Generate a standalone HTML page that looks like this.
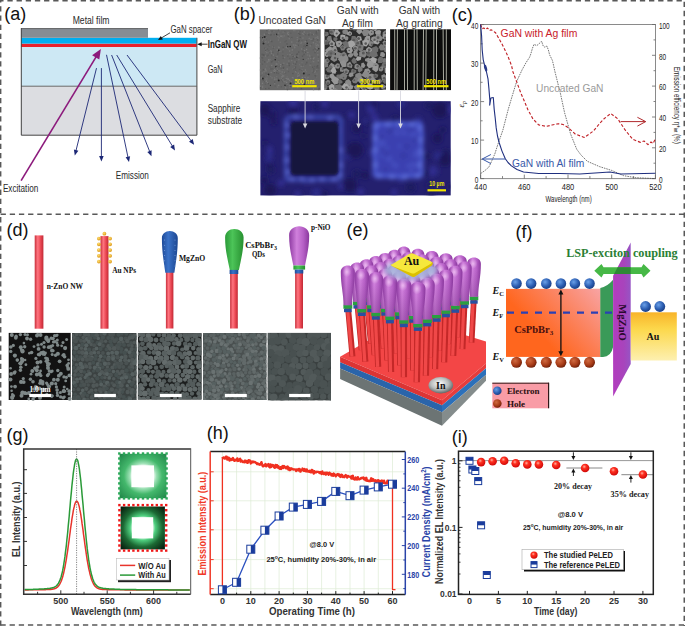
<!DOCTYPE html>
<html><head><meta charset="utf-8"><style>
html,body{margin:0;padding:0;background:#fff;}
svg{display:block;}
</style></head><body>
<svg width="685" height="626" viewBox="0 0 685 626">
<defs><linearGradient id="rodG" x1="0" x2="1" y1="0" y2="0"><stop offset="0" stop-color="#c8303c"/><stop offset="0.35" stop-color="#ff7580"/><stop offset="0.7" stop-color="#e84450"/><stop offset="1" stop-color="#c02a36"/></linearGradient>
<linearGradient id="blueH" x1="0" x2="1" y1="0" y2="0"><stop offset="0" stop-color="#1e4a98"/><stop offset="0.4" stop-color="#3a72c8"/><stop offset="1" stop-color="#1c4690"/></linearGradient>
<linearGradient id="greenH" x1="0" x2="1" y1="0" y2="0"><stop offset="0" stop-color="#2a9a38"/><stop offset="0.4" stop-color="#4cc458"/><stop offset="1" stop-color="#279030"/></linearGradient>
<linearGradient id="purpH" x1="0" x2="1" y1="0" y2="0"><stop offset="0" stop-color="#8e3aa2"/><stop offset="0.38" stop-color="#d080dc"/><stop offset="0.7" stop-color="#b660c6"/><stop offset="1" stop-color="#8a389e"/></linearGradient>
<radialGradient id="goldB" cx="0.4" cy="0.35" r="0.7"><stop offset="0" stop-color="#ffe070"/><stop offset="1" stop-color="#d89010"/></radialGradient>
<radialGradient id="eB" cx="0.38" cy="0.35" r="0.7"><stop offset="0" stop-color="#6aa0e8"/><stop offset="0.6" stop-color="#2a5cb0"/><stop offset="1" stop-color="#1a3c80"/></radialGradient>
<radialGradient id="hB" cx="0.38" cy="0.35" r="0.7"><stop offset="0" stop-color="#d06a40"/><stop offset="0.6" stop-color="#a83c18"/><stop offset="1" stop-color="#6a1e08"/></radialGradient>
<radialGradient id="rB" cx="0.4" cy="0.35" r="0.65"><stop offset="0" stop-color="#ffb0a0"/><stop offset="0.35" stop-color="#ff3020"/><stop offset="1" stop-color="#d00808"/></radialGradient>
<radialGradient id="inB" cx="0.45" cy="0.4" r="0.65"><stop offset="0" stop-color="#ffffff"/><stop offset="0.55" stop-color="#b8bcbc"/><stop offset="1" stop-color="#505858"/></radialGradient>
<linearGradient id="orgG" gradientUnits="userSpaceOnUse" x1="545" y1="340" x2="600" y2="289"><stop offset="0" stop-color="#f8a0a0" stop-opacity="0"/><stop offset="0.45" stop-color="#f8a0a0" stop-opacity="0.45"/><stop offset="1" stop-color="#f8a4a4" stop-opacity="1"/></linearGradient>
<linearGradient id="auG" x1="0" x2="0" y1="0" y2="1"><stop offset="0" stop-color="#f8b42a"/><stop offset="0.35" stop-color="#fcd84c"/><stop offset="1" stop-color="#fdf0b0"/></linearGradient>
<linearGradient id="mgG" x1="0" x2="1" y1="0" y2="0"><stop offset="0" stop-color="#b23cbe"/><stop offset="0.6" stop-color="#a844bc"/><stop offset="1" stop-color="#9654c4"/></linearGradient>
<radialGradient id="gin1" cx="0.5" cy="0.5" r="0.68"><stop offset="0.32" stop-color="#ffffff"/><stop offset="0.42" stop-color="#9ce0b4"/><stop offset="0.6" stop-color="#44b86c"/><stop offset="1" stop-color="#22884a"/></radialGradient>
<radialGradient id="gin2" cx="0.5" cy="0.5" r="0.68"><stop offset="0.3" stop-color="#ffffff"/><stop offset="0.42" stop-color="#50d080"/><stop offset="0.65" stop-color="#1c6a34"/><stop offset="1" stop-color="#061a0c"/></radialGradient>
<pattern id="dotG" width="3" height="3" patternUnits="userSpaceOnUse"><rect width="1.6" height="1.6" fill="#2ab04a"/></pattern>
<pattern id="dotR" width="3" height="3" patternUnits="userSpaceOnUse"><rect width="1.6" height="1.6" fill="#e82020"/></pattern>
<filter id="blur06" x="-20%" y="-20%" width="140%" height="140%"><feGaussianBlur stdDeviation="0.6"/></filter>
<linearGradient id="hdark" x1="0" x2="0" y1="0" y2="1"><stop offset="0.3" stop-color="#5a1a6a" stop-opacity="0"/><stop offset="1" stop-color="#5a1a6a" stop-opacity="0.3"/></linearGradient>
<radialGradient id="hlite" cx="0.5" cy="0.5" r="0.5"><stop offset="0" stop-color="#ffe0ff" stop-opacity="0.6"/><stop offset="1" stop-color="#ffe0ff" stop-opacity="0"/></radialGradient>
<clipPath id="clipMg"><polygon points="613.1,275.7 630.7,242.6 630.7,364 613.1,396.5"/></clipPath>
<clipPath id="clipE"><rect x="330" y="240" width="156" height="190"/></clipPath>
<filter id="blur2" x="-20%" y="-20%" width="140%" height="140%"><feGaussianBlur stdDeviation="2"/></filter>
<filter id="blur1" x="-20%" y="-20%" width="140%" height="140%"><feGaussianBlur stdDeviation="1.1"/></filter>
<clipPath id="clipB"><rect x="260.4" y="101.2" width="190.3" height="94.2"/></clipPath></defs>
<rect width="685" height="626" fill="#fff"/>
<line x1="0" y1="0.75" x2="685" y2="0.75" stroke="#585858" stroke-width="1.5" stroke-dasharray="5.3 3.866" stroke-dashoffset="1.77"/>
<line x1="0.65" y1="0" x2="0.65" y2="626" stroke="#585858" stroke-width="1.5" stroke-dasharray="5.3 3.866" stroke-dashoffset="2.87"/>
<line x1="684.25" y1="0" x2="684.25" y2="626" stroke="#585858" stroke-width="1.5" stroke-dasharray="5.3 3.866" stroke-dashoffset="7.47"/>
<line x1="0" y1="625" x2="685" y2="625" stroke="#585858" stroke-width="1.5" stroke-dasharray="5.3 3.866" stroke-dashoffset="8.74"/>
<line x1="0" y1="214.3" x2="685" y2="214.3" stroke="#585858" stroke-width="1.5" stroke-dasharray="5.3 3.866" stroke-dashoffset="8.57"/>
<text x="4.2" y="19.8" font-size="18" fill="#111" font-family='"Liberation Sans", sans-serif'>(a)</text>
<rect x="21.0" y="86.0" width="176.2" height="49.2" fill="#dcdde1" />
<rect x="21.0" y="46.8" width="175.7" height="39.2" fill="#cde8f4" />
<line x1="21.0" y1="86.2" x2="196.7" y2="86.2" stroke="#6a6a6a" stroke-width="1" />
<rect x="21.0" y="43.6" width="175.7" height="3.4" fill="#e8202a" />
<rect x="21.0" y="37.8" width="175.7" height="5.8" fill="#00aeef" />
<rect x="21.0" y="28.2" width="127.0" height="9.6" fill="#868d94" />
<line x1="21.0" y1="28.6" x2="148.0" y2="28.6" stroke="#555" stroke-width="0.8" />
<polyline points="21.3,28.2 21.3,135.2 196.9,135.2 196.9,37.8" fill="none" stroke="#444" stroke-width="1" stroke-linejoin="round" />
<line x1="96.5" y1="68.1" x2="75.7" y2="151.8" stroke="#1c2775" stroke-width="0.9" />
<polygon points="74.8,155.5 73.9,149.6 78.4,150.7" fill="#1c2775" />
<line x1="101.4" y1="68.1" x2="101.4" y2="157.6" stroke="#1c2775" stroke-width="0.9" />
<polygon points="101.4,161.4 99.1,155.9 103.7,155.9" fill="#1c2775" />
<line x1="106.5" y1="54.8" x2="128.2" y2="158.3" stroke="#1c2775" stroke-width="0.9" />
<polygon points="129.0,162.1 125.6,157.2 130.1,156.2" fill="#1c2775" />
<line x1="111.6" y1="55.0" x2="150.1" y2="152.6" stroke="#1c2775" stroke-width="0.9" />
<polygon points="151.5,156.2 147.3,151.9 151.6,150.2" fill="#1c2775" />
<line x1="116.7" y1="55.0" x2="173.0" y2="147.1" stroke="#1c2775" stroke-width="0.9" />
<polygon points="175.0,150.4 170.2,146.9 174.1,144.5" fill="#1c2775" />
<line x1="127.0" y1="55.0" x2="191.8" y2="141.7" stroke="#1c2775" stroke-width="0.9" />
<polygon points="194.1,144.8 189.0,141.8 192.7,139.0" fill="#1c2775" />
<line x1="21.1" y1="180.6" x2="97.3" y2="54.9" stroke="#8c1a7c" stroke-width="1.6" />
<polygon points="100.9,48.9 99.3,59.6 92.1,55.3" fill="#8c1a7c" />
<text x="72.7" y="24.4" font-size="11" fill="#2a2a2a" font-family='"Liberation Sans", sans-serif' textLength="36.8" lengthAdjust="spacingAndGlyphs">Metal film</text>
<text x="170.5" y="33.2" font-size="11" fill="#2a2a2a" font-family='"Liberation Sans", sans-serif' textLength="41.9" lengthAdjust="spacingAndGlyphs">GaN spacer</text>
<line x1="170.0" y1="32.8" x2="160.7" y2="38.4" stroke="#111" stroke-width="0.8" />
<polygon points="158.0,40.0 160.8,36.0 162.9,39.4" fill="#111" />
<text x="207.7" y="47.8" font-size="11" fill="#111" font-family='"Liberation Sans", sans-serif' font-weight="bold" textLength="39.3" lengthAdjust="spacingAndGlyphs">InGaN QW</text>
<line x1="207.5" y1="44.2" x2="200.3" y2="44.2" stroke="#111" stroke-width="0.8" />
<polygon points="197.2,44.2 201.7,42.2 201.7,46.2" fill="#111" />
<text x="207.7" y="73.0" font-size="11" fill="#2a2a2a" font-family='"Liberation Sans", sans-serif' textLength="14.9" lengthAdjust="spacingAndGlyphs">GaN</text>
<text x="207.7" y="111.8" font-size="11" fill="#2a2a2a" font-family='"Liberation Sans", sans-serif' textLength="32.6" lengthAdjust="spacingAndGlyphs">Sapphire</text>
<text x="207.7" y="123.8" font-size="11" fill="#2a2a2a" font-family='"Liberation Sans", sans-serif' textLength="34.5" lengthAdjust="spacingAndGlyphs">substrate</text>
<text x="115.7" y="179.2" font-size="11" fill="#2a2a2a" font-family='"Liberation Sans", sans-serif' textLength="33.2" lengthAdjust="spacingAndGlyphs">Emission</text>
<text x="2.9" y="192.2" font-size="11" fill="#2a2a2a" font-family='"Liberation Sans", sans-serif' textLength="35.4" lengthAdjust="spacingAndGlyphs">Excitation</text>
<text x="233.8" y="19.8" font-size="18" fill="#111" font-family='"Liberation Sans", sans-serif'>(b)</text>
<text x="258.4" y="24.4" font-size="10.5" fill="#333" font-family='"Liberation Sans", sans-serif' textLength="67.6" lengthAdjust="spacingAndGlyphs">Uncoated GaN</text>
<text x="336.8" y="13.9" font-size="10.5" fill="#333" font-family='"Liberation Sans", sans-serif' textLength="41.9" lengthAdjust="spacingAndGlyphs">GaN with</text>
<text x="342.0" y="26.6" font-size="10.5" fill="#333" font-family='"Liberation Sans", sans-serif' textLength="31.0" lengthAdjust="spacingAndGlyphs">Ag film</text>
<text x="398.7" y="13.9" font-size="10.5" fill="#333" font-family='"Liberation Sans", sans-serif' textLength="41.5" lengthAdjust="spacingAndGlyphs">GaN with</text>
<text x="396.0" y="26.6" font-size="10.5" fill="#333" font-family='"Liberation Sans", sans-serif' textLength="46.6" lengthAdjust="spacingAndGlyphs">Ag grating</text>
<rect x="259.8" y="29.4" width="60.9" height="60.8" fill="#676767" />
<rect x="296.9" y="73.5" width="1.3" height="1.3" fill="#707070"/>
<rect x="261.5" y="57.1" width="1.3" height="1.3" fill="#585858"/>
<rect x="298.5" y="83.0" width="1.3" height="1.3" fill="#767676"/>
<rect x="282.0" y="81.1" width="1.3" height="1.3" fill="#5e5e5e"/>
<rect x="292.2" y="63.5" width="1.3" height="1.3" fill="#767676"/>
<rect x="303.4" y="53.7" width="1.3" height="1.3" fill="#585858"/>
<rect x="314.4" y="75.0" width="1.3" height="1.3" fill="#585858"/>
<rect x="305.2" y="33.7" width="1.3" height="1.3" fill="#707070"/>
<rect x="296.6" y="36.9" width="1.3" height="1.3" fill="#767676"/>
<rect x="317.8" y="29.7" width="1.3" height="1.3" fill="#585858"/>
<rect x="317.0" y="39.3" width="1.3" height="1.3" fill="#585858"/>
<rect x="277.0" y="86.6" width="1.3" height="1.3" fill="#707070"/>
<rect x="312.0" y="66.6" width="1.3" height="1.3" fill="#585858"/>
<rect x="315.9" y="70.5" width="1.3" height="1.3" fill="#5e5e5e"/>
<rect x="277.6" y="50.9" width="1.3" height="1.3" fill="#585858"/>
<rect x="315.6" y="45.1" width="1.3" height="1.3" fill="#7a7a7a"/>
<rect x="277.8" y="65.3" width="1.3" height="1.3" fill="#767676"/>
<rect x="295.3" y="71.5" width="1.3" height="1.3" fill="#767676"/>
<rect x="278.3" y="78.1" width="1.3" height="1.3" fill="#5e5e5e"/>
<rect x="301.3" y="40.4" width="1.3" height="1.3" fill="#5e5e5e"/>
<rect x="301.8" y="32.8" width="1.3" height="1.3" fill="#767676"/>
<rect x="316.4" y="50.7" width="1.3" height="1.3" fill="#5e5e5e"/>
<rect x="260.9" y="76.3" width="1.3" height="1.3" fill="#7a7a7a"/>
<rect x="282.2" y="79.5" width="1.3" height="1.3" fill="#5e5e5e"/>
<rect x="262.6" y="40.2" width="1.3" height="1.3" fill="#585858"/>
<rect x="266.9" y="44.0" width="1.3" height="1.3" fill="#5e5e5e"/>
<rect x="280.3" y="50.5" width="1.3" height="1.3" fill="#707070"/>
<rect x="274.8" y="56.9" width="1.3" height="1.3" fill="#707070"/>
<rect x="304.4" y="76.8" width="1.3" height="1.3" fill="#7a7a7a"/>
<rect x="262.0" y="85.7" width="1.3" height="1.3" fill="#767676"/>
<rect x="272.2" y="59.9" width="1.3" height="1.3" fill="#7a7a7a"/>
<rect x="314.5" y="49.6" width="1.3" height="1.3" fill="#707070"/>
<rect x="265.3" y="70.2" width="1.3" height="1.3" fill="#7a7a7a"/>
<rect x="270.4" y="34.1" width="1.3" height="1.3" fill="#585858"/>
<rect x="302.8" y="47.8" width="1.3" height="1.3" fill="#5e5e5e"/>
<rect x="269.4" y="32.3" width="1.3" height="1.3" fill="#707070"/>
<rect x="291.6" y="53.6" width="1.3" height="1.3" fill="#585858"/>
<rect x="303.9" y="49.9" width="1.3" height="1.3" fill="#7a7a7a"/>
<rect x="287.0" y="54.5" width="1.3" height="1.3" fill="#767676"/>
<rect x="318.2" y="67.4" width="1.3" height="1.3" fill="#5e5e5e"/>
<rect x="279.7" y="41.7" width="1.3" height="1.3" fill="#707070"/>
<rect x="316.4" y="66.9" width="1.3" height="1.3" fill="#5e5e5e"/>
<rect x="266.2" y="55.3" width="1.3" height="1.3" fill="#585858"/>
<rect x="263.3" y="54.4" width="1.3" height="1.3" fill="#585858"/>
<rect x="286.8" y="88.9" width="1.3" height="1.3" fill="#585858"/>
<rect x="318.0" y="56.4" width="1.3" height="1.3" fill="#5e5e5e"/>
<rect x="300.9" y="48.3" width="1.3" height="1.3" fill="#7a7a7a"/>
<rect x="277.1" y="53.4" width="1.3" height="1.3" fill="#585858"/>
<rect x="266.5" y="78.3" width="1.3" height="1.3" fill="#707070"/>
<rect x="317.0" y="66.7" width="1.3" height="1.3" fill="#5e5e5e"/>
<rect x="311.5" y="40.1" width="1.3" height="1.3" fill="#5e5e5e"/>
<rect x="276.0" y="75.9" width="1.3" height="1.3" fill="#707070"/>
<rect x="281.3" y="76.2" width="1.3" height="1.3" fill="#7a7a7a"/>
<rect x="301.2" y="68.9" width="1.3" height="1.3" fill="#7a7a7a"/>
<rect x="281.5" y="71.3" width="1.3" height="1.3" fill="#7a7a7a"/>
<rect x="309.6" y="45.2" width="1.3" height="1.3" fill="#7a7a7a"/>
<rect x="316.8" y="49.6" width="1.3" height="1.3" fill="#585858"/>
<rect x="294.4" y="30.1" width="1.3" height="1.3" fill="#707070"/>
<rect x="305.9" y="48.8" width="1.3" height="1.3" fill="#7a7a7a"/>
<rect x="287.4" y="78.0" width="1.3" height="1.3" fill="#7a7a7a"/>
<rect x="280.5" y="67.7" width="1.3" height="1.3" fill="#5e5e5e"/>
<rect x="280.7" y="79.6" width="1.3" height="1.3" fill="#5e5e5e"/>
<rect x="318.0" y="86.3" width="1.3" height="1.3" fill="#707070"/>
<rect x="268.3" y="87.7" width="1.3" height="1.3" fill="#585858"/>
<rect x="309.7" y="85.2" width="1.3" height="1.3" fill="#5e5e5e"/>
<rect x="276.7" y="34.1" width="1.3" height="1.3" fill="#5e5e5e"/>
<rect x="270.0" y="75.8" width="1.3" height="1.3" fill="#707070"/>
<rect x="290.6" y="85.1" width="1.3" height="1.3" fill="#7a7a7a"/>
<rect x="297.0" y="75.5" width="1.3" height="1.3" fill="#7a7a7a"/>
<rect x="302.7" y="31.0" width="1.3" height="1.3" fill="#585858"/>
<rect x="294.8" y="66.5" width="1.3" height="1.3" fill="#585858"/>
<rect x="272.9" y="70.2" width="1.3" height="1.3" fill="#767676"/>
<rect x="318.6" y="87.7" width="1.3" height="1.3" fill="#585858"/>
<rect x="263.0" y="37.3" width="1.3" height="1.3" fill="#7a7a7a"/>
<rect x="317.5" y="58.1" width="1.3" height="1.3" fill="#707070"/>
<rect x="261.9" y="57.1" width="1.3" height="1.3" fill="#5e5e5e"/>
<rect x="299.3" y="33.7" width="1.3" height="1.3" fill="#585858"/>
<rect x="274.0" y="83.1" width="1.3" height="1.3" fill="#767676"/>
<rect x="280.7" y="86.1" width="1.3" height="1.3" fill="#5e5e5e"/>
<rect x="311.4" y="70.4" width="1.3" height="1.3" fill="#707070"/>
<rect x="282.1" y="31.5" width="1.3" height="1.3" fill="#707070"/>
<rect x="277.8" y="47.0" width="1.3" height="1.3" fill="#707070"/>
<rect x="280.0" y="64.0" width="1.3" height="1.3" fill="#7a7a7a"/>
<rect x="308.6" y="54.3" width="1.3" height="1.3" fill="#707070"/>
<rect x="298.1" y="51.4" width="1.3" height="1.3" fill="#585858"/>
<rect x="269.1" y="52.2" width="1.3" height="1.3" fill="#5e5e5e"/>
<rect x="316.8" y="87.0" width="1.3" height="1.3" fill="#707070"/>
<rect x="265.2" y="78.3" width="1.3" height="1.3" fill="#767676"/>
<rect x="282.6" y="48.8" width="1.3" height="1.3" fill="#707070"/>
<rect x="291.9" y="48.8" width="1.3" height="1.3" fill="#707070"/>
<rect x="282.2" y="55.1" width="1.3" height="1.3" fill="#585858"/>
<rect x="289.2" y="57.9" width="1.3" height="1.3" fill="#5e5e5e"/>
<rect x="282.7" y="80.3" width="1.3" height="1.3" fill="#585858"/>
<rect x="295.3" y="44.9" width="1.3" height="1.3" fill="#7a7a7a"/>
<rect x="289.4" y="54.1" width="1.3" height="1.3" fill="#7a7a7a"/>
<rect x="316.1" y="47.7" width="1.3" height="1.3" fill="#7a7a7a"/>
<rect x="268.3" y="30.8" width="1.3" height="1.3" fill="#707070"/>
<rect x="317.1" y="44.0" width="1.3" height="1.3" fill="#767676"/>
<rect x="306.4" y="78.6" width="1.3" height="1.3" fill="#767676"/>
<rect x="288.4" y="62.7" width="1.3" height="1.3" fill="#585858"/>
<rect x="315.5" y="75.9" width="1.3" height="1.3" fill="#585858"/>
<rect x="289.0" y="79.6" width="1.3" height="1.3" fill="#7a7a7a"/>
<rect x="277.3" y="65.6" width="1.3" height="1.3" fill="#5e5e5e"/>
<rect x="290.7" y="80.8" width="1.3" height="1.3" fill="#767676"/>
<rect x="260.8" y="36.9" width="1.3" height="1.3" fill="#7a7a7a"/>
<rect x="291.6" y="49.4" width="1.3" height="1.3" fill="#7a7a7a"/>
<rect x="303.4" y="31.0" width="1.3" height="1.3" fill="#7a7a7a"/>
<rect x="281.3" y="73.7" width="1.3" height="1.3" fill="#707070"/>
<rect x="267.7" y="29.6" width="1.3" height="1.3" fill="#707070"/>
<rect x="287.0" y="83.9" width="1.3" height="1.3" fill="#707070"/>
<rect x="271.2" y="55.0" width="1.3" height="1.3" fill="#5e5e5e"/>
<rect x="295.3" y="70.4" width="1.3" height="1.3" fill="#5e5e5e"/>
<rect x="311.0" y="79.5" width="1.3" height="1.3" fill="#5e5e5e"/>
<rect x="283.2" y="80.1" width="1.3" height="1.3" fill="#585858"/>
<rect x="313.4" y="57.1" width="1.3" height="1.3" fill="#767676"/>
<rect x="277.9" y="29.6" width="1.3" height="1.3" fill="#5e5e5e"/>
<rect x="294.5" y="68.0" width="1.3" height="1.3" fill="#5e5e5e"/>
<rect x="314.1" y="37.9" width="1.3" height="1.3" fill="#5e5e5e"/>
<rect x="301.2" y="82.3" width="1.3" height="1.3" fill="#7a7a7a"/>
<rect x="291.9" y="54.7" width="1.3" height="1.3" fill="#707070"/>
<rect x="308.2" y="33.5" width="1.3" height="1.3" fill="#585858"/>
<rect x="275.7" y="34.5" width="1.3" height="1.3" fill="#767676"/>
<rect x="299.4" y="30.9" width="1.3" height="1.3" fill="#5e5e5e"/>
<rect x="318.1" y="88.8" width="1.3" height="1.3" fill="#5e5e5e"/>
<rect x="262.7" y="79.5" width="1.3" height="1.3" fill="#585858"/>
<rect x="296.4" y="78.4" width="1.3" height="1.3" fill="#767676"/>
<rect x="302.3" y="37.4" width="1.3" height="1.3" fill="#7a7a7a"/>
<rect x="301.9" y="55.5" width="1.3" height="1.3" fill="#585858"/>
<rect x="296.2" y="54.0" width="1.3" height="1.3" fill="#585858"/>
<rect x="263.8" y="42.1" width="1.3" height="1.3" fill="#707070"/>
<rect x="266.2" y="52.0" width="1.3" height="1.3" fill="#767676"/>
<rect x="276.5" y="63.4" width="1.3" height="1.3" fill="#767676"/>
<rect x="304.0" y="81.7" width="1.3" height="1.3" fill="#585858"/>
<rect x="260.4" y="34.8" width="1.3" height="1.3" fill="#707070"/>
<rect x="289.0" y="50.4" width="1.3" height="1.3" fill="#7a7a7a"/>
<rect x="314.3" y="37.6" width="1.3" height="1.3" fill="#7a7a7a"/>
<rect x="268.8" y="67.0" width="1.3" height="1.3" fill="#707070"/>
<rect x="277.1" y="85.4" width="1.3" height="1.3" fill="#707070"/>
<rect x="296.8" y="45.1" width="1.3" height="1.3" fill="#707070"/>
<rect x="273.8" y="78.9" width="1.3" height="1.3" fill="#7a7a7a"/>
<rect x="290.6" y="37.4" width="1.3" height="1.3" fill="#585858"/>
<rect x="311.3" y="56.4" width="1.3" height="1.3" fill="#5e5e5e"/>
<rect x="270.5" y="71.8" width="1.3" height="1.3" fill="#7a7a7a"/>
<rect x="264.9" y="69.1" width="1.3" height="1.3" fill="#767676"/>
<rect x="311.3" y="59.5" width="1.3" height="1.3" fill="#5e5e5e"/>
<rect x="274.0" y="81.6" width="1.3" height="1.3" fill="#5e5e5e"/>
<rect x="317.2" y="35.8" width="1.3" height="1.3" fill="#707070"/>
<rect x="261.6" y="72.5" width="1.3" height="1.3" fill="#767676"/>
<rect x="310.4" y="85.6" width="1.3" height="1.3" fill="#5e5e5e"/>
<rect x="300.4" y="42.7" width="1.3" height="1.3" fill="#767676"/>
<rect x="264.8" y="83.6" width="1.3" height="1.3" fill="#5e5e5e"/>
<rect x="308.7" y="37.7" width="1.3" height="1.3" fill="#707070"/>
<rect x="282.2" y="79.1" width="1.3" height="1.3" fill="#7a7a7a"/>
<rect x="279.7" y="65.9" width="1.3" height="1.3" fill="#7a7a7a"/>
<rect x="307.2" y="51.9" width="1.3" height="1.3" fill="#7a7a7a"/>
<rect x="298.4" y="77.3" width="1.3" height="1.3" fill="#5e5e5e"/>
<rect x="317.1" y="51.0" width="1.3" height="1.3" fill="#767676"/>
<rect x="295.1" y="63.5" width="1.3" height="1.3" fill="#585858"/>
<rect x="283.4" y="35.2" width="1.3" height="1.3" fill="#767676"/>
<rect x="270.9" y="41.0" width="1.3" height="1.3" fill="#5e5e5e"/>
<rect x="312.8" y="58.0" width="1.3" height="1.3" fill="#7a7a7a"/>
<rect x="259.8" y="57.4" width="1.3" height="1.3" fill="#707070"/>
<rect x="314.7" y="48.6" width="1.3" height="1.3" fill="#5e5e5e"/>
<rect x="265.7" y="38.6" width="1.3" height="1.3" fill="#585858"/>
<rect x="264.0" y="81.1" width="1.3" height="1.3" fill="#5e5e5e"/>
<rect x="268.9" y="44.5" width="1.3" height="1.3" fill="#7a7a7a"/>
<rect x="308.6" y="74.0" width="1.3" height="1.3" fill="#585858"/>
<rect x="261.8" y="82.7" width="1.3" height="1.3" fill="#7a7a7a"/>
<rect x="314.9" y="51.4" width="1.3" height="1.3" fill="#767676"/>
<rect x="300.8" y="69.5" width="1.3" height="1.3" fill="#5e5e5e"/>
<rect x="310.4" y="38.7" width="1.3" height="1.3" fill="#7a7a7a"/>
<rect x="277.1" y="69.5" width="1.3" height="1.3" fill="#585858"/>
<rect x="261.8" y="71.9" width="1.3" height="1.3" fill="#707070"/>
<rect x="273.5" y="34.1" width="1.3" height="1.3" fill="#5e5e5e"/>
<rect x="314.1" y="71.4" width="1.3" height="1.3" fill="#7a7a7a"/>
<rect x="270.8" y="50.9" width="1.3" height="1.3" fill="#767676"/>
<rect x="303.4" y="72.1" width="1.3" height="1.3" fill="#585858"/>
<rect x="306.0" y="39.9" width="1.3" height="1.3" fill="#585858"/>
<rect x="315.9" y="67.8" width="1.3" height="1.3" fill="#5e5e5e"/>
<rect x="303.1" y="45.5" width="1.3" height="1.3" fill="#5e5e5e"/>
<rect x="263.4" y="75.8" width="1.3" height="1.3" fill="#5e5e5e"/>
<rect x="269.9" y="31.4" width="1.3" height="1.3" fill="#707070"/>
<rect x="293.5" y="85.3" width="1.3" height="1.3" fill="#767676"/>
<rect x="273.9" y="77.2" width="1.3" height="1.3" fill="#767676"/>
<rect x="315.6" y="32.6" width="1.3" height="1.3" fill="#585858"/>
<rect x="298.2" y="59.0" width="1.3" height="1.3" fill="#767676"/>
<rect x="262.7" y="79.0" width="1.3" height="1.3" fill="#5e5e5e"/>
<rect x="278.0" y="32.5" width="1.3" height="1.3" fill="#767676"/>
<rect x="316.4" y="41.0" width="1.3" height="1.3" fill="#707070"/>
<rect x="298.0" y="40.6" width="1.3" height="1.3" fill="#585858"/>
<rect x="264.8" y="48.1" width="1.3" height="1.3" fill="#767676"/>
<rect x="265.0" y="88.0" width="1.3" height="1.3" fill="#585858"/>
<rect x="295.5" y="80.4" width="1.3" height="1.3" fill="#585858"/>
<rect x="297.0" y="55.7" width="1.3" height="1.3" fill="#7a7a7a"/>
<rect x="288.8" y="63.4" width="1.3" height="1.3" fill="#5e5e5e"/>
<rect x="290.9" y="37.3" width="1.3" height="1.3" fill="#767676"/>
<rect x="314.2" y="47.7" width="1.3" height="1.3" fill="#5e5e5e"/>
<rect x="312.9" y="88.9" width="1.3" height="1.3" fill="#707070"/>
<rect x="266.7" y="47.9" width="1.3" height="1.3" fill="#767676"/>
<rect x="306.3" y="45.1" width="1.3" height="1.3" fill="#5e5e5e"/>
<rect x="278.4" y="37.1" width="1.3" height="1.3" fill="#767676"/>
<rect x="287.9" y="70.9" width="1.3" height="1.3" fill="#5e5e5e"/>
<rect x="317.5" y="69.0" width="1.3" height="1.3" fill="#7a7a7a"/>
<rect x="263.5" y="71.1" width="1.3" height="1.3" fill="#767676"/>
<rect x="301.7" y="76.8" width="1.3" height="1.3" fill="#7a7a7a"/>
<rect x="312.6" y="33.7" width="1.3" height="1.3" fill="#7a7a7a"/>
<rect x="282.4" y="75.2" width="1.3" height="1.3" fill="#767676"/>
<rect x="313.2" y="68.3" width="1.3" height="1.3" fill="#585858"/>
<rect x="294.1" y="55.7" width="1.3" height="1.3" fill="#767676"/>
<rect x="303.2" y="71.1" width="1.3" height="1.3" fill="#7a7a7a"/>
<rect x="266.1" y="77.3" width="1.3" height="1.3" fill="#707070"/>
<rect x="267.6" y="33.3" width="1.3" height="1.3" fill="#585858"/>
<rect x="268.0" y="59.0" width="1.3" height="1.3" fill="#7a7a7a"/>
<rect x="276.8" y="33.2" width="1.3" height="1.3" fill="#707070"/>
<rect x="261.5" y="36.6" width="1.3" height="1.3" fill="#585858"/>
<rect x="309.1" y="55.3" width="1.3" height="1.3" fill="#7a7a7a"/>
<rect x="316.4" y="65.8" width="1.3" height="1.3" fill="#585858"/>
<rect x="291.2" y="36.9" width="1.3" height="1.3" fill="#585858"/>
<rect x="279.5" y="30.1" width="1.3" height="1.3" fill="#707070"/>
<rect x="296.7" y="39.1" width="1.3" height="1.3" fill="#767676"/>
<rect x="275.8" y="65.5" width="1.3" height="1.3" fill="#585858"/>
<rect x="286.4" y="85.2" width="1.3" height="1.3" fill="#5e5e5e"/>
<rect x="266.8" y="48.3" width="1.3" height="1.3" fill="#585858"/>
<rect x="287.3" y="55.2" width="1.3" height="1.3" fill="#5e5e5e"/>
<rect x="262.7" y="69.1" width="1.3" height="1.3" fill="#585858"/>
<rect x="291.5" y="87.1" width="1.3" height="1.3" fill="#707070"/>
<rect x="259.9" y="36.9" width="1.3" height="1.3" fill="#5e5e5e"/>
<rect x="300.7" y="41.7" width="1.3" height="1.3" fill="#767676"/>
<rect x="261.8" y="63.7" width="1.3" height="1.3" fill="#5e5e5e"/>
<rect x="301.8" y="50.5" width="1.3" height="1.3" fill="#5e5e5e"/>
<rect x="272.7" y="45.9" width="1.3" height="1.3" fill="#585858"/>
<rect x="277.9" y="60.1" width="1.3" height="1.3" fill="#585858"/>
<rect x="281.7" y="77.5" width="1.3" height="1.3" fill="#767676"/>
<rect x="296.6" y="53.3" width="1.3" height="1.3" fill="#585858"/>
<rect x="268.3" y="43.6" width="1.3" height="1.3" fill="#5e5e5e"/>
<rect x="262.0" y="39.5" width="1.3" height="1.3" fill="#767676"/>
<rect x="304.7" y="46.1" width="1.3" height="1.3" fill="#585858"/>
<rect x="307.3" y="74.3" width="1.3" height="1.3" fill="#5e5e5e"/>
<rect x="300.5" y="80.8" width="1.3" height="1.3" fill="#707070"/>
<rect x="265.2" y="41.2" width="1.3" height="1.3" fill="#767676"/>
<rect x="266.0" y="65.4" width="1.3" height="1.3" fill="#707070"/>
<rect x="270.8" y="52.6" width="1.3" height="1.3" fill="#7a7a7a"/>
<rect x="300.2" y="65.7" width="1.3" height="1.3" fill="#707070"/>
<rect x="282.6" y="57.7" width="1.3" height="1.3" fill="#5e5e5e"/>
<rect x="286.6" y="76.3" width="1.3" height="1.3" fill="#707070"/>
<rect x="314.9" y="70.6" width="1.3" height="1.3" fill="#767676"/>
<rect x="291.8" y="76.9" width="1.3" height="1.3" fill="#7a7a7a"/>
<rect x="316.9" y="30.6" width="1.3" height="1.3" fill="#707070"/>
<rect x="272.1" y="46.4" width="1.3" height="1.3" fill="#767676"/>
<rect x="265.0" y="50.6" width="1.3" height="1.3" fill="#707070"/>
<rect x="311.2" y="85.4" width="1.3" height="1.3" fill="#5e5e5e"/>
<rect x="278.1" y="84.7" width="1.3" height="1.3" fill="#7a7a7a"/>
<rect x="315.2" y="43.3" width="1.3" height="1.3" fill="#767676"/>
<rect x="304.7" y="69.3" width="1.3" height="1.3" fill="#7a7a7a"/>
<rect x="313.3" y="70.3" width="1.3" height="1.3" fill="#707070"/>
<rect x="296.2" y="41.8" width="1.3" height="1.3" fill="#707070"/>
<rect x="265.3" y="36.6" width="1.3" height="1.3" fill="#7a7a7a"/>
<rect x="317.9" y="61.8" width="1.3" height="1.3" fill="#5e5e5e"/>
<rect x="317.6" y="69.3" width="1.3" height="1.3" fill="#5e5e5e"/>
<rect x="270.4" y="68.3" width="1.3" height="1.3" fill="#585858"/>
<rect x="314.0" y="65.9" width="1.3" height="1.3" fill="#5e5e5e"/>
<rect x="279.1" y="79.6" width="1.3" height="1.3" fill="#707070"/>
<rect x="300.8" y="87.9" width="1.3" height="1.3" fill="#585858"/>
<rect x="312.7" y="42.1" width="1.3" height="1.3" fill="#7a7a7a"/>
<rect x="307.3" y="76.8" width="1.3" height="1.3" fill="#767676"/>
<rect x="313.3" y="39.4" width="1.3" height="1.3" fill="#5e5e5e"/>
<rect x="305.5" y="42.8" width="1.3" height="1.3" fill="#767676"/>
<rect x="293.8" y="66.7" width="1.3" height="1.3" fill="#707070"/>
<rect x="303.2" y="54.2" width="1.3" height="1.3" fill="#5e5e5e"/>
<rect x="288.6" y="64.9" width="1.3" height="1.3" fill="#585858"/>
<rect x="277.8" y="46.1" width="1.3" height="1.3" fill="#707070"/>
<rect x="312.8" y="49.1" width="1.3" height="1.3" fill="#5e5e5e"/>
<rect x="261.6" y="36.3" width="1.3" height="1.3" fill="#707070"/>
<rect x="292.9" y="62.9" width="1.3" height="1.3" fill="#5e5e5e"/>
<rect x="271.1" y="64.8" width="1.3" height="1.3" fill="#7a7a7a"/>
<rect x="303.2" y="33.1" width="1.3" height="1.3" fill="#5e5e5e"/>
<rect x="268.0" y="60.3" width="1.3" height="1.3" fill="#767676"/>
<rect x="278.8" y="80.0" width="1.3" height="1.3" fill="#5e5e5e"/>
<rect x="315.0" y="43.0" width="1.3" height="1.3" fill="#707070"/>
<rect x="309.9" y="57.8" width="1.3" height="1.3" fill="#767676"/>
<rect x="259.9" y="69.4" width="1.3" height="1.3" fill="#767676"/>
<rect x="265.3" y="38.4" width="1.3" height="1.3" fill="#707070"/>
<rect x="305.1" y="63.6" width="1.3" height="1.3" fill="#5e5e5e"/>
<rect x="303.7" y="78.0" width="1.3" height="1.3" fill="#585858"/>
<rect x="302.3" y="84.4" width="1.3" height="1.3" fill="#707070"/>
<rect x="297.1" y="86.8" width="1.3" height="1.3" fill="#767676"/>
<rect x="281.6" y="77.8" width="1.3" height="1.3" fill="#585858"/>
<rect x="272.1" y="51.7" width="1.3" height="1.3" fill="#5e5e5e"/>
<rect x="312.9" y="88.2" width="1.3" height="1.3" fill="#767676"/>
<rect x="274.5" y="85.4" width="1.3" height="1.3" fill="#5e5e5e"/>
<rect x="282.2" y="36.4" width="1.3" height="1.3" fill="#707070"/>
<rect x="317.1" y="37.3" width="1.3" height="1.3" fill="#767676"/>
<rect x="289.3" y="86.7" width="1.3" height="1.3" fill="#767676"/>
<rect x="289.0" y="85.2" width="1.3" height="1.3" fill="#7a7a7a"/>
<rect x="260.7" y="77.6" width="1.3" height="1.3" fill="#7a7a7a"/>
<rect x="304.6" y="41.0" width="1.3" height="1.3" fill="#7a7a7a"/>
<rect x="282.6" y="46.7" width="1.3" height="1.3" fill="#5e5e5e"/>
<rect x="298.1" y="75.0" width="1.3" height="1.3" fill="#767676"/>
<rect x="294.1" y="47.0" width="1.3" height="1.3" fill="#7a7a7a"/>
<rect x="316.0" y="33.2" width="1.3" height="1.3" fill="#5e5e5e"/>
<rect x="262.8" y="54.4" width="1.3" height="1.3" fill="#585858"/>
<rect x="276.0" y="72.2" width="1.3" height="1.3" fill="#585858"/>
<rect x="276.0" y="35.1" width="1.3" height="1.3" fill="#5e5e5e"/>
<rect x="285.6" y="40.1" width="1.3" height="1.3" fill="#5e5e5e"/>
<rect x="310.8" y="44.0" width="1.3" height="1.3" fill="#5e5e5e"/>
<rect x="281.0" y="77.6" width="1.3" height="1.3" fill="#767676"/>
<rect x="308.6" y="37.8" width="1.3" height="1.3" fill="#767676"/>
<rect x="261.1" y="62.9" width="1.3" height="1.3" fill="#5e5e5e"/>
<rect x="311.5" y="34.1" width="1.3" height="1.3" fill="#585858"/>
<rect x="271.4" y="77.2" width="1.3" height="1.3" fill="#767676"/>
<rect x="287.9" y="34.5" width="1.3" height="1.3" fill="#7a7a7a"/>
<rect x="295.5" y="79.3" width="1.3" height="1.3" fill="#5e5e5e"/>
<rect x="290.1" y="32.6" width="1.3" height="1.3" fill="#5e5e5e"/>
<rect x="305.7" y="59.2" width="1.3" height="1.3" fill="#707070"/>
<rect x="315.8" y="68.7" width="1.3" height="1.3" fill="#707070"/>
<rect x="297.7" y="31.5" width="1.3" height="1.3" fill="#767676"/>
<rect x="284.9" y="72.4" width="1.3" height="1.3" fill="#5e5e5e"/>
<rect x="314.4" y="51.9" width="1.3" height="1.3" fill="#585858"/>
<rect x="313.0" y="38.2" width="1.3" height="1.3" fill="#585858"/>
<rect x="285.0" y="87.2" width="1.3" height="1.3" fill="#7a7a7a"/>
<rect x="272.7" y="54.5" width="1.3" height="1.3" fill="#7a7a7a"/>
<rect x="268.1" y="51.0" width="1.3" height="1.3" fill="#767676"/>
<rect x="299.5" y="36.7" width="1.3" height="1.3" fill="#585858"/>
<rect x="305.0" y="34.0" width="1.3" height="1.3" fill="#5e5e5e"/>
<rect x="261.9" y="53.8" width="1.3" height="1.3" fill="#585858"/>
<rect x="271.5" y="30.5" width="1.3" height="1.3" fill="#5e5e5e"/>
<rect x="317.1" y="65.0" width="1.3" height="1.3" fill="#585858"/>
<rect x="287.7" y="34.0" width="1.3" height="1.3" fill="#7a7a7a"/>
<rect x="315.7" y="31.3" width="1.3" height="1.3" fill="#585858"/>
<rect x="308.2" y="34.5" width="1.3" height="1.3" fill="#585858"/>
<rect x="304.7" y="51.6" width="1.3" height="1.3" fill="#585858"/>
<rect x="268.9" y="60.2" width="1.3" height="1.3" fill="#707070"/>
<rect x="265.2" y="36.0" width="1.3" height="1.3" fill="#5e5e5e"/>
<rect x="282.1" y="51.3" width="1.3" height="1.3" fill="#5e5e5e"/>
<rect x="292.4" y="55.8" width="1.3" height="1.3" fill="#585858"/>
<rect x="317.3" y="37.8" width="1.3" height="1.3" fill="#767676"/>
<rect x="292.3" y="72.9" width="1.3" height="1.3" fill="#585858"/>
<rect x="274.0" y="69.0" width="1.3" height="1.3" fill="#767676"/>
<rect x="260.3" y="75.3" width="1.3" height="1.3" fill="#5e5e5e"/>
<rect x="273.7" y="72.0" width="1.3" height="1.3" fill="#585858"/>
<rect x="307.1" y="32.7" width="1.3" height="1.3" fill="#707070"/>
<rect x="274.0" y="70.6" width="1.3" height="1.3" fill="#7a7a7a"/>
<rect x="306.1" y="62.6" width="1.3" height="1.3" fill="#5e5e5e"/>
<rect x="286.6" y="68.4" width="1.3" height="1.3" fill="#7a7a7a"/>
<rect x="293.7" y="45.8" width="1.3" height="1.3" fill="#707070"/>
<rect x="315.7" y="85.9" width="1.3" height="1.3" fill="#5e5e5e"/>
<rect x="277.8" y="39.3" width="1.3" height="1.3" fill="#767676"/>
<rect x="298.2" y="32.7" width="1.3" height="1.3" fill="#585858"/>
<rect x="291.3" y="52.5" width="1.3" height="1.3" fill="#707070"/>
<rect x="277.6" y="62.2" width="1.3" height="1.3" fill="#5e5e5e"/>
<rect x="268.0" y="50.3" width="1.3" height="1.3" fill="#5e5e5e"/>
<rect x="260.0" y="63.0" width="1.3" height="1.3" fill="#707070"/>
<rect x="286.9" y="33.0" width="1.3" height="1.3" fill="#767676"/>
<rect x="266.8" y="82.1" width="1.3" height="1.3" fill="#7a7a7a"/>
<rect x="317.5" y="45.1" width="1.3" height="1.3" fill="#7a7a7a"/>
<rect x="288.6" y="38.0" width="1.3" height="1.3" fill="#767676"/>
<rect x="275.4" y="78.7" width="1.3" height="1.3" fill="#7a7a7a"/>
<rect x="283.0" y="66.8" width="1.3" height="1.3" fill="#585858"/>
<rect x="301.6" y="64.6" width="1.3" height="1.3" fill="#5e5e5e"/>
<rect x="314.3" y="79.2" width="1.3" height="1.3" fill="#707070"/>
<rect x="268.0" y="32.5" width="1.3" height="1.3" fill="#7a7a7a"/>
<rect x="293.2" y="30.0" width="1.3" height="1.3" fill="#767676"/>
<rect x="301.1" y="65.8" width="1.3" height="1.3" fill="#767676"/>
<rect x="261.3" y="53.9" width="1.3" height="1.3" fill="#5e5e5e"/>
<rect x="302.8" y="65.8" width="1.3" height="1.3" fill="#707070"/>
<rect x="294.2" y="61.3" width="1.3" height="1.3" fill="#767676"/>
<rect x="301.9" y="72.2" width="1.3" height="1.3" fill="#707070"/>
<rect x="265.3" y="33.4" width="1.3" height="1.3" fill="#5e5e5e"/>
<rect x="277.9" y="60.6" width="1.3" height="1.3" fill="#707070"/>
<rect x="302.8" y="33.5" width="1.3" height="1.3" fill="#7a7a7a"/>
<rect x="267.0" y="74.3" width="1.3" height="1.3" fill="#7a7a7a"/>
<rect x="286.8" y="47.2" width="1.3" height="1.3" fill="#7a7a7a"/>
<rect x="290.5" y="83.1" width="1.3" height="1.3" fill="#5e5e5e"/>
<rect x="282.5" y="68.4" width="1.3" height="1.3" fill="#7a7a7a"/>
<rect x="278.6" y="65.8" width="1.3" height="1.3" fill="#5e5e5e"/>
<rect x="265.1" y="50.4" width="1.3" height="1.3" fill="#767676"/>
<rect x="297.9" y="55.4" width="1.3" height="1.3" fill="#707070"/>
<rect x="298.6" y="39.8" width="1.3" height="1.3" fill="#585858"/>
<rect x="314.3" y="39.5" width="1.3" height="1.3" fill="#707070"/>
<rect x="286.5" y="63.5" width="1.3" height="1.3" fill="#767676"/>
<rect x="268.4" y="45.3" width="1.3" height="1.3" fill="#5e5e5e"/>
<rect x="289.8" y="86.0" width="1.3" height="1.3" fill="#585858"/>
<rect x="292.9" y="68.8" width="1.3" height="1.3" fill="#5e5e5e"/>
<rect x="292.7" y="44.4" width="1.3" height="1.3" fill="#7a7a7a"/>
<rect x="277.3" y="35.8" width="1.3" height="1.3" fill="#7a7a7a"/>
<rect x="285.2" y="79.7" width="1.3" height="1.3" fill="#707070"/>
<rect x="275.6" y="66.8" width="1.3" height="1.3" fill="#767676"/>
<rect x="316.8" y="36.3" width="1.3" height="1.3" fill="#767676"/>
<rect x="279.9" y="35.5" width="1.3" height="1.3" fill="#7a7a7a"/>
<rect x="310.1" y="64.1" width="1.3" height="1.3" fill="#767676"/>
<rect x="306.1" y="61.7" width="1.3" height="1.3" fill="#585858"/>
<rect x="297.7" y="72.5" width="1.3" height="1.3" fill="#7a7a7a"/>
<rect x="265.8" y="80.4" width="1.3" height="1.3" fill="#767676"/>
<rect x="278.4" y="46.8" width="1.3" height="1.3" fill="#7a7a7a"/>
<rect x="284.3" y="81.1" width="1.3" height="1.3" fill="#767676"/>
<rect x="263.7" y="33.5" width="1.3" height="1.3" fill="#767676"/>
<rect x="316.0" y="76.4" width="1.3" height="1.3" fill="#707070"/>
<rect x="284.0" y="56.9" width="1.3" height="1.3" fill="#767676"/>
<rect x="273.3" y="31.0" width="1.3" height="1.3" fill="#707070"/>
<rect x="292.1" y="68.2" width="1.3" height="1.3" fill="#707070"/>
<rect x="279.1" y="50.9" width="1.3" height="1.3" fill="#767676"/>
<rect x="287.6" y="35.5" width="1.3" height="1.3" fill="#585858"/>
<rect x="266.6" y="61.4" width="1.3" height="1.3" fill="#767676"/>
<rect x="298.8" y="68.9" width="1.3" height="1.3" fill="#5e5e5e"/>
<rect x="285.9" y="45.6" width="1.3" height="1.3" fill="#707070"/>
<rect x="286.9" y="78.2" width="1.3" height="1.3" fill="#767676"/>
<rect x="272.3" y="60.0" width="1.3" height="1.3" fill="#585858"/>
<rect x="282.6" y="67.1" width="1.3" height="1.3" fill="#585858"/>
<rect x="279.2" y="77.6" width="1.3" height="1.3" fill="#707070"/>
<rect x="264.0" y="47.6" width="1.3" height="1.3" fill="#5e5e5e"/>
<rect x="278.1" y="62.3" width="1.3" height="1.3" fill="#707070"/>
<rect x="297.7" y="44.6" width="1.3" height="1.3" fill="#585858"/>
<rect x="304.2" y="44.6" width="1.3" height="1.3" fill="#5e5e5e"/>
<rect x="283.9" y="71.6" width="1.3" height="1.3" fill="#767676"/>
<rect x="267.8" y="41.5" width="1.3" height="1.3" fill="#767676"/>
<rect x="286.3" y="43.3" width="1.3" height="1.3" fill="#585858"/>
<rect x="269.8" y="34.7" width="1.3" height="1.3" fill="#5e5e5e"/>
<rect x="275.1" y="57.0" width="1.3" height="1.3" fill="#585858"/>
<rect x="307.6" y="58.1" width="1.3" height="1.3" fill="#7a7a7a"/>
<rect x="294.4" y="44.4" width="1.3" height="1.3" fill="#7a7a7a"/>
<rect x="301.4" y="61.7" width="1.3" height="1.3" fill="#707070"/>
<rect x="267.1" y="74.9" width="1.3" height="1.3" fill="#7a7a7a"/>
<rect x="294.2" y="58.0" width="1.3" height="1.3" fill="#5e5e5e"/>
<rect x="311.9" y="60.4" width="1.3" height="1.3" fill="#707070"/>
<rect x="276.6" y="49.3" width="1.3" height="1.3" fill="#7a7a7a"/>
<rect x="267.7" y="54.4" width="1.3" height="1.3" fill="#5e5e5e"/>
<rect x="281.9" y="75.4" width="1.3" height="1.3" fill="#7a7a7a"/>
<rect x="298.8" y="74.4" width="1.3" height="1.3" fill="#767676"/>
<rect x="259.9" y="85.5" width="1.3" height="1.3" fill="#7a7a7a"/>
<rect x="317.2" y="54.2" width="1.3" height="1.3" fill="#7a7a7a"/>
<rect x="284.9" y="79.2" width="1.3" height="1.3" fill="#5e5e5e"/>
<rect x="280.1" y="72.9" width="1.3" height="1.3" fill="#707070"/>
<rect x="279.3" y="70.4" width="1.3" height="1.3" fill="#767676"/>
<rect x="269.3" y="58.8" width="1.3" height="1.3" fill="#767676"/>
<rect x="291.9" y="58.1" width="1.3" height="1.3" fill="#5e5e5e"/>
<rect x="309.7" y="32.0" width="1.3" height="1.3" fill="#707070"/>
<rect x="259.9" y="87.2" width="1.3" height="1.3" fill="#585858"/>
<rect x="269.9" y="39.6" width="1.3" height="1.3" fill="#707070"/>
<rect x="274.0" y="78.7" width="1.3" height="1.3" fill="#767676"/>
<rect x="282.7" y="67.8" width="1.3" height="1.3" fill="#585858"/>
<rect x="298.3" y="84.1" width="1.3" height="1.3" fill="#585858"/>
<rect x="298.9" y="64.0" width="1.3" height="1.3" fill="#707070"/>
<rect x="282.0" y="64.0" width="1.3" height="1.3" fill="#585858"/>
<rect x="303.6" y="51.6" width="1.3" height="1.3" fill="#707070"/>
<rect x="292.6" y="77.3" width="1.3" height="1.3" fill="#767676"/>
<rect x="313.0" y="61.0" width="1.3" height="1.3" fill="#767676"/>
<rect x="268.6" y="32.8" width="1.3" height="1.3" fill="#767676"/>
<rect x="271.1" y="40.7" width="1.3" height="1.3" fill="#585858"/>
<rect x="287.1" y="55.5" width="1.3" height="1.3" fill="#5e5e5e"/>
<rect x="288.2" y="60.4" width="1.3" height="1.3" fill="#767676"/>
<rect x="305.6" y="71.0" width="1.3" height="1.3" fill="#707070"/>
<rect x="297.0" y="79.1" width="1.3" height="1.3" fill="#707070"/>
<rect x="295.8" y="83.4" width="1.3" height="1.3" fill="#707070"/>
<rect x="272.0" y="68.2" width="1.3" height="1.3" fill="#5e5e5e"/>
<rect x="318.8" y="41.4" width="1.3" height="1.3" fill="#767676"/>
<rect x="301.3" y="41.4" width="1.3" height="1.3" fill="#707070"/>
<rect x="281.8" y="34.7" width="1.3" height="1.3" fill="#585858"/>
<rect x="283.4" y="31.4" width="1.3" height="1.3" fill="#767676"/>
<rect x="277.7" y="72.8" width="1.3" height="1.3" fill="#5e5e5e"/>
<rect x="283.1" y="75.3" width="1.3" height="1.3" fill="#767676"/>
<rect x="313.1" y="70.4" width="1.3" height="1.3" fill="#585858"/>
<rect x="267.7" y="83.0" width="1.3" height="1.3" fill="#585858"/>
<rect x="284.2" y="31.0" width="1.3" height="1.3" fill="#5e5e5e"/>
<rect x="291.1" y="41.4" width="1.3" height="1.3" fill="#7a7a7a"/>
<rect x="305.3" y="81.2" width="1.3" height="1.3" fill="#5e5e5e"/>
<rect x="307.1" y="54.2" width="1.3" height="1.3" fill="#707070"/>
<rect x="312.4" y="71.9" width="1.3" height="1.3" fill="#5e5e5e"/>
<rect x="303.5" y="41.5" width="1.3" height="1.3" fill="#707070"/>
<rect x="274.7" y="70.0" width="1.3" height="1.3" fill="#767676"/>
<rect x="271.2" y="61.1" width="1.3" height="1.3" fill="#585858"/>
<rect x="281.6" y="35.0" width="1.3" height="1.3" fill="#707070"/>
<rect x="285.6" y="77.9" width="1.3" height="1.3" fill="#7a7a7a"/>
<rect x="270.7" y="61.8" width="1.3" height="1.3" fill="#5e5e5e"/>
<rect x="316.3" y="73.6" width="1.3" height="1.3" fill="#707070"/>
<rect x="287.6" y="78.7" width="1.3" height="1.3" fill="#7a7a7a"/>
<rect x="303.1" y="82.1" width="1.3" height="1.3" fill="#5e5e5e"/>
<rect x="268.8" y="29.8" width="1.3" height="1.3" fill="#767676"/>
<rect x="302.9" y="51.4" width="1.3" height="1.3" fill="#5e5e5e"/>
<rect x="275.6" y="63.4" width="1.3" height="1.3" fill="#7a7a7a"/>
<rect x="296.0" y="61.3" width="1.3" height="1.3" fill="#585858"/>
<rect x="283.2" y="62.6" width="1.3" height="1.3" fill="#767676"/>
<rect x="273.5" y="46.9" width="1.3" height="1.3" fill="#707070"/>
<rect x="264.0" y="61.3" width="1.3" height="1.3" fill="#585858"/>
<rect x="264.8" y="68.4" width="1.3" height="1.3" fill="#7a7a7a"/>
<rect x="265.4" y="72.8" width="1.3" height="1.3" fill="#5e5e5e"/>
<rect x="270.2" y="50.2" width="1.3" height="1.3" fill="#767676"/>
<rect x="278.2" y="69.7" width="1.3" height="1.3" fill="#767676"/>
<rect x="315.0" y="82.4" width="1.3" height="1.3" fill="#767676"/>
<rect x="262.2" y="59.9" width="1.3" height="1.3" fill="#5e5e5e"/>
<rect x="272.7" y="47.5" width="1.3" height="1.3" fill="#5e5e5e"/>
<rect x="276.4" y="56.1" width="1.3" height="1.3" fill="#767676"/>
<rect x="317.6" y="60.1" width="1.3" height="1.3" fill="#7a7a7a"/>
<rect x="309.4" y="64.5" width="1.3" height="1.3" fill="#767676"/>
<rect x="315.3" y="46.8" width="1.3" height="1.3" fill="#767676"/>
<rect x="269.3" y="66.6" width="1.3" height="1.3" fill="#5e5e5e"/>
<rect x="265.0" y="49.8" width="1.3" height="1.3" fill="#585858"/>
<rect x="281.0" y="35.6" width="1.3" height="1.3" fill="#7a7a7a"/>
<rect x="265.7" y="80.7" width="1.3" height="1.3" fill="#7a7a7a"/>
<rect x="261.9" y="86.9" width="1.3" height="1.3" fill="#767676"/>
<rect x="295.3" y="82.3" width="1.3" height="1.3" fill="#7a7a7a"/>
<rect x="275.6" y="78.3" width="1.3" height="1.3" fill="#707070"/>
<rect x="291.1" y="59.9" width="1.3" height="1.3" fill="#767676"/>
<rect x="310.2" y="63.3" width="1.3" height="1.3" fill="#5e5e5e"/>
<rect x="284.4" y="41.1" width="1.3" height="1.3" fill="#5e5e5e"/>
<rect x="315.5" y="36.8" width="1.3" height="1.3" fill="#767676"/>
<rect x="286.0" y="81.7" width="1.3" height="1.3" fill="#7a7a7a"/>
<rect x="306.7" y="54.5" width="1.3" height="1.3" fill="#707070"/>
<rect x="266.2" y="30.0" width="1.3" height="1.3" fill="#585858"/>
<rect x="303.5" y="31.9" width="1.3" height="1.3" fill="#767676"/>
<rect x="294.9" y="71.0" width="1.3" height="1.3" fill="#767676"/>
<rect x="263.8" y="34.2" width="1.3" height="1.3" fill="#7a7a7a"/>
<rect x="276.8" y="68.5" width="1.3" height="1.3" fill="#767676"/>
<rect x="285.6" y="47.0" width="1.3" height="1.3" fill="#7a7a7a"/>
<rect x="291.3" y="88.7" width="1.3" height="1.3" fill="#707070"/>
<rect x="310.7" y="79.5" width="1.3" height="1.3" fill="#707070"/>
<rect x="287.4" y="31.7" width="1.3" height="1.3" fill="#7a7a7a"/>
<rect x="288.1" y="48.4" width="1.3" height="1.3" fill="#707070"/>
<rect x="265.1" y="55.4" width="1.3" height="1.3" fill="#7a7a7a"/>
<rect x="281.9" y="76.0" width="1.3" height="1.3" fill="#767676"/>
<rect x="283.1" y="80.4" width="1.3" height="1.3" fill="#7a7a7a"/>
<circle cx="268.5" cy="74.4" r="0.9" fill="#262626"/>
<circle cx="287.8" cy="46.7" r="0.7" fill="#262626"/>
<circle cx="285.0" cy="85.2" r="0.8" fill="#262626"/>
<circle cx="275.8" cy="66.8" r="0.8" fill="#262626"/>
<circle cx="296.9" cy="57.1" r="0.7" fill="#262626"/>
<circle cx="262.9" cy="78.5" r="0.9" fill="#262626"/>
<circle cx="275.2" cy="59.8" r="0.8" fill="#262626"/>
<circle cx="290.5" cy="83.4" r="0.9" fill="#262626"/>
<circle cx="278.8" cy="50.3" r="0.8" fill="#262626"/>
<circle cx="270.4" cy="85.3" r="0.6" fill="#262626"/>
<circle cx="290.2" cy="46.5" r="0.8" fill="#262626"/>
<circle cx="263.5" cy="43.6" r="1.0" fill="#262626"/>
<circle cx="307.2" cy="43.4" r="0.8" fill="#262626"/>
<circle cx="262.7" cy="37.6" r="0.7" fill="#262626"/>
<circle cx="318.8" cy="48.7" r="0.7" fill="#262626"/>
<circle cx="264.6" cy="36.9" r="1.0" fill="#262626"/>
<circle cx="304.4" cy="84.5" r="0.9" fill="#262626"/>
<circle cx="306.9" cy="45.4" r="0.7" fill="#262626"/>
<circle cx="276.7" cy="34.2" r="0.7" fill="#262626"/>
<circle cx="303.2" cy="59.3" r="0.6" fill="#262626"/>
<circle cx="278.7" cy="80.4" r="0.9" fill="#262626"/>
<circle cx="303.8" cy="73.4" r="1.0" fill="#262626"/>
<rect x="324.5" y="29.2" width="61.5" height="60.8" fill="#2c2c2c" />
<svg x="324.5" y="29.2" width="61.5" height="60.8" overflow="hidden">
<polygon points="1.5,-2.1 -0.4,0.2 -3.7,0.3 -4.8,-4.0 -2.2,-6.1 0.5,-4.6" fill="#7a7a7a" />
<circle cx="-2.2" cy="-2.1" r="1.4" fill="#5a5a5a"/>
<polygon points="5.3,-0.9 2.4,-1.7 2.7,-5.1 5.3,-5.6 7.2,-3.1" fill="#6e6e6e" />
<circle cx="4.5" cy="-2.6" r="1.3" fill="#5a5a5a"/>
<polygon points="9.7,-4.2 13.8,-5.2 16.7,-1.7 12.7,1.4 10.7,1.0" fill="#8a8a8a" />
<circle cx="13.0" cy="-1.9" r="1.4" fill="#5a5a5a"/>
<polygon points="18.7,-5.7 21.2,-2.8 20.2,-0.5 17.0,-0.5 16.3,-3.6" fill="#6e6e6e" />
<polygon points="20.4,-1.1 21.0,-4.7 24.3,-6.4 26.6,-4.1 26.1,0.3 22.7,0.1" fill="#7a7a7a" />
<polygon points="33.9,-2.6 32.5,0.8 29.1,1.3 27.4,-1.1 29.8,-4.4" fill="#6e6e6e" />
<polygon points="43.1,-2.8 39.2,1.3 35.2,-0.0 35.2,-4.6 40.4,-5.2" fill="#a4a4a4" />
<circle cx="39.1" cy="-1.7" r="1.5" fill="#5a5a5a"/>
<polygon points="45.7,-6.8 49.2,-4.2 47.7,-0.1 43.3,-0.7 43.0,-4.4" fill="#989898" />
<polygon points="50.9,2.0 47.6,0.2 48.0,-2.6 50.4,-3.6 52.8,0.1" fill="#a4a4a4" />
<circle cx="49.6" cy="-0.7" r="1.0" fill="#5a5a5a"/>
<polygon points="60.5,-3.5 59.1,-0.1 55.7,-1.3 55.1,-4.7 57.7,-5.3" fill="#7a7a7a" />
<circle cx="58.5" cy="-3.2" r="1.0" fill="#5a5a5a"/>
<polygon points="65.8,-4.1 66.8,-2.2 66.1,1.0 63.2,1.7 61.2,-1.8 63.4,-5.0" fill="#8a8a8a" />
<circle cx="64.1" cy="-0.6" r="0.8" fill="#5a5a5a"/>
<polygon points="2.1,7.2 -0.9,6.4 0.4,2.6 3.7,2.7 4.3,5.6" fill="#6e6e6e" />
<circle cx="0.9" cy="4.1" r="1.1" fill="#5a5a5a"/>
<polygon points="7.7,5.8 5.2,4.5 4.7,0.9 7.6,-0.5 10.0,1.4 9.4,4.2" fill="#7a7a7a" />
<circle cx="6.8" cy="3.0" r="1.4" fill="#5a5a5a"/>
<polygon points="11.9,8.3 8.8,5.5 10.3,0.9 13.2,0.5 16.0,3.7" fill="#a4a4a4" />
<circle cx="12.2" cy="4.3" r="1.1" fill="#5a5a5a"/>
<polygon points="23.3,1.4 23.7,3.8 21.6,5.6 18.1,4.4 17.8,1.6 21.5,-0.7" fill="#848484" />
<polygon points="25.3,1.9 27.5,3.6 27.4,5.4 25.6,6.7 22.1,5.3 22.8,3.4" fill="#989898" />
<circle cx="25.7" cy="4.5" r="0.9" fill="#5a5a5a"/>
<polygon points="32.7,-0.1 36.3,-1.0 38.0,2.8 34.7,5.3 31.7,2.4" fill="#989898" />
<polygon points="43.7,6.4 39.3,7.1 37.0,3.0 40.8,-0.6 44.8,1.4" fill="#848484" />
<polygon points="46.3,0.2 49.3,1.8 49.4,5.0 45.5,6.9 43.3,2.7" fill="#909090" />
<circle cx="47.1" cy="3.1" r="0.8" fill="#5a5a5a"/>
<polygon points="54.8,0.8 56.7,1.9 55.8,6.1 53.2,7.0 50.5,4.0 51.1,1.2" fill="#989898" />
<polygon points="58.3,3.1 61.1,0.8 64.2,4.4 61.8,8.9 57.9,6.8" fill="#848484" />
<circle cx="61.5" cy="4.3" r="1.3" fill="#5a5a5a"/>
<polygon points="-4.8,5.0 -1.4,4.2 0.5,7.3 -0.8,10.3 -5.9,9.7" fill="#909090" />
<polygon points="3.7,6.9 6.7,6.8 7.6,11.2 4.2,12.7 2.0,9.9" fill="#7a7a7a" />
<polygon points="11.4,12.6 8.8,11.0 8.9,8.3 12.3,8.0 13.2,9.8" fill="#6e6e6e" />
<polygon points="17.9,5.2 20.8,6.0 21.1,8.9 17.3,10.7 15.6,9.6 16.0,5.7" fill="#a4a4a4" />
<circle cx="18.2" cy="8.7" r="1.2" fill="#5a5a5a"/>
<polygon points="22.5,6.7 24.1,8.5 23.3,11.1 21.1,11.2 19.8,9.4 19.8,8.2" fill="#8a8a8a" />
<polygon points="27.2,6.8 30.7,6.8 33.8,10.9 30.7,13.4 26.2,12.7" fill="#6e6e6e" />
<circle cx="29.2" cy="11.0" r="1.5" fill="#5a5a5a"/>
<polygon points="33.2,6.8 36.6,7.3 37.5,11.1 33.7,12.0 32.0,9.1" fill="#a4a4a4" />
<circle cx="34.1" cy="9.2" r="1.5" fill="#5a5a5a"/>
<polygon points="42.4,6.3 45.5,6.8 46.0,12.4 42.5,14.2 39.2,11.9 40.5,8.4" fill="#989898" />
<circle cx="43.5" cy="10.0" r="0.8" fill="#5a5a5a"/>
<polygon points="49.5,7.1 52.9,8.2 52.0,13.0 49.4,14.0 46.5,10.5 46.8,8.4" fill="#909090" />
<circle cx="50.2" cy="10.7" r="1.3" fill="#5a5a5a"/>
<polygon points="55.3,5.1 58.4,8.8 56.9,11.5 53.1,12.5 49.9,8.9 52.3,4.9" fill="#8a8a8a" />
<circle cx="53.6" cy="8.5" r="1.4" fill="#5a5a5a"/>
<polygon points="62.1,9.9 60.3,10.6 57.7,8.8 59.0,4.9 62.4,4.9 63.5,6.8" fill="#989898" />
<circle cx="60.6" cy="8.5" r="1.1" fill="#5a5a5a"/>
<polygon points="1.8,10.4 4.2,12.0 4.0,15.2 0.7,15.5 -1.1,14.0 -0.8,11.5" fill="#6e6e6e" />
<circle cx="1.9" cy="13.7" r="1.4" fill="#5a5a5a"/>
<polygon points="4.5,13.7 7.0,10.6 10.5,13.5 10.1,16.8 5.6,17.0" fill="#989898" />
<circle cx="7.2" cy="14.7" r="1.4" fill="#5a5a5a"/>
<polygon points="14.8,18.2 12.1,17.2 10.9,12.3 15.8,11.4 18.2,14.0" fill="#989898" />
<circle cx="14.7" cy="14.6" r="0.8" fill="#5a5a5a"/>
<polygon points="24.5,18.4 20.4,18.6 17.4,13.1 21.4,11.9 26.0,13.9" fill="#6e6e6e" />
<polygon points="31.2,15.8 26.4,19.2 24.4,17.1 23.5,12.5 26.5,11.1 30.8,12.9" fill="#a4a4a4" />
<polygon points="29.7,13.6 31.0,11.4 35.8,12.1 36.2,16.3 33.7,17.3" fill="#7a7a7a" />
<circle cx="33.2" cy="14.0" r="1.4" fill="#5a5a5a"/>
<polygon points="42.1,17.3 38.5,16.9 37.6,11.5 42.8,10.4 45.0,13.2" fill="#a4a4a4" />
<circle cx="41.2" cy="14.4" r="1.3" fill="#5a5a5a"/>
<polygon points="44.2,16.3 44.3,12.8 46.5,11.7 49.9,13.3 47.1,17.6" fill="#848484" />
<circle cx="47.4" cy="15.3" r="1.0" fill="#5a5a5a"/>
<polygon points="53.6,10.6 55.2,13.2 53.4,15.3 49.4,14.2 49.4,11.7" fill="#a4a4a4" />
<circle cx="52.9" cy="12.2" r="1.1" fill="#5a5a5a"/>
<polygon points="61.2,17.8 59.1,16.6 58.0,13.1 59.9,11.1 63.5,13.6" fill="#909090" />
<circle cx="60.6" cy="14.1" r="1.4" fill="#5a5a5a"/>
<polygon points="-2.3,18.4 -0.3,20.0 0.2,21.7 -3.1,23.4 -5.2,22.5 -5.2,19.8" fill="#a4a4a4" />
<polygon points="5.2,17.1 9.2,19.3 8.2,24.2 3.1,24.7 0.5,20.8" fill="#989898" />
<polygon points="6.1,20.2 9.5,16.5 11.5,16.7 13.3,22.3 11.0,23.9 6.9,23.1" fill="#909090" />
<circle cx="10.6" cy="21.1" r="1.3" fill="#5a5a5a"/>
<polygon points="19.5,21.4 16.7,21.2 15.3,17.7 17.8,15.9 21.8,18.1" fill="#7a7a7a" />
<circle cx="18.1" cy="18.3" r="1.2" fill="#5a5a5a"/>
<polygon points="24.6,18.2 27.5,18.8 28.5,21.5 26.5,24.5 23.0,23.6 21.9,19.7" fill="#989898" />
<circle cx="24.7" cy="21.3" r="0.8" fill="#5a5a5a"/>
<polygon points="28.4,17.9 30.8,16.1 33.6,17.3 33.2,22.5 29.5,21.2" fill="#8a8a8a" />
<circle cx="30.8" cy="19.1" r="1.4" fill="#5a5a5a"/>
<polygon points="33.7,20.8 33.7,16.8 36.4,15.4 39.4,16.1 38.6,20.6 36.4,22.6" fill="#7a7a7a" />
<circle cx="35.5" cy="17.9" r="1.4" fill="#5a5a5a"/>
<polygon points="44.4,24.6 41.7,22.6 41.5,19.7 44.1,17.4 48.1,19.7 47.1,23.9" fill="#989898" />
<circle cx="44.7" cy="20.6" r="1.4" fill="#5a5a5a"/>
<polygon points="51.7,16.8 53.8,19.1 53.6,22.5 48.8,23.4 47.2,20.7 47.6,18.6" fill="#6e6e6e" />
<polygon points="59.6,21.0 56.0,21.4 54.1,17.8 56.4,14.9 60.4,16.3" fill="#7a7a7a" />
<polygon points="64.4,17.9 65.6,20.6 63.8,23.4 60.0,22.7 59.4,19.1 61.3,16.9" fill="#848484" />
<polygon points="-1.0,22.8 4.1,21.9 5.4,24.5 3.7,27.5 1.8,27.9 -1.0,25.0" fill="#989898" />
<circle cx="2.4" cy="25.4" r="0.9" fill="#5a5a5a"/>
<polygon points="10.6,23.3 10.0,27.3 4.8,27.4 1.9,24.8 4.1,21.6 7.1,20.9" fill="#6e6e6e" />
<circle cx="6.5" cy="24.2" r="1.2" fill="#5a5a5a"/>
<polygon points="13.8,22.7 17.4,24.4 17.3,27.1 13.4,29.1 11.1,27.9 11.6,22.5" fill="#848484" />
<polygon points="18.7,30.4 15.5,27.3 15.6,24.7 19.6,22.4 21.9,24.3 23.2,29.0" fill="#7a7a7a" />
<circle cx="19.0" cy="26.1" r="1.3" fill="#5a5a5a"/>
<polygon points="26.1,23.9 28.8,24.4 28.9,26.2 26.5,28.6 24.0,27.8 23.1,25.9" fill="#8a8a8a" />
<polygon points="32.0,27.9 30.2,27.3 28.6,25.1 29.2,21.8 32.1,21.7 33.8,25.2" fill="#8a8a8a" />
<polygon points="34.7,22.8 38.7,21.1 41.3,20.8 41.9,26.5 40.1,28.5 34.7,26.7" fill="#848484" />
<circle cx="38.8" cy="23.7" r="1.5" fill="#5a5a5a"/>
<polygon points="46.8,22.8 48.3,24.4 45.3,28.0 42.8,26.8 41.2,24.8 43.7,21.8" fill="#6e6e6e" />
<circle cx="43.8" cy="23.8" r="1.5" fill="#5a5a5a"/>
<polygon points="53.5,26.9 48.1,29.1 45.1,25.6 46.8,21.7 51.6,20.7" fill="#6e6e6e" />
<polygon points="56.1,23.0 58.6,22.8 60.7,24.9 59.9,27.7 58.0,27.9 55.5,26.8" fill="#909090" />
<polygon points="61.8,27.2 61.3,23.4 64.1,21.5 69.0,25.2 67.0,28.9" fill="#7a7a7a" />
<circle cx="65.5" cy="25.7" r="1.4" fill="#5a5a5a"/>
<polygon points="-0.0,29.1 0.6,32.7 -2.7,34.0 -4.5,31.4 -3.9,28.9" fill="#989898" />
<circle cx="-2.5" cy="30.5" r="1.0" fill="#5a5a5a"/>
<polygon points="3.9,33.9 0.2,34.2 0.6,30.1 3.1,28.8 5.3,31.8" fill="#848484" />
<circle cx="3.1" cy="31.5" r="1.2" fill="#5a5a5a"/>
<polygon points="5.6,30.1 8.1,25.3 12.4,26.3 12.8,31.1 9.7,32.7" fill="#848484" />
<circle cx="10.6" cy="28.8" r="1.3" fill="#5a5a5a"/>
<polygon points="20.5,29.8 18.1,33.2 16.3,33.8 13.6,30.4 14.2,27.5 17.3,26.3" fill="#8a8a8a" />
<polygon points="17.1,31.3 18.0,27.7 21.5,25.5 23.7,27.7 24.1,31.0 22.1,33.3" fill="#8a8a8a" />
<polygon points="26.9,31.0 29.2,28.4 31.6,29.7 32.3,33.4 29.6,34.8 27.4,33.1" fill="#6e6e6e" />
<polygon points="31.2,30.1 32.8,27.0 37.0,27.6 36.2,30.8 33.0,31.7" fill="#a4a4a4" />
<polygon points="44.6,28.4 45.9,30.9 43.9,33.0 40.5,31.7 40.6,29.5" fill="#909090" />
<polygon points="47.6,33.9 44.8,29.7 48.3,27.8 52.5,29.6 51.4,33.9" fill="#a4a4a4" />
<polygon points="60.0,31.9 57.4,33.9 53.7,33.8 53.0,30.4 55.0,27.2 58.3,28.2" fill="#6e6e6e" />
<polygon points="63.4,32.0 60.8,33.8 58.2,32.5 58.9,29.1 60.8,28.9 62.9,30.8" fill="#7a7a7a" />
<polygon points="1.1,33.0 3.8,34.4 3.5,37.9 0.4,38.4 -1.4,38.2 -1.5,34.5" fill="#7a7a7a" />
<polygon points="10.0,35.5 9.8,38.7 5.5,39.3 4.1,37.2 6.7,33.6" fill="#909090" />
<polygon points="12.5,34.1 15.1,34.6 15.4,38.1 13.8,39.6 11.2,39.1 9.5,36.9" fill="#8a8a8a" />
<circle cx="13.3" cy="36.5" r="1.0" fill="#5a5a5a"/>
<polygon points="21.9,33.2 22.0,37.6 17.6,38.0 15.3,33.1 19.4,30.5" fill="#909090" />
<polygon points="22.7,37.8 22.6,34.4 25.6,32.2 27.9,36.2 27.3,38.8" fill="#8a8a8a" />
<circle cx="25.4" cy="36.1" r="1.2" fill="#5a5a5a"/>
<polygon points="35.0,39.1 32.0,40.1 29.8,38.7 30.2,35.5 32.4,34.2 35.7,36.6" fill="#8a8a8a" />
<circle cx="33.2" cy="37.2" r="1.3" fill="#5a5a5a"/>
<polygon points="39.0,33.3 41.0,36.4 39.5,38.9 36.5,38.3 36.8,34.0" fill="#909090" />
<polygon points="50.4,34.8 49.9,37.6 44.4,39.0 42.1,36.0 43.6,31.1 47.7,32.2" fill="#989898" />
<polygon points="50.0,41.0 48.3,36.9 49.7,33.8 52.4,33.8 54.4,35.7 54.0,39.3" fill="#8a8a8a" />
<circle cx="51.3" cy="36.4" r="0.9" fill="#5a5a5a"/>
<polygon points="64.2,35.5 62.1,38.9 58.6,38.6 56.9,36.3 58.5,32.9 61.8,33.0" fill="#6e6e6e" />
<circle cx="60.6" cy="35.8" r="1.0" fill="#5a5a5a"/>
<polygon points="68.8,37.1 64.2,38.7 62.4,35.9 63.1,33.0 66.2,31.7 68.6,33.1" fill="#909090" />
<polygon points="-5.8,40.0 -3.1,37.0 0.8,40.7 -1.4,45.0 -6.0,42.9" fill="#8a8a8a" />
<polygon points="6.6,43.6 3.0,43.0 1.0,40.0 6.3,35.9 9.4,39.4" fill="#6e6e6e" />
<circle cx="6.3" cy="40.0" r="1.2" fill="#5a5a5a"/>
<polygon points="11.9,42.1 11.0,44.5 8.1,44.3 6.0,41.5 8.4,38.0 10.5,37.9" fill="#a4a4a4" />
<polygon points="17.9,37.9 19.5,41.5 18.3,42.8 15.5,42.2 15.4,38.4" fill="#848484" />
<circle cx="18.1" cy="39.8" r="1.0" fill="#5a5a5a"/>
<polygon points="24.9,41.4 23.4,44.8 21.4,44.7 19.2,43.2 19.1,39.7 21.8,39.1" fill="#848484" />
<circle cx="21.6" cy="42.6" r="1.4" fill="#5a5a5a"/>
<polygon points="29.1,45.0 26.5,43.5 26.7,40.9 27.8,39.6 31.8,41.1 31.8,43.1" fill="#6e6e6e" />
<circle cx="29.2" cy="41.9" r="0.9" fill="#5a5a5a"/>
<polygon points="33.2,38.2 36.1,37.0 38.2,39.4 37.8,41.6 34.7,43.3 33.3,41.8" fill="#7a7a7a" />
<polygon points="43.4,46.0 39.0,43.8 40.4,39.9 43.9,39.0 46.4,42.2" fill="#909090" />
<circle cx="43.7" cy="42.6" r="0.8" fill="#5a5a5a"/>
<polygon points="48.2,36.8 53.3,36.6 53.9,40.7 51.5,43.0 47.7,40.2" fill="#989898" />
<polygon points="56.4,37.0 58.7,37.4 58.9,40.8 57.0,42.3 54.6,41.7 54.4,39.2" fill="#8a8a8a" />
<circle cx="56.2" cy="39.2" r="0.9" fill="#5a5a5a"/>
<polygon points="60.1,38.9 63.2,37.9 67.3,41.1 65.9,44.7 63.0,44.9 60.3,43.5" fill="#a4a4a4" />
<circle cx="64.0" cy="42.2" r="1.0" fill="#5a5a5a"/>
<polygon points="-0.8,48.1 0.8,45.0 4.4,46.4 5.1,48.8 1.5,50.3" fill="#8a8a8a" />
<circle cx="2.7" cy="47.1" r="1.3" fill="#5a5a5a"/>
<polygon points="4.8,47.7 5.0,45.5 8.3,43.9 10.5,47.6 7.9,50.3" fill="#989898" />
<polygon points="13.0,45.4 16.0,45.2 17.1,46.7 16.3,49.8 12.5,49.4 11.6,46.6" fill="#6e6e6e" />
<polygon points="21.5,50.3 18.8,50.9 14.7,48.4 15.7,45.4 18.8,43.3 23.1,45.9" fill="#7a7a7a" />
<circle cx="19.0" cy="48.4" r="0.8" fill="#5a5a5a"/>
<polygon points="29.0,46.8 25.9,48.1 23.9,46.7 25.2,43.4 28.5,43.6" fill="#909090" />
<polygon points="37.4,45.1 36.6,50.4 34.3,51.0 30.5,47.3 31.0,44.9 35.1,43.4" fill="#848484" />
<polygon points="38.8,43.0 43.0,42.2 44.7,46.8 41.1,48.7 36.9,46.4" fill="#8a8a8a" />
<polygon points="42.8,45.4 47.3,44.3 49.8,45.2 50.2,49.9 46.6,51.4 42.2,49.7" fill="#8a8a8a" />
<circle cx="45.5" cy="48.1" r="1.4" fill="#5a5a5a"/>
<polygon points="53.2,48.0 49.6,49.5 48.6,46.4 51.0,44.3 53.8,45.6" fill="#6e6e6e" />
<circle cx="50.6" cy="47.0" r="1.2" fill="#5a5a5a"/>
<polygon points="59.6,44.8 62.6,47.2 61.4,50.3 57.6,51.5 56.7,46.3" fill="#8a8a8a" />
<circle cx="59.6" cy="49.0" r="1.3" fill="#5a5a5a"/>
<polygon points="-4.9,53.0 -2.1,50.5 1.0,52.3 0.9,55.4 -3.2,56.2" fill="#6e6e6e" />
<polygon points="1.4,52.1 3.2,50.3 5.6,51.6 5.7,54.2 2.5,56.1 1.3,54.6" fill="#7a7a7a" />
<circle cx="3.5" cy="54.3" r="1.5" fill="#5a5a5a"/>
<polygon points="9.9,55.5 6.8,51.2 7.4,48.3 11.0,47.2 14.8,50.1 13.8,54.2" fill="#989898" />
<polygon points="13.2,53.0 14.2,50.2 16.4,50.4 18.3,52.8 17.5,54.0 14.9,54.7" fill="#6e6e6e" />
<polygon points="24.1,49.8 26.3,52.1 27.1,55.6 23.4,57.1 20.4,53.4 21.2,51.2" fill="#8a8a8a" />
<polygon points="32.9,48.6 34.3,51.4 31.7,54.2 28.6,53.9 27.4,51.6 30.2,47.9" fill="#7a7a7a" />
<circle cx="29.8" cy="51.0" r="0.9" fill="#5a5a5a"/>
<polygon points="32.7,51.0 36.7,47.6 39.4,49.9 38.7,53.4 35.2,53.9" fill="#909090" />
<polygon points="45.2,49.2 46.0,52.4 43.6,54.2 41.8,53.9 40.2,51.3 42.2,48.6" fill="#6e6e6e" />
<polygon points="51.1,49.8 51.8,53.2 49.9,53.9 47.8,53.5 46.9,50.1 49.0,49.1" fill="#909090" />
<polygon points="55.5,54.8 53.4,54.2 52.8,50.7 55.5,49.4 57.9,51.9" fill="#6e6e6e" />
<polygon points="63.3,53.7 60.2,54.8 57.8,52.0 61.1,49.2 64.0,50.8" fill="#6e6e6e" />
<polygon points="-3.1,59.2 -2.7,56.4 0.7,54.4 3.3,57.1 2.5,60.1 0.3,61.2" fill="#6e6e6e" />
<polygon points="7.2,54.6 10.0,55.7 10.3,59.7 8.4,61.6 4.9,60.6 3.9,56.8" fill="#a4a4a4" />
<circle cx="7.7" cy="59.1" r="0.8" fill="#5a5a5a"/>
<polygon points="16.2,62.0 10.7,60.7 10.5,56.0 15.4,54.9 18.6,57.6" fill="#6e6e6e" />
<polygon points="24.8,57.4 23.4,60.6 19.6,60.4 16.9,57.6 19.9,53.8 22.4,54.6" fill="#a4a4a4" />
<circle cx="22.0" cy="58.3" r="1.3" fill="#5a5a5a"/>
<polygon points="25.6,55.6 29.0,56.6 28.0,59.7 25.1,60.8 23.2,58.3" fill="#989898" />
<polygon points="34.8,56.7 35.5,60.1 33.1,61.8 30.3,59.9 29.1,57.4 33.2,54.8" fill="#848484" />
<polygon points="38.2,61.2 35.4,58.2 36.2,54.9 39.9,55.3 41.8,56.9 40.5,60.0" fill="#909090" />
<circle cx="39.2" cy="59.2" r="1.2" fill="#5a5a5a"/>
<polygon points="41.7,58.9 42.0,56.3 44.2,54.1 47.8,54.5 49.2,59.0 45.6,60.5" fill="#a4a4a4" />
<polygon points="50.7,55.9 54.8,57.4 55.0,60.1 51.5,61.9 48.6,58.1" fill="#6e6e6e" />
<polygon points="56.3,57.6 56.8,54.9 58.6,55.0 61.7,56.8 60.8,58.5 57.3,60.3" fill="#8a8a8a" />
<polygon points="63.0,59.4 61.8,56.4 66.0,54.5 68.1,58.4 65.0,60.6" fill="#7a7a7a" />
<polygon points="-5.0,62.2 -2.5,59.0 1.0,59.0 0.7,64.2 -3.3,65.4" fill="#a4a4a4" />
<circle cx="-2.0" cy="61.4" r="0.8" fill="#5a5a5a"/>
<polygon points="9.1,64.4 6.0,68.4 2.0,66.4 2.3,61.9 7.8,62.0" fill="#a4a4a4" />
<circle cx="4.7" cy="63.5" r="0.9" fill="#5a5a5a"/>
<polygon points="14.7,64.3 11.0,66.6 7.1,65.3 7.9,60.6 10.4,58.4 13.4,60.6" fill="#848484" />
<circle cx="9.6" cy="61.7" r="0.9" fill="#5a5a5a"/>
<polygon points="19.9,62.1 21.4,65.2 18.0,66.8 14.6,65.1 16.2,62.2" fill="#848484" />
<circle cx="16.9" cy="64.3" r="1.2" fill="#5a5a5a"/>
<polygon points="24.0,65.2 21.5,63.4 21.7,61.7 24.4,59.9 25.9,61.6 26.8,63.8" fill="#6e6e6e" />
<polygon points="26.5,63.7 28.7,61.5 31.9,63.4 31.7,65.5 27.0,66.7" fill="#8a8a8a" />
<polygon points="34.3,66.9 33.3,65.5 34.3,61.6 37.4,61.7 39.4,64.3 38.2,66.6" fill="#7a7a7a" />
<polygon points="41.0,59.3 45.4,62.2 44.0,65.2 39.0,65.7 39.2,62.0" fill="#8a8a8a" />
<circle cx="41.9" cy="62.1" r="1.0" fill="#5a5a5a"/>
<polygon points="46.5,65.6 46.1,61.8 51.4,60.2 53.6,63.5 51.1,67.3" fill="#989898" />
<circle cx="49.2" cy="63.2" r="1.3" fill="#5a5a5a"/>
<polygon points="56.1,65.3 53.0,66.4 50.6,63.3 52.0,60.3 55.8,60.6 56.9,63.8" fill="#909090" />
<polygon points="55.7,63.5 55.9,61.2 60.5,59.4 63.1,60.9 63.1,64.6 58.5,66.7" fill="#7a7a7a" />
<circle cx="58.6" cy="63.5" r="1.1" fill="#5a5a5a"/>
</svg>
<rect x="390.1" y="29.3" width="60.9" height="60.8" fill="#0c0c0c" />
<line x1="394.7" y1="29.3" x2="394.8" y2="90.1" stroke="#d0d2c4" stroke-width="0.8" />
<line x1="397.4" y1="29.3" x2="397.0" y2="90.1" stroke="#d0d2c4" stroke-width="0.8" />
<line x1="404.5" y1="29.3" x2="404.5" y2="90.1" stroke="#d0d2c4" stroke-width="0.8" />
<line x1="407.2" y1="29.3" x2="407.5" y2="90.1" stroke="#d0d2c4" stroke-width="0.8" />
<line x1="414.3" y1="29.3" x2="414.2" y2="90.1" stroke="#d0d2c4" stroke-width="0.8" />
<line x1="417.0" y1="29.3" x2="417.3" y2="90.1" stroke="#d0d2c4" stroke-width="0.8" />
<line x1="423.5" y1="29.3" x2="423.1" y2="90.1" stroke="#d0d2c4" stroke-width="0.8" />
<line x1="426.2" y1="29.3" x2="425.8" y2="90.1" stroke="#d0d2c4" stroke-width="0.8" />
<line x1="433.8" y1="29.3" x2="433.7" y2="90.1" stroke="#d0d2c4" stroke-width="0.8" />
<line x1="436.5" y1="29.3" x2="436.5" y2="90.1" stroke="#d0d2c4" stroke-width="0.8" />
<line x1="443.1" y1="29.3" x2="443.6" y2="90.1" stroke="#d0d2c4" stroke-width="0.8" />
<line x1="446.3" y1="29.3" x2="446.3" y2="90.1" stroke="#d0d2c4" stroke-width="0.8" />
<line x1="292.2" y1="86.2" x2="316.7" y2="86.2" stroke="#f2e600" stroke-width="2.2" />
<text x="304.4" y="83.5" font-size="6.5" fill="#f2e600" font-family='"Liberation Sans", sans-serif' font-weight="bold" text-anchor="middle" textLength="20.0" lengthAdjust="spacingAndGlyphs">500 nm</text>
<line x1="357.0" y1="86.2" x2="383.0" y2="86.2" stroke="#f2e600" stroke-width="2.2" />
<text x="370.0" y="83.5" font-size="6.5" fill="#f2e600" font-family='"Liberation Sans", sans-serif' font-weight="bold" text-anchor="middle" textLength="20.0" lengthAdjust="spacingAndGlyphs">500 nm</text>
<line x1="424.0" y1="86.2" x2="448.5" y2="86.2" stroke="#f2e600" stroke-width="2.2" />
<text x="436.2" y="83.5" font-size="6.5" fill="#f2e600" font-family='"Liberation Sans", sans-serif' font-weight="bold" text-anchor="middle" textLength="20.0" lengthAdjust="spacingAndGlyphs">500 nm</text>
<rect x="260.4" y="101.2" width="190.3" height="94.2" fill="#24206e" />
<g clip-path="url(#clipB)">
<g filter="url(#blur2)">
<circle cx="381.4" cy="126.4" r="3.2" fill="#1a1858"/>
<circle cx="443.7" cy="157.2" r="2.1" fill="#1a1858"/>
<circle cx="264.6" cy="180.2" r="3.2" fill="#1a1858"/>
<circle cx="319.7" cy="132.0" r="2.4" fill="#1e1b60"/>
<circle cx="298.9" cy="171.1" r="3.8" fill="#1e1b60"/>
<circle cx="309.8" cy="134.3" r="2.7" fill="#302e90"/>
<circle cx="410.7" cy="187.6" r="4.8" fill="#1e1b60"/>
<circle cx="369.3" cy="124.3" r="2.2" fill="#1a1858"/>
<circle cx="329.6" cy="139.1" r="4.9" fill="#2c2a86"/>
<circle cx="431.2" cy="194.6" r="4.3" fill="#1e1b60"/>
<circle cx="329.2" cy="160.6" r="4.2" fill="#2c2a86"/>
<circle cx="373.2" cy="152.6" r="4.0" fill="#302e90"/>
<circle cx="273.7" cy="122.0" r="2.8" fill="#1a1858"/>
<circle cx="411.6" cy="159.1" r="3.1" fill="#1a1858"/>
<circle cx="429.0" cy="185.5" r="2.5" fill="#1e1b60"/>
<circle cx="395.3" cy="119.7" r="4.1" fill="#1e1b60"/>
<circle cx="425.1" cy="156.2" r="3.6" fill="#1a1858"/>
<circle cx="382.8" cy="169.3" r="2.3" fill="#2c2a86"/>
<circle cx="285.1" cy="169.5" r="2.1" fill="#1a1858"/>
<circle cx="272.0" cy="114.4" r="4.1" fill="#1a1858"/>
<circle cx="341.3" cy="186.1" r="3.4" fill="#302e90"/>
<circle cx="417.3" cy="133.5" r="3.8" fill="#302e90"/>
<circle cx="432.4" cy="172.2" r="4.1" fill="#302e90"/>
<circle cx="316.6" cy="106.9" r="3.4" fill="#1e1b60"/>
<circle cx="328.4" cy="135.7" r="2.5" fill="#1a1858"/>
<circle cx="351.6" cy="115.0" r="3.5" fill="#302e90"/>
<circle cx="338.6" cy="130.9" r="2.7" fill="#1a1858"/>
<circle cx="360.7" cy="192.1" r="3.5" fill="#302e90"/>
<circle cx="420.4" cy="134.8" r="4.7" fill="#2c2a86"/>
<circle cx="305.1" cy="148.5" r="2.7" fill="#1a1858"/>
<circle cx="347.4" cy="156.9" r="2.8" fill="#2c2a86"/>
<circle cx="307.1" cy="142.2" r="3.2" fill="#302e90"/>
<circle cx="269.8" cy="148.2" r="2.5" fill="#302e90"/>
<circle cx="370.1" cy="107.7" r="3.7" fill="#2c2a86"/>
<circle cx="269.0" cy="158.2" r="3.7" fill="#2c2a86"/>
<circle cx="387.7" cy="134.5" r="2.8" fill="#1a1858"/>
<circle cx="270.0" cy="167.3" r="3.5" fill="#1a1858"/>
<circle cx="316.3" cy="192.9" r="4.9" fill="#2c2a86"/>
<circle cx="401.0" cy="103.6" r="4.2" fill="#2c2a86"/>
<circle cx="299.5" cy="194.4" r="3.5" fill="#1a1858"/>
<circle cx="356.6" cy="173.9" r="4.1" fill="#1e1b60"/>
<circle cx="293.1" cy="102.1" r="5.0" fill="#302e90"/>
<circle cx="371.3" cy="110.1" r="3.8" fill="#302e90"/>
<circle cx="425.8" cy="173.1" r="3.3" fill="#1a1858"/>
<circle cx="442.8" cy="129.8" r="2.9" fill="#1a1858"/>
<circle cx="394.0" cy="124.6" r="4.6" fill="#1e1b60"/>
<circle cx="433.5" cy="168.8" r="3.3" fill="#302e90"/>
<circle cx="436.8" cy="114.4" r="2.5" fill="#1a1858"/>
<circle cx="450.1" cy="109.4" r="3.9" fill="#302e90"/>
<circle cx="400.6" cy="179.3" r="3.3" fill="#302e90"/>
<circle cx="365.8" cy="121.1" r="2.5" fill="#2c2a86"/>
<circle cx="297.9" cy="194.3" r="3.3" fill="#302e90"/>
<circle cx="437.5" cy="138.2" r="4.8" fill="#1a1858"/>
<circle cx="428.8" cy="105.3" r="4.0" fill="#1e1b60"/>
<circle cx="324.8" cy="103.6" r="3.6" fill="#302e90"/>
<circle cx="318.2" cy="128.2" r="3.5" fill="#1e1b60"/>
<circle cx="374.6" cy="117.6" r="4.0" fill="#302e90"/>
<circle cx="410.3" cy="139.3" r="3.4" fill="#1e1b60"/>
<circle cx="304.5" cy="138.2" r="2.5" fill="#1e1b60"/>
<circle cx="450.3" cy="186.5" r="2.6" fill="#1e1b60"/>
<circle cx="293.2" cy="112.2" r="5.0" fill="#1a1858"/>
<circle cx="293.5" cy="135.2" r="4.0" fill="#302e90"/>
<circle cx="365.1" cy="175.3" r="3.5" fill="#1a1858"/>
<circle cx="311.6" cy="138.7" r="4.9" fill="#2c2a86"/>
<circle cx="356.8" cy="128.5" r="4.6" fill="#1a1858"/>
<circle cx="285.5" cy="160.4" r="2.8" fill="#2c2a86"/>
<circle cx="445.8" cy="153.7" r="4.6" fill="#1e1b60"/>
<circle cx="303.2" cy="135.0" r="2.4" fill="#1a1858"/>
<circle cx="374.1" cy="104.4" r="2.7" fill="#1a1858"/>
<circle cx="343.9" cy="117.2" r="2.4" fill="#1a1858"/>
<circle cx="335.5" cy="129.6" r="2.4" fill="#2c2a86"/>
<circle cx="397.1" cy="131.7" r="3.4" fill="#1e1b60"/>
<circle cx="334.3" cy="116.7" r="3.8" fill="#1a1858"/>
<circle cx="265.1" cy="142.8" r="2.3" fill="#1a1858"/>
<circle cx="281.1" cy="182.9" r="3.5" fill="#302e90"/>
<circle cx="306.3" cy="182.9" r="2.1" fill="#2c2a86"/>
<circle cx="270.8" cy="170.0" r="3.9" fill="#1e1b60"/>
<circle cx="317.7" cy="190.0" r="2.1" fill="#2c2a86"/>
<circle cx="297.7" cy="164.0" r="2.7" fill="#1e1b60"/>
<circle cx="324.5" cy="194.1" r="3.1" fill="#1a1858"/>
<circle cx="394.1" cy="192.6" r="3.3" fill="#302e90"/>
<circle cx="438.2" cy="156.1" r="4.7" fill="#2c2a86"/>
<circle cx="270.7" cy="111.4" r="2.1" fill="#2c2a86"/>
<circle cx="408.1" cy="153.9" r="3.2" fill="#302e90"/>
<circle cx="287.2" cy="179.0" r="3.0" fill="#302e90"/>
<circle cx="436.5" cy="171.6" r="2.7" fill="#2c2a86"/>
<circle cx="363.7" cy="136.1" r="2.4" fill="#1e1b60"/>
<circle cx="270.0" cy="151.9" r="2.9" fill="#302e90"/>
<circle cx="418.3" cy="120.2" r="3.8" fill="#2c2a86"/>
<circle cx="373.9" cy="155.0" r="2.6" fill="#302e90"/>
<rect x="286" y="117" width="55" height="62.5" rx="4" fill="none" stroke="#3e4ab0" stroke-width="4"/>
<circle cx="287" cy="125" r="2.6" fill="#5664cc"/>
<circle cx="287" cy="135" r="2.6" fill="#5664cc"/>
<circle cx="287" cy="147" r="2.6" fill="#5664cc"/>
<circle cx="287" cy="160" r="2.6" fill="#5664cc"/>
<circle cx="288" cy="172" r="2.6" fill="#5664cc"/>
<circle cx="292" cy="179" r="2.6" fill="#5664cc"/>
<circle cx="302" cy="179" r="2.6" fill="#5664cc"/>
<circle cx="312" cy="180" r="2.6" fill="#5664cc"/>
<circle cx="322" cy="179" r="2.6" fill="#5664cc"/>
<circle cx="334" cy="179" r="2.6" fill="#5664cc"/>
<circle cx="340" cy="175" r="2.6" fill="#5664cc"/>
<circle cx="341" cy="165" r="2.6" fill="#5664cc"/>
<circle cx="341" cy="150" r="2.6" fill="#5664cc"/>
<circle cx="296" cy="117" r="2.6" fill="#5664cc"/>
<circle cx="310" cy="117" r="2.6" fill="#5664cc"/>
<circle cx="330" cy="118" r="2.6" fill="#5664cc"/>
<circle cx="355" cy="150" r="8" fill="#1a1656"/>
<circle cx="350" cy="185" r="7" fill="#1a1656"/>
<circle cx="440" cy="110" r="8" fill="#1a1656"/>
<circle cx="270" cy="190" r="6" fill="#1a1656"/>
<circle cx="445" cy="160" r="6" fill="#1a1656"/>
<circle cx="265" cy="110" r="6" fill="#1a1656"/>
<rect x="373" y="122" width="50" height="56" rx="3" fill="#3a40b0"/>
<rect x="374.5" y="123.5" width="47" height="53" rx="3" fill="none" stroke="#4a58cc" stroke-width="4"/>
<circle cx="376" cy="126" r="2.8" fill="#5a6ad8"/>
<circle cx="388" cy="124" r="2.8" fill="#5a6ad8"/>
<circle cx="400" cy="124" r="2.8" fill="#5a6ad8"/>
<circle cx="412" cy="124" r="2.8" fill="#5a6ad8"/>
<circle cx="420" cy="128" r="2.8" fill="#5a6ad8"/>
<circle cx="421" cy="140" r="2.8" fill="#5a6ad8"/>
<circle cx="421" cy="152" r="2.8" fill="#5a6ad8"/>
<circle cx="420" cy="165" r="2.8" fill="#5a6ad8"/>
<circle cx="418" cy="176" r="2.8" fill="#5a6ad8"/>
<circle cx="405" cy="177" r="2.8" fill="#5a6ad8"/>
<circle cx="392" cy="177" r="2.8" fill="#5a6ad8"/>
<circle cx="379" cy="176" r="2.8" fill="#5a6ad8"/>
<circle cx="375" cy="165" r="2.8" fill="#5a6ad8"/>
<circle cx="375" cy="150" r="2.8" fill="#5a6ad8"/>
<circle cx="375" cy="138" r="2.8" fill="#5a6ad8"/>
<circle cx="388.9" cy="158.4" r="2.9" fill="#4650c0"/>
<circle cx="381.1" cy="147.1" r="2.1" fill="#4650c0"/>
<circle cx="393.9" cy="131.3" r="2.0" fill="#4650c0"/>
<circle cx="411.0" cy="129.2" r="1.8" fill="#3438a0"/>
<circle cx="414.9" cy="134.0" r="2.2" fill="#4650c0"/>
<circle cx="379.9" cy="142.1" r="2.6" fill="#4650c0"/>
<circle cx="382.9" cy="148.6" r="1.9" fill="#3438a0"/>
<circle cx="385.4" cy="169.7" r="2.0" fill="#3438a0"/>
<circle cx="399.5" cy="146.3" r="2.0" fill="#4650c0"/>
<circle cx="411.9" cy="134.8" r="2.3" fill="#4650c0"/>
<circle cx="390.4" cy="130.5" r="3.0" fill="#3438a0"/>
<circle cx="416.0" cy="154.8" r="2.9" fill="#4650c0"/>
<circle cx="411.3" cy="171.5" r="1.9" fill="#4650c0"/>
<circle cx="381.1" cy="137.7" r="2.5" fill="#3438a0"/>
<circle cx="383.2" cy="141.9" r="2.3" fill="#4650c0"/>
<circle cx="395.9" cy="165.8" r="2.5" fill="#4650c0"/>
<circle cx="403.5" cy="132.3" r="2.3" fill="#4650c0"/>
<circle cx="405.2" cy="134.2" r="1.5" fill="#4650c0"/>
<circle cx="393.0" cy="163.4" r="1.9" fill="#4650c0"/>
<circle cx="381.9" cy="156.0" r="2.0" fill="#4650c0"/>
<circle cx="408.4" cy="165.9" r="2.2" fill="#4650c0"/>
<circle cx="397.3" cy="133.2" r="2.4" fill="#4650c0"/>
<circle cx="413.5" cy="164.9" r="2.7" fill="#4650c0"/>
<circle cx="383.3" cy="144.6" r="1.7" fill="#4650c0"/>
<circle cx="403.6" cy="155.7" r="2.6" fill="#3438a0"/>
<circle cx="386.4" cy="154.1" r="2.4" fill="#3438a0"/>
<circle cx="406.7" cy="146.2" r="2.3" fill="#3438a0"/>
<circle cx="415.0" cy="140.4" r="2.1" fill="#3438a0"/>
<circle cx="417.0" cy="150.9" r="2.2" fill="#4650c0"/>
<circle cx="387.1" cy="148.0" r="1.9" fill="#4650c0"/>
</g>
<g filter="url(#blur1)">
<rect x="291" y="122" width="47" height="52.7" rx="4" fill="#13123e"/>
</g>
</g>
<line x1="305.1" y1="90.5" x2="305.1" y2="124.9" stroke="#d8d8e0" stroke-width="0.9" />
<polygon points="305.1,128.4 302.8,123.4 307.4,123.4" fill="#d8d8e0" />
<line x1="358.6" y1="90.5" x2="358.6" y2="124.9" stroke="#d8d8e0" stroke-width="0.9" />
<polygon points="358.6,128.4 356.3,123.4 360.9,123.4" fill="#d8d8e0" />
<line x1="400.5" y1="90.5" x2="400.5" y2="124.9" stroke="#d8d8e0" stroke-width="0.9" />
<polygon points="400.5,128.4 398.2,123.4 402.8,123.4" fill="#d8d8e0" />
<line x1="427.5" y1="190.3" x2="446.0" y2="190.3" stroke="#f2e600" stroke-width="2.2" />
<text x="436.8" y="186.4" font-size="6.5" fill="#f2e600" font-family='"Liberation Sans", sans-serif' font-weight="bold" text-anchor="middle" textLength="15.0" lengthAdjust="spacingAndGlyphs">10 µm</text>
<text x="451.8" y="21.3" font-size="18" fill="#111" font-family='"Liberation Sans", sans-serif'>(c)</text>
<rect x="480.6" y="24.5" width="174.9" height="154.1" fill="none" stroke="#8a8a8a" stroke-width="1"/>
<line x1="480.6" y1="178.6" x2="480.6" y2="174.6" stroke="#666" stroke-width="0.8" />
<line x1="502.5" y1="178.6" x2="502.5" y2="176.1" stroke="#666" stroke-width="0.8" />
<line x1="524.3" y1="178.6" x2="524.3" y2="174.6" stroke="#666" stroke-width="0.8" />
<line x1="546.1" y1="178.6" x2="546.1" y2="176.1" stroke="#666" stroke-width="0.8" />
<line x1="568.0" y1="178.6" x2="568.0" y2="174.6" stroke="#666" stroke-width="0.8" />
<line x1="589.9" y1="178.6" x2="589.9" y2="176.1" stroke="#666" stroke-width="0.8" />
<line x1="611.7" y1="178.6" x2="611.7" y2="174.6" stroke="#666" stroke-width="0.8" />
<line x1="633.6" y1="178.6" x2="633.6" y2="176.1" stroke="#666" stroke-width="0.8" />
<line x1="655.4" y1="178.6" x2="655.4" y2="174.6" stroke="#666" stroke-width="0.8" />
<line x1="480.6" y1="178.6" x2="484.1" y2="178.6" stroke="#666" stroke-width="0.8" />
<line x1="480.6" y1="159.3" x2="482.6" y2="159.3" stroke="#666" stroke-width="0.8" />
<line x1="480.6" y1="140.1" x2="484.1" y2="140.1" stroke="#666" stroke-width="0.8" />
<line x1="480.6" y1="120.8" x2="482.6" y2="120.8" stroke="#666" stroke-width="0.8" />
<line x1="480.6" y1="101.6" x2="484.1" y2="101.6" stroke="#666" stroke-width="0.8" />
<line x1="480.6" y1="82.3" x2="482.6" y2="82.3" stroke="#666" stroke-width="0.8" />
<line x1="480.6" y1="63.1" x2="484.1" y2="63.1" stroke="#666" stroke-width="0.8" />
<line x1="480.6" y1="43.8" x2="482.6" y2="43.8" stroke="#666" stroke-width="0.8" />
<line x1="480.6" y1="24.6" x2="484.1" y2="24.6" stroke="#666" stroke-width="0.8" />
<line x1="655.5" y1="178.6" x2="652.0" y2="178.6" stroke="#666" stroke-width="0.8" />
<line x1="655.5" y1="163.2" x2="653.5" y2="163.2" stroke="#666" stroke-width="0.8" />
<line x1="655.5" y1="147.8" x2="652.0" y2="147.8" stroke="#666" stroke-width="0.8" />
<line x1="655.5" y1="132.4" x2="653.5" y2="132.4" stroke="#666" stroke-width="0.8" />
<line x1="655.5" y1="117.0" x2="652.0" y2="117.0" stroke="#666" stroke-width="0.8" />
<line x1="655.5" y1="101.5" x2="653.5" y2="101.5" stroke="#666" stroke-width="0.8" />
<line x1="655.5" y1="86.1" x2="652.0" y2="86.1" stroke="#666" stroke-width="0.8" />
<line x1="655.5" y1="70.7" x2="653.5" y2="70.7" stroke="#666" stroke-width="0.8" />
<line x1="655.5" y1="55.3" x2="652.0" y2="55.3" stroke="#666" stroke-width="0.8" />
<line x1="655.5" y1="39.9" x2="653.5" y2="39.9" stroke="#666" stroke-width="0.8" />
<line x1="655.5" y1="24.5" x2="652.0" y2="24.5" stroke="#666" stroke-width="0.8" />
<text x="480.6" y="189.6" font-size="9" fill="#222" font-family='"Liberation Sans", sans-serif' text-anchor="middle" textLength="12.5" lengthAdjust="spacingAndGlyphs">440</text>
<text x="524.3" y="189.6" font-size="9" fill="#222" font-family='"Liberation Sans", sans-serif' text-anchor="middle" textLength="12.5" lengthAdjust="spacingAndGlyphs">460</text>
<text x="568.0" y="189.6" font-size="9" fill="#222" font-family='"Liberation Sans", sans-serif' text-anchor="middle" textLength="12.5" lengthAdjust="spacingAndGlyphs">480</text>
<text x="611.7" y="189.6" font-size="9" fill="#222" font-family='"Liberation Sans", sans-serif' text-anchor="middle" textLength="12.5" lengthAdjust="spacingAndGlyphs">500</text>
<text x="655.4" y="189.6" font-size="9" fill="#222" font-family='"Liberation Sans", sans-serif' text-anchor="middle" textLength="12.5" lengthAdjust="spacingAndGlyphs">520</text>
<text x="478.3" y="182.9" font-size="9" fill="#222" font-family='"Liberation Sans", sans-serif' text-anchor="end" textLength="3.6" lengthAdjust="spacingAndGlyphs">0</text>
<text x="478.3" y="144.4" font-size="9" fill="#222" font-family='"Liberation Sans", sans-serif' text-anchor="end" textLength="7.2" lengthAdjust="spacingAndGlyphs">10</text>
<text x="478.3" y="105.9" font-size="9" fill="#222" font-family='"Liberation Sans", sans-serif' text-anchor="end" textLength="7.2" lengthAdjust="spacingAndGlyphs">20</text>
<text x="478.3" y="67.4" font-size="9" fill="#222" font-family='"Liberation Sans", sans-serif' text-anchor="end" textLength="7.2" lengthAdjust="spacingAndGlyphs">30</text>
<text x="478.3" y="28.9" font-size="9" fill="#222" font-family='"Liberation Sans", sans-serif' text-anchor="end" textLength="7.2" lengthAdjust="spacingAndGlyphs">40</text>
<text x="658.9" y="182.8" font-size="9" fill="#222" font-family='"Liberation Sans", sans-serif' textLength="3.6" lengthAdjust="spacingAndGlyphs">0</text>
<text x="658.9" y="152.0" font-size="9" fill="#222" font-family='"Liberation Sans", sans-serif' textLength="7.2" lengthAdjust="spacingAndGlyphs">20</text>
<text x="658.9" y="121.2" font-size="9" fill="#222" font-family='"Liberation Sans", sans-serif' textLength="7.2" lengthAdjust="spacingAndGlyphs">40</text>
<text x="658.9" y="90.3" font-size="9" fill="#222" font-family='"Liberation Sans", sans-serif' textLength="7.2" lengthAdjust="spacingAndGlyphs">60</text>
<text x="658.9" y="59.5" font-size="9" fill="#222" font-family='"Liberation Sans", sans-serif' textLength="7.2" lengthAdjust="spacingAndGlyphs">80</text>
<text x="658.9" y="28.7" font-size="9" fill="#222" font-family='"Liberation Sans", sans-serif' textLength="10.8" lengthAdjust="spacingAndGlyphs">100</text>
<text x="545.5" y="202.2" font-size="8.5" fill="#222" font-family='"Liberation Sans", sans-serif' textLength="46.2" lengthAdjust="spacingAndGlyphs">Wavelength (nm)</text>
<text x="0" y="0" font-size="9" font-family='"Liberation Serif", serif' font-style="italic" fill="#111" transform="translate(463.6,107.5) rotate(-90)">ε<tspan font-size="6" dy="2">p</tspan></text>
<text x="0" y="0" font-size="8.6" font-family='"Liberation Sans", sans-serif' fill="#222" transform="translate(673.6,66.8) rotate(90)" textLength="77" lengthAdjust="spacingAndGlyphs">Emission efficiency η*<tspan font-size="6">int</tspan> (%)</text>
<polyline points="480.6,173.6 485.0,170.5 489.0,166.9 491.4,161.7 494.8,154.0 497.7,144.9 502.9,130.0 506.0,118.0 508.2,109.5 512.2,96.0 516.6,81.6 522.2,69.6 526.0,62.7 529.6,57.2 530.8,54.0 532.4,48.4 534.0,44.4 536.8,45.6 539.2,43.6 541.6,41.2 543.2,46.0 544.8,47.2 546.8,46.0 548.4,50.0 549.6,54.8 552.4,60.4 553.5,65.1 554.7,70.7 556.7,78.7 558.5,86.0 560.0,91.5 564.6,112.8 570.6,134.0 576.7,149.2 581.0,155.0 587.3,161.3 599.5,166.6 611.6,170.4 623.7,175.7 635.9,177.7 655.5,178.6" fill="none" stroke="#4a4a4a" stroke-width="0.75" stroke-linejoin="round" stroke-dasharray="1.6 0.9"/>
<polyline points="480.6,24.5 482.0,28.8 483.8,28.0 485.5,29.5 487.5,28.0 489.5,30.5 491.0,29.8 493.0,31.0 494.5,32.0 495.6,32.8 498.8,38.4 502.0,44.0 505.2,50.4 508.4,57.5 511.5,65.5 513.0,72.0 516.6,81.6 521.0,93.5 524.5,101.5 527.8,109.5 533.0,119.0 538.7,124.9 546.3,126.4 552.0,125.0 558.4,123.7 563.0,124.5 567.6,127.2 575.2,134.0 584.3,137.5 593.4,131.0 600.0,123.0 604.0,118.8 610.8,113.5 617.7,118.8 625.3,130.2 632.8,139.3 640.4,142.4 644.0,141.0 648.0,144.6 651.0,142.0 653.0,143.5 655.5,138.6" fill="none" stroke="#c02228" stroke-width="1.15" stroke-linejoin="round" stroke-dasharray="3 1.9"/>
<polyline points="480.6,24.5 481.6,36.0 482.2,50.0 483.2,59.6 484.6,65.3 486.5,72.0 488.0,78.8 488.9,88.4 489.9,100.8 489.7,105.1 490.9,98.0 493.3,97.5 494.2,109.4 495.2,118.0 496.2,127.9 497.5,136.0 499.1,142.5 502.0,151.1 505.3,158.8 508.0,162.5 511.4,165.9 517.0,169.5 523.5,172.0 538.7,173.5 560.0,173.5 579.7,174.0 595.0,173.0 610.0,172.0 620.7,174.0 655.5,173.2" fill="none" stroke="#1f2f7f" stroke-width="1.1" stroke-linejoin="round" />
<ellipse cx="485.6" cy="68" rx="1.4" ry="3.5" fill="#2a3a88" transform="rotate(-15 485.6 68)"/>
<text x="500.6" y="36.6" font-size="11" fill="#c8202a" font-family='"Liberation Sans", sans-serif' textLength="76.7" lengthAdjust="spacingAndGlyphs">GaN with Ag film</text>
<text x="536.1" y="91.8" font-size="11" fill="#9a9a9a" font-family='"Liberation Sans", sans-serif' textLength="67.3" lengthAdjust="spacingAndGlyphs">Uncoated GaN</text>
<text x="512.1" y="167.0" font-size="11" fill="#3858a8" font-family='"Liberation Sans", sans-serif' textLength="72.3" lengthAdjust="spacingAndGlyphs">GaN with Al film</text>
<line x1="505.3" y1="159.0" x2="482.5" y2="159.0" stroke="#3858a8" stroke-width="1" />
<polyline points="490.9,154.5 482.2,159.0 490.9,163.6" fill="none" stroke="#3858a8" stroke-width="1" stroke-linejoin="round" />
<line x1="620.7" y1="121.6" x2="645.5" y2="121.6" stroke="#b02a2e" stroke-width="1" />
<polyline points="637.4,117.3 645.7,121.6 637.4,126.1" fill="none" stroke="#b02a2e" stroke-width="1" stroke-linejoin="round" />
<text x="6.5" y="236.0" font-size="18" fill="#111" font-family='"Liberation Sans", sans-serif'>(d)</text>
<rect x="34.7" y="235.4" width="8.7" height="93.3" fill="url(#rodG)" />
<rect x="100.5" y="236.1" width="8.0" height="92.6" fill="url(#rodG)" />
<circle cx="98.9" cy="238.6" r="1.9" fill="url(#goldB)"/>
<circle cx="110.1" cy="238.6" r="1.9" fill="url(#goldB)"/>
<circle cx="98.9" cy="244.3" r="1.9" fill="url(#goldB)"/>
<circle cx="110.1" cy="244.3" r="1.9" fill="url(#goldB)"/>
<circle cx="98.9" cy="250.1" r="1.9" fill="url(#goldB)"/>
<circle cx="110.1" cy="250.1" r="1.9" fill="url(#goldB)"/>
<circle cx="98.9" cy="255.8" r="1.9" fill="url(#goldB)"/>
<circle cx="110.1" cy="255.8" r="1.9" fill="url(#goldB)"/>
<circle cx="98.9" cy="261.6" r="1.9" fill="url(#goldB)"/>
<circle cx="110.1" cy="261.6" r="1.9" fill="url(#goldB)"/>
<circle cx="104.4" cy="233.7" r="1.9" fill="url(#goldB)"/>
<rect x="165.9" y="272.0" width="7.5" height="56.5" fill="url(#rodG)" />
<path d="M165.30,272.80 C163.77,261.40 161.90,252.07 161.90,238.25 C161.90,233.96 165.48,231.10 169.85,231.10 C174.22,231.10 177.80,233.96 177.80,238.25 C177.80,252.07 175.93,261.40 174.40,272.80 Z" fill="url(#blueH)"/>
<circle cx="164.6" cy="240.0" r="0.5" fill="#7aa0e0"/>
<circle cx="175.0" cy="240.0" r="0.5" fill="#7aa0e0"/>
<circle cx="164.6" cy="245.2" r="0.5" fill="#7aa0e0"/>
<circle cx="175.0" cy="245.2" r="0.5" fill="#7aa0e0"/>
<circle cx="164.6" cy="250.4" r="0.5" fill="#7aa0e0"/>
<circle cx="175.0" cy="250.4" r="0.5" fill="#7aa0e0"/>
<circle cx="164.6" cy="255.6" r="0.5" fill="#7aa0e0"/>
<circle cx="175.0" cy="255.6" r="0.5" fill="#7aa0e0"/>
<circle cx="164.6" cy="260.8" r="0.5" fill="#7aa0e0"/>
<circle cx="175.0" cy="260.8" r="0.5" fill="#7aa0e0"/>
<circle cx="164.6" cy="266.0" r="0.5" fill="#7aa0e0"/>
<circle cx="175.0" cy="266.0" r="0.5" fill="#7aa0e0"/>
<rect x="230.1" y="273.0" width="7.7" height="55.5" fill="url(#rodG)" />
<path d="M229.80,269.90 C227.68,259.18 225.10,250.41 225.10,237.42 C225.10,232.43 229.26,229.10 234.35,229.10 C239.44,229.10 243.60,232.43 243.60,237.42 C243.60,250.41 241.02,259.18 238.90,269.90 Z" fill="url(#greenH)"/>
<rect x="229.6" y="269.9" width="8.7" height="4.1" fill="url(#blueH)" />
<rect x="295.1" y="273.0" width="7.9" height="55.5" fill="url(#rodG)" />
<path d="M293.30,265.50 C291.41,255.52 289.10,247.35 289.10,235.25 C289.10,229.82 293.62,226.20 299.15,226.20 C304.68,226.20 309.20,229.82 309.20,235.25 C309.20,247.35 306.89,255.52 305.00,265.50 Z" fill="url(#purpH)"/>
<rect x="293.4" y="265.5" width="11.7" height="4.1" fill="url(#greenH)" />
<rect x="294.8" y="269.6" width="8.5" height="3.9" fill="url(#blueH)" />
<text x="46.7" y="288.7" font-size="8.5" fill="#111" font-family='"Liberation Serif", serif' font-weight="bold" textLength="36.4" lengthAdjust="spacingAndGlyphs">n-ZnO NW</text>
<text x="112.2" y="273.1" font-size="8.5" fill="#111" font-family='"Liberation Serif", serif' font-weight="bold" textLength="23.8" lengthAdjust="spacingAndGlyphs">Au NPs</text>
<text x="178.9" y="261.4" font-size="8.5" fill="#111" font-family='"Liberation Serif", serif' font-weight="bold" textLength="26.3" lengthAdjust="spacingAndGlyphs">MgZnO</text>
<text x="245.2" y="247.8" font-size="8.5" font-weight="bold" font-family='"Liberation Serif", serif' fill="#111">CsPbBr<tspan font-size="6" dy="2">3</tspan></text>
<text x="251.9" y="256.9" font-size="8.5" fill="#111" font-family='"Liberation Serif", serif' font-weight="bold" textLength="13.1" lengthAdjust="spacingAndGlyphs">QDs</text>
<text x="310.9" y="229.6" font-size="8.5" fill="#111" font-family='"Liberation Serif", serif' font-weight="bold" textLength="19.5" lengthAdjust="spacingAndGlyphs">p-NiO</text>
<rect x="8.7" y="332.9" width="62.0" height="67.1" fill="#121212" />
<circle cx="36.8" cy="370.3" r="2.0" fill="#7e8888"/>
<circle cx="37.6" cy="367.0" r="1.8" fill="#7e8888"/>
<circle cx="20.8" cy="367.2" r="1.8" fill="#7e8888"/>
<circle cx="57.3" cy="340.0" r="1.5" fill="#7e8888"/>
<circle cx="15.1" cy="386.6" r="1.9" fill="#7e8888"/>
<circle cx="12.2" cy="397.8" r="2.1" fill="#7e8888"/>
<circle cx="48.9" cy="374.0" r="1.4" fill="#7e8888"/>
<circle cx="10.6" cy="368.3" r="1.3" fill="#7e8888"/>
<circle cx="21.1" cy="349.7" r="1.3" fill="#7e8888"/>
<circle cx="37.5" cy="362.6" r="2.0" fill="#7e8888"/>
<circle cx="40.8" cy="375.6" r="1.7" fill="#7e8888"/>
<circle cx="49.4" cy="363.7" r="1.5" fill="#7e8888"/>
<circle cx="69.6" cy="398.7" r="2.0" fill="#7e8888"/>
<circle cx="52.2" cy="354.4" r="1.5" fill="#7e8888"/>
<circle cx="27.0" cy="338.5" r="1.9" fill="#7e8888"/>
<circle cx="33.7" cy="389.0" r="1.6" fill="#7e8888"/>
<circle cx="67.2" cy="389.1" r="1.3" fill="#7e8888"/>
<circle cx="22.3" cy="393.2" r="1.7" fill="#7e8888"/>
<circle cx="68.5" cy="359.8" r="1.4" fill="#7e8888"/>
<circle cx="47.5" cy="384.6" r="1.5" fill="#7e8888"/>
<circle cx="14.9" cy="355.6" r="2.1" fill="#7e8888"/>
<circle cx="55.2" cy="341.6" r="1.5" fill="#7e8888"/>
<circle cx="15.8" cy="337.8" r="1.9" fill="#7e8888"/>
<circle cx="20.4" cy="370.3" r="1.7" fill="#7e8888"/>
<circle cx="21.1" cy="381.5" r="1.4" fill="#7e8888"/>
<circle cx="48.3" cy="341.5" r="1.6" fill="#7e8888"/>
<circle cx="22.5" cy="351.5" r="2.1" fill="#7e8888"/>
<circle cx="57.9" cy="353.7" r="2.0" fill="#7e8888"/>
<circle cx="22.3" cy="359.6" r="2.0" fill="#7e8888"/>
<circle cx="48.2" cy="340.4" r="2.1" fill="#7e8888"/>
<circle cx="22.5" cy="350.7" r="1.9" fill="#7e8888"/>
<circle cx="29.4" cy="353.2" r="1.4" fill="#7e8888"/>
<circle cx="15.1" cy="371.8" r="1.5" fill="#7e8888"/>
<circle cx="45.8" cy="358.1" r="1.7" fill="#7e8888"/>
<circle cx="67.2" cy="365.4" r="1.8" fill="#7e8888"/>
<circle cx="61.7" cy="345.8" r="1.4" fill="#7e8888"/>
<circle cx="64.2" cy="387.1" r="1.5" fill="#7e8888"/>
<circle cx="21.1" cy="382.0" r="2.1" fill="#7e8888"/>
<circle cx="21.5" cy="395.8" r="2.0" fill="#7e8888"/>
<circle cx="45.9" cy="361.3" r="1.4" fill="#7e8888"/>
<circle cx="12.0" cy="396.6" r="1.5" fill="#7e8888"/>
<circle cx="52.0" cy="350.6" r="2.0" fill="#7e8888"/>
<circle cx="45.5" cy="353.0" r="1.4" fill="#7e8888"/>
<circle cx="52.9" cy="338.4" r="1.5" fill="#7e8888"/>
<circle cx="43.3" cy="389.4" r="1.8" fill="#7e8888"/>
<circle cx="26.5" cy="393.6" r="1.5" fill="#7e8888"/>
<circle cx="10.7" cy="351.4" r="1.7" fill="#7e8888"/>
<circle cx="13.3" cy="345.4" r="1.6" fill="#7e8888"/>
<circle cx="44.0" cy="342.5" r="1.6" fill="#7e8888"/>
<circle cx="63.2" cy="397.7" r="1.8" fill="#7e8888"/>
<circle cx="51.2" cy="371.9" r="1.4" fill="#7e8888"/>
<circle cx="11.8" cy="335.1" r="2.0" fill="#7e8888"/>
<circle cx="51.8" cy="396.6" r="1.3" fill="#7e8888"/>
<circle cx="47.9" cy="365.3" r="1.9" fill="#7e8888"/>
<circle cx="28.8" cy="399.0" r="1.4" fill="#7e8888"/>
<circle cx="42.5" cy="381.9" r="2.0" fill="#7e8888"/>
<circle cx="53.9" cy="379.7" r="1.9" fill="#7e8888"/>
<circle cx="64.6" cy="356.8" r="1.8" fill="#7e8888"/>
<circle cx="63.8" cy="390.6" r="1.6" fill="#7e8888"/>
<circle cx="57.1" cy="390.1" r="1.8" fill="#7e8888"/>
<circle cx="47.2" cy="358.8" r="1.8" fill="#7e8888"/>
<circle cx="46.2" cy="339.1" r="1.8" fill="#7e8888"/>
<circle cx="69.3" cy="391.2" r="1.9" fill="#7e8888"/>
<circle cx="33.0" cy="381.8" r="1.8" fill="#7e8888"/>
<circle cx="36.1" cy="388.5" r="1.4" fill="#7e8888"/>
<circle cx="54.7" cy="335.8" r="1.8" fill="#7e8888"/>
<circle cx="38.6" cy="348.9" r="1.9" fill="#7e8888"/>
<circle cx="39.5" cy="373.9" r="2.0" fill="#7e8888"/>
<circle cx="25.0" cy="334.6" r="1.5" fill="#7e8888"/>
<circle cx="50.4" cy="347.1" r="1.4" fill="#7e8888"/>
<circle cx="64.0" cy="376.9" r="1.7" fill="#7e8888"/>
<circle cx="63.2" cy="355.2" r="1.8" fill="#7e8888"/>
<circle cx="21.6" cy="362.0" r="1.9" fill="#7e8888"/>
<circle cx="64.6" cy="391.2" r="1.6" fill="#7e8888"/>
<circle cx="44.7" cy="354.5" r="1.4" fill="#7e8888"/>
<circle cx="39.5" cy="388.4" r="2.0" fill="#7e8888"/>
<circle cx="52.4" cy="395.7" r="1.5" fill="#7e8888"/>
<circle cx="19.8" cy="363.2" r="1.5" fill="#7e8888"/>
<circle cx="22.5" cy="360.9" r="1.8" fill="#7e8888"/>
<circle cx="39.3" cy="354.4" r="2.0" fill="#7e8888"/>
<circle cx="68.6" cy="363.4" r="1.4" fill="#7e8888"/>
<circle cx="11.6" cy="390.7" r="1.3" fill="#7e8888"/>
<circle cx="52.2" cy="371.0" r="1.5" fill="#7e8888"/>
<circle cx="57.2" cy="335.1" r="1.4" fill="#7e8888"/>
<circle cx="37.0" cy="335.5" r="2.0" fill="#7e8888"/>
<circle cx="23.9" cy="343.1" r="1.3" fill="#7e8888"/>
<circle cx="47.5" cy="363.0" r="1.8" fill="#7e8888"/>
<circle cx="49.0" cy="386.5" r="2.1" fill="#7e8888"/>
<circle cx="50.8" cy="346.9" r="1.7" fill="#7e8888"/>
<circle cx="20.4" cy="334.6" r="1.7" fill="#7e8888"/>
<circle cx="52.6" cy="345.6" r="1.5" fill="#7e8888"/>
<circle cx="30.4" cy="379.3" r="1.7" fill="#7e8888"/>
<circle cx="46.6" cy="383.1" r="1.6" fill="#7e8888"/>
<circle cx="57.2" cy="392.9" r="1.4" fill="#7e8888"/>
<circle cx="65.7" cy="380.9" r="1.4" fill="#7e8888"/>
<circle cx="36.9" cy="374.6" r="2.0" fill="#7e8888"/>
<circle cx="32.3" cy="370.9" r="2.0" fill="#7e8888"/>
<circle cx="57.5" cy="395.4" r="1.7" fill="#7e8888"/>
<circle cx="48.8" cy="347.2" r="1.9" fill="#7e8888"/>
<circle cx="58.8" cy="375.7" r="1.9" fill="#7e8888"/>
<circle cx="22.5" cy="392.5" r="2.1" fill="#7e8888"/>
<circle cx="68.3" cy="368.9" r="1.9" fill="#7e8888"/>
<circle cx="28.9" cy="393.1" r="2.0" fill="#7e8888"/>
<circle cx="30.6" cy="339.3" r="1.7" fill="#7e8888"/>
<circle cx="42.7" cy="383.9" r="1.7" fill="#7e8888"/>
<circle cx="11.4" cy="386.6" r="1.4" fill="#7e8888"/>
<circle cx="57.7" cy="345.2" r="1.6" fill="#7e8888"/>
<circle cx="57.0" cy="343.0" r="1.4" fill="#7e8888"/>
<circle cx="40.7" cy="381.0" r="2.0" fill="#7e8888"/>
<circle cx="51.1" cy="395.5" r="1.7" fill="#7e8888"/>
<circle cx="66.6" cy="339.5" r="1.5" fill="#7e8888"/>
<circle cx="41.3" cy="352.8" r="1.9" fill="#7e8888"/>
<circle cx="48.0" cy="367.9" r="2.0" fill="#7e8888"/>
<circle cx="43.3" cy="354.2" r="1.6" fill="#7e8888"/>
<circle cx="60.4" cy="392.5" r="1.5" fill="#7e8888"/>
<circle cx="60.7" cy="396.9" r="1.7" fill="#7e8888"/>
<circle cx="44.1" cy="347.0" r="1.7" fill="#7e8888"/>
<circle cx="39.9" cy="373.3" r="1.3" fill="#7e8888"/>
<circle cx="67.9" cy="367.5" r="1.6" fill="#7e8888"/>
<circle cx="57.8" cy="370.5" r="1.7" fill="#7e8888"/>
<circle cx="51.2" cy="338.2" r="1.7" fill="#7e8888"/>
<circle cx="34.5" cy="396.2" r="2.0" fill="#7e8888"/>
<circle cx="25.9" cy="364.7" r="1.4" fill="#7e8888"/>
<circle cx="35.7" cy="387.0" r="2.0" fill="#7e8888"/>
<circle cx="38.3" cy="354.6" r="1.5" fill="#7e8888"/>
<circle cx="46.8" cy="394.1" r="1.4" fill="#7e8888"/>
<circle cx="56.5" cy="335.4" r="1.5" fill="#7e8888"/>
<circle cx="23.3" cy="378.6" r="1.6" fill="#7e8888"/>
<circle cx="31.0" cy="374.2" r="1.4" fill="#7e8888"/>
<circle cx="53.6" cy="341.9" r="1.7" fill="#7e8888"/>
<circle cx="24.7" cy="346.8" r="1.7" fill="#7e8888"/>
<circle cx="35.9" cy="358.4" r="1.6" fill="#7e8888"/>
<circle cx="41.5" cy="344.3" r="1.5" fill="#7e8888"/>
<circle cx="47.6" cy="375.5" r="1.7" fill="#7e8888"/>
<circle cx="60.8" cy="373.7" r="2.0" fill="#7e8888"/>
<circle cx="23.7" cy="382.1" r="1.9" fill="#7e8888"/>
<circle cx="63.9" cy="354.5" r="1.6" fill="#7e8888"/>
<circle cx="65.1" cy="348.1" r="2.1" fill="#7e8888"/>
<circle cx="63.0" cy="342.6" r="1.5" fill="#7e8888"/>
<circle cx="53.3" cy="350.8" r="1.4" fill="#7e8888"/>
<circle cx="59.6" cy="361.3" r="1.9" fill="#7e8888"/>
<circle cx="17.3" cy="360.1" r="1.8" fill="#7e8888"/>
<circle cx="10.8" cy="347.0" r="1.8" fill="#7e8888"/>
<circle cx="64.4" cy="396.9" r="1.4" fill="#7e8888"/>
<circle cx="40.0" cy="383.3" r="1.7" fill="#7e8888"/>
<circle cx="50.8" cy="346.2" r="1.4" fill="#7e8888"/>
<circle cx="16.1" cy="336.3" r="1.7" fill="#7e8888"/>
<circle cx="40.6" cy="370.9" r="1.4" fill="#7e8888"/>
<circle cx="20.8" cy="347.2" r="2.0" fill="#7e8888"/>
<circle cx="69.1" cy="394.2" r="1.4" fill="#7e8888"/>
<circle cx="13.4" cy="395.8" r="1.7" fill="#7e8888"/>
<circle cx="55.6" cy="355.2" r="1.7" fill="#7e8888"/>
<circle cx="40.6" cy="361.9" r="1.8" fill="#7e8888"/>
<circle cx="10.5" cy="379.5" r="2.0" fill="#7e8888"/>
<circle cx="20.6" cy="363.5" r="1.9" fill="#7e8888"/>
<circle cx="34.0" cy="346.6" r="1.4" fill="#7e8888"/>
<circle cx="40.5" cy="334.9" r="2.0" fill="#7e8888"/>
<circle cx="57.8" cy="379.8" r="2.0" fill="#7e8888"/>
<circle cx="47.5" cy="360.2" r="1.8" fill="#7e8888"/>
<circle cx="40.0" cy="397.9" r="1.9" fill="#7e8888"/>
<circle cx="25.2" cy="393.2" r="1.9" fill="#7e8888"/>
<circle cx="56.4" cy="386.9" r="1.6" fill="#7e8888"/>
<circle cx="63.5" cy="391.2" r="1.9" fill="#7e8888"/>
<circle cx="55.7" cy="383.7" r="1.6" fill="#7e8888"/>
<circle cx="53.1" cy="338.5" r="1.6" fill="#7e8888"/>
<circle cx="37.8" cy="334.6" r="1.6" fill="#7e8888"/>
<circle cx="48.0" cy="374.5" r="1.5" fill="#7e8888"/>
<circle cx="66.4" cy="377.3" r="1.6" fill="#7e8888"/>
<circle cx="49.3" cy="371.0" r="1.7" fill="#7e8888"/>
<circle cx="33.1" cy="399.0" r="1.8" fill="#7e8888"/>
<circle cx="51.8" cy="383.5" r="2.1" fill="#7e8888"/>
<circle cx="11.1" cy="374.0" r="1.9" fill="#7e8888"/>
<circle cx="25.1" cy="360.0" r="1.3" fill="#7e8888"/>
<circle cx="21.4" cy="358.4" r="1.4" fill="#7e8888"/>
<circle cx="24.8" cy="392.9" r="1.7" fill="#7e8888"/>
<circle cx="40.2" cy="396.9" r="1.8" fill="#7e8888"/>
<circle cx="69.4" cy="375.4" r="1.9" fill="#7e8888"/>
<circle cx="14.3" cy="372.8" r="1.9" fill="#7e8888"/>
<circle cx="12.4" cy="394.5" r="1.4" fill="#7e8888"/>
<circle cx="38.0" cy="344.9" r="1.7" fill="#7e8888"/>
<circle cx="46.4" cy="337.7" r="2.1" fill="#7e8888"/>
<circle cx="34.9" cy="368.2" r="1.8" fill="#7e8888"/>
<circle cx="31.6" cy="352.5" r="1.8" fill="#7e8888"/>
<circle cx="43.3" cy="352.4" r="1.9" fill="#7e8888"/>
<circle cx="27.5" cy="334.8" r="1.5" fill="#7e8888"/>
<rect x="72.0" y="333.0" width="64.5" height="67.0" fill="#3c4242" />
<svg x="72.0" y="333.0" width="64.5" height="67.0" overflow="hidden">
<circle cx="-3.2" cy="-2.9" r="2.2" fill="#566060"/>
<circle cx="1.0" cy="-2.5" r="2.0" fill="#465050"/>
<circle cx="5.3" cy="-1.1" r="2.0" fill="#566060"/>
<circle cx="9.9" cy="-1.5" r="1.7" fill="#4a5252"/>
<circle cx="15.7" cy="-1.6" r="2.0" fill="#505858"/>
<circle cx="19.1" cy="-3.0" r="2.1" fill="#566060"/>
<circle cx="22.2" cy="-1.2" r="1.9" fill="#505858"/>
<circle cx="26.4" cy="-2.2" r="2.2" fill="#566060"/>
<circle cx="31.7" cy="-1.8" r="2.2" fill="#465050"/>
<circle cx="36.4" cy="-2.0" r="2.4" fill="#465050"/>
<circle cx="40.5" cy="-2.7" r="1.8" fill="#465050"/>
<circle cx="44.8" cy="-1.8" r="1.9" fill="#465050"/>
<circle cx="48.6" cy="-1.6" r="2.2" fill="#505858"/>
<circle cx="52.8" cy="-1.5" r="1.8" fill="#505858"/>
<circle cx="56.7" cy="-1.7" r="1.8" fill="#4a5252"/>
<circle cx="61.2" cy="-3.3" r="1.9" fill="#4a5252"/>
<circle cx="65.4" cy="-3.1" r="2.1" fill="#4a5252"/>
<circle cx="0.6" cy="2.5" r="1.8" fill="#505858"/>
<circle cx="4.5" cy="1.2" r="2.0" fill="#505858"/>
<circle cx="8.0" cy="1.5" r="1.8" fill="#4a5252"/>
<circle cx="13.3" cy="1.4" r="2.3" fill="#505858"/>
<circle cx="16.7" cy="2.1" r="2.0" fill="#505858"/>
<circle cx="20.7" cy="1.9" r="2.4" fill="#465050"/>
<circle cx="24.7" cy="2.2" r="2.3" fill="#505858"/>
<circle cx="29.2" cy="1.2" r="1.8" fill="#465050"/>
<circle cx="32.6" cy="0.6" r="2.1" fill="#566060"/>
<circle cx="38.6" cy="1.5" r="2.3" fill="#4a5252"/>
<circle cx="41.0" cy="0.9" r="2.2" fill="#4a5252"/>
<circle cx="46.7" cy="1.5" r="2.2" fill="#465050"/>
<circle cx="49.9" cy="0.7" r="1.9" fill="#465050"/>
<circle cx="54.3" cy="0.6" r="2.2" fill="#465050"/>
<circle cx="58.7" cy="2.3" r="1.9" fill="#465050"/>
<circle cx="62.3" cy="2.7" r="2.2" fill="#505858"/>
<circle cx="66.2" cy="2.3" r="1.7" fill="#566060"/>
<circle cx="-1.9" cy="5.9" r="2.2" fill="#465050"/>
<circle cx="2.8" cy="5.3" r="2.3" fill="#505858"/>
<circle cx="5.5" cy="5.8" r="2.3" fill="#465050"/>
<circle cx="11.2" cy="4.5" r="1.7" fill="#505858"/>
<circle cx="14.9" cy="6.3" r="2.2" fill="#566060"/>
<circle cx="17.9" cy="5.3" r="2.3" fill="#4a5252"/>
<circle cx="22.7" cy="4.7" r="1.8" fill="#465050"/>
<circle cx="26.3" cy="5.5" r="1.8" fill="#566060"/>
<circle cx="30.9" cy="4.5" r="2.2" fill="#465050"/>
<circle cx="36.3" cy="5.0" r="1.9" fill="#465050"/>
<circle cx="40.3" cy="5.2" r="2.1" fill="#4a5252"/>
<circle cx="44.6" cy="6.2" r="2.0" fill="#465050"/>
<circle cx="49.1" cy="5.9" r="2.3" fill="#566060"/>
<circle cx="53.6" cy="5.5" r="2.1" fill="#4a5252"/>
<circle cx="57.4" cy="5.0" r="2.0" fill="#505858"/>
<circle cx="60.3" cy="4.4" r="2.1" fill="#505858"/>
<circle cx="64.7" cy="4.9" r="2.1" fill="#465050"/>
<circle cx="1.1" cy="7.8" r="1.9" fill="#4a5252"/>
<circle cx="3.7" cy="8.0" r="2.4" fill="#4a5252"/>
<circle cx="9.0" cy="7.7" r="2.0" fill="#4a5252"/>
<circle cx="12.2" cy="8.1" r="1.9" fill="#505858"/>
<circle cx="17.0" cy="8.8" r="2.1" fill="#566060"/>
<circle cx="20.2" cy="8.3" r="1.8" fill="#465050"/>
<circle cx="25.5" cy="9.9" r="2.1" fill="#465050"/>
<circle cx="29.4" cy="8.6" r="2.4" fill="#4a5252"/>
<circle cx="33.6" cy="8.2" r="1.7" fill="#505858"/>
<circle cx="38.5" cy="8.6" r="2.1" fill="#465050"/>
<circle cx="42.7" cy="7.8" r="2.4" fill="#4a5252"/>
<circle cx="47.1" cy="9.8" r="2.0" fill="#505858"/>
<circle cx="50.9" cy="9.1" r="1.8" fill="#505858"/>
<circle cx="55.3" cy="8.0" r="2.3" fill="#505858"/>
<circle cx="59.1" cy="10.0" r="1.9" fill="#4a5252"/>
<circle cx="62.2" cy="9.5" r="1.7" fill="#505858"/>
<circle cx="68.0" cy="7.9" r="1.9" fill="#4a5252"/>
<circle cx="-1.2" cy="13.0" r="1.7" fill="#465050"/>
<circle cx="0.9" cy="11.8" r="1.8" fill="#4a5252"/>
<circle cx="7.0" cy="12.4" r="1.7" fill="#566060"/>
<circle cx="10.6" cy="11.7" r="2.3" fill="#465050"/>
<circle cx="14.3" cy="12.3" r="2.1" fill="#566060"/>
<circle cx="19.3" cy="11.5" r="1.7" fill="#505858"/>
<circle cx="22.2" cy="12.3" r="2.0" fill="#4a5252"/>
<circle cx="27.7" cy="11.3" r="2.0" fill="#566060"/>
<circle cx="30.9" cy="12.7" r="2.0" fill="#4a5252"/>
<circle cx="36.6" cy="13.3" r="2.2" fill="#505858"/>
<circle cx="39.4" cy="12.2" r="2.1" fill="#465050"/>
<circle cx="45.2" cy="13.1" r="2.1" fill="#4a5252"/>
<circle cx="47.7" cy="11.8" r="2.2" fill="#465050"/>
<circle cx="52.0" cy="12.0" r="2.0" fill="#465050"/>
<circle cx="56.6" cy="12.2" r="1.8" fill="#4a5252"/>
<circle cx="60.0" cy="12.8" r="1.8" fill="#505858"/>
<circle cx="64.9" cy="13.3" r="2.1" fill="#4a5252"/>
<circle cx="-1.0" cy="15.0" r="2.4" fill="#566060"/>
<circle cx="4.0" cy="15.1" r="2.4" fill="#566060"/>
<circle cx="9.4" cy="15.3" r="1.8" fill="#505858"/>
<circle cx="13.4" cy="15.9" r="1.9" fill="#566060"/>
<circle cx="17.1" cy="16.7" r="2.1" fill="#465050"/>
<circle cx="22.2" cy="16.9" r="2.2" fill="#4a5252"/>
<circle cx="24.6" cy="15.4" r="1.9" fill="#566060"/>
<circle cx="28.5" cy="15.9" r="2.1" fill="#465050"/>
<circle cx="34.4" cy="16.4" r="1.8" fill="#465050"/>
<circle cx="37.9" cy="15.8" r="2.0" fill="#505858"/>
<circle cx="42.2" cy="15.4" r="2.4" fill="#505858"/>
<circle cx="46.4" cy="15.0" r="2.2" fill="#4a5252"/>
<circle cx="49.5" cy="16.1" r="2.0" fill="#465050"/>
<circle cx="54.2" cy="17.2" r="1.9" fill="#566060"/>
<circle cx="59.7" cy="16.1" r="2.2" fill="#505858"/>
<circle cx="64.0" cy="16.3" r="2.1" fill="#465050"/>
<circle cx="66.4" cy="16.8" r="2.3" fill="#465050"/>
<circle cx="-1.9" cy="18.9" r="2.3" fill="#465050"/>
<circle cx="2.5" cy="19.5" r="2.2" fill="#465050"/>
<circle cx="7.1" cy="19.1" r="2.1" fill="#4a5252"/>
<circle cx="10.4" cy="19.6" r="2.3" fill="#505858"/>
<circle cx="14.2" cy="20.2" r="2.2" fill="#566060"/>
<circle cx="19.2" cy="20.2" r="2.2" fill="#505858"/>
<circle cx="22.4" cy="19.7" r="1.8" fill="#566060"/>
<circle cx="26.4" cy="19.6" r="1.9" fill="#505858"/>
<circle cx="30.9" cy="20.0" r="1.9" fill="#4a5252"/>
<circle cx="36.2" cy="20.5" r="2.0" fill="#566060"/>
<circle cx="40.1" cy="19.8" r="2.0" fill="#566060"/>
<circle cx="44.7" cy="19.8" r="2.4" fill="#566060"/>
<circle cx="49.1" cy="18.9" r="1.8" fill="#465050"/>
<circle cx="52.6" cy="19.7" r="2.3" fill="#465050"/>
<circle cx="57.7" cy="19.3" r="2.1" fill="#566060"/>
<circle cx="61.5" cy="20.1" r="2.2" fill="#465050"/>
<circle cx="66.0" cy="20.7" r="1.9" fill="#566060"/>
<circle cx="-0.6" cy="24.4" r="2.4" fill="#566060"/>
<circle cx="4.7" cy="23.5" r="1.9" fill="#465050"/>
<circle cx="8.8" cy="24.5" r="2.3" fill="#465050"/>
<circle cx="13.5" cy="23.3" r="2.3" fill="#505858"/>
<circle cx="17.2" cy="23.3" r="1.8" fill="#4a5252"/>
<circle cx="20.0" cy="24.2" r="1.8" fill="#566060"/>
<circle cx="24.0" cy="22.9" r="1.9" fill="#465050"/>
<circle cx="28.6" cy="23.3" r="2.0" fill="#566060"/>
<circle cx="32.7" cy="23.9" r="1.8" fill="#465050"/>
<circle cx="36.7" cy="24.4" r="1.9" fill="#566060"/>
<circle cx="41.1" cy="24.1" r="2.3" fill="#505858"/>
<circle cx="45.5" cy="24.3" r="2.2" fill="#4a5252"/>
<circle cx="49.7" cy="24.3" r="1.9" fill="#566060"/>
<circle cx="53.4" cy="23.8" r="2.2" fill="#505858"/>
<circle cx="58.9" cy="22.8" r="2.4" fill="#4a5252"/>
<circle cx="63.4" cy="23.0" r="2.3" fill="#465050"/>
<circle cx="68.1" cy="24.0" r="1.8" fill="#566060"/>
<circle cx="-2.3" cy="26.3" r="2.3" fill="#4a5252"/>
<circle cx="2.6" cy="26.4" r="1.8" fill="#505858"/>
<circle cx="6.3" cy="26.6" r="1.9" fill="#4a5252"/>
<circle cx="10.7" cy="26.5" r="1.9" fill="#505858"/>
<circle cx="15.1" cy="26.6" r="2.2" fill="#4a5252"/>
<circle cx="18.8" cy="26.1" r="2.4" fill="#4a5252"/>
<circle cx="23.2" cy="26.0" r="2.1" fill="#465050"/>
<circle cx="27.4" cy="26.9" r="2.1" fill="#505858"/>
<circle cx="31.0" cy="27.7" r="1.9" fill="#465050"/>
<circle cx="36.3" cy="26.0" r="2.3" fill="#505858"/>
<circle cx="41.1" cy="26.0" r="2.0" fill="#566060"/>
<circle cx="42.9" cy="28.1" r="1.7" fill="#4a5252"/>
<circle cx="48.4" cy="27.5" r="1.9" fill="#566060"/>
<circle cx="53.2" cy="27.2" r="2.1" fill="#505858"/>
<circle cx="56.9" cy="27.8" r="1.8" fill="#566060"/>
<circle cx="60.3" cy="27.0" r="2.2" fill="#505858"/>
<circle cx="64.5" cy="27.2" r="2.3" fill="#566060"/>
<circle cx="-0.6" cy="30.1" r="2.4" fill="#4a5252"/>
<circle cx="4.4" cy="31.7" r="1.8" fill="#505858"/>
<circle cx="8.7" cy="31.0" r="2.3" fill="#566060"/>
<circle cx="13.1" cy="31.6" r="1.7" fill="#4a5252"/>
<circle cx="17.8" cy="31.0" r="2.1" fill="#505858"/>
<circle cx="21.3" cy="29.7" r="2.0" fill="#465050"/>
<circle cx="26.0" cy="31.4" r="2.3" fill="#566060"/>
<circle cx="28.4" cy="31.6" r="1.8" fill="#465050"/>
<circle cx="33.0" cy="30.8" r="2.2" fill="#566060"/>
<circle cx="36.7" cy="30.6" r="1.9" fill="#505858"/>
<circle cx="42.5" cy="31.9" r="1.8" fill="#505858"/>
<circle cx="45.3" cy="30.7" r="2.2" fill="#4a5252"/>
<circle cx="49.2" cy="30.6" r="2.1" fill="#4a5252"/>
<circle cx="54.3" cy="30.3" r="2.0" fill="#4a5252"/>
<circle cx="59.9" cy="31.2" r="2.2" fill="#505858"/>
<circle cx="62.5" cy="29.9" r="2.3" fill="#566060"/>
<circle cx="67.1" cy="31.8" r="1.9" fill="#465050"/>
<circle cx="-1.0" cy="35.5" r="1.8" fill="#505858"/>
<circle cx="1.9" cy="34.8" r="1.7" fill="#465050"/>
<circle cx="6.5" cy="35.4" r="2.3" fill="#505858"/>
<circle cx="10.4" cy="34.2" r="2.3" fill="#566060"/>
<circle cx="14.4" cy="33.4" r="2.0" fill="#505858"/>
<circle cx="18.1" cy="34.6" r="1.8" fill="#505858"/>
<circle cx="22.9" cy="34.7" r="2.2" fill="#566060"/>
<circle cx="27.2" cy="35.6" r="2.2" fill="#566060"/>
<circle cx="30.8" cy="34.2" r="1.7" fill="#465050"/>
<circle cx="35.4" cy="33.9" r="1.7" fill="#505858"/>
<circle cx="40.5" cy="34.5" r="2.1" fill="#505858"/>
<circle cx="43.5" cy="34.1" r="1.8" fill="#465050"/>
<circle cx="47.4" cy="33.8" r="2.3" fill="#4a5252"/>
<circle cx="51.3" cy="34.0" r="2.0" fill="#4a5252"/>
<circle cx="57.6" cy="34.2" r="1.9" fill="#4a5252"/>
<circle cx="60.4" cy="34.7" r="2.0" fill="#505858"/>
<circle cx="64.3" cy="34.7" r="1.7" fill="#465050"/>
<circle cx="-0.2" cy="38.0" r="2.2" fill="#465050"/>
<circle cx="3.8" cy="38.0" r="2.0" fill="#505858"/>
<circle cx="9.2" cy="38.2" r="2.0" fill="#505858"/>
<circle cx="12.3" cy="39.0" r="1.8" fill="#465050"/>
<circle cx="16.5" cy="38.4" r="1.8" fill="#4a5252"/>
<circle cx="21.6" cy="38.1" r="1.7" fill="#465050"/>
<circle cx="25.6" cy="37.1" r="2.3" fill="#465050"/>
<circle cx="29.8" cy="39.2" r="2.3" fill="#505858"/>
<circle cx="34.3" cy="37.5" r="2.3" fill="#4a5252"/>
<circle cx="37.5" cy="37.0" r="2.0" fill="#465050"/>
<circle cx="41.5" cy="38.6" r="1.8" fill="#566060"/>
<circle cx="45.5" cy="38.7" r="1.9" fill="#505858"/>
<circle cx="50.4" cy="38.7" r="2.3" fill="#505858"/>
<circle cx="54.5" cy="37.5" r="2.3" fill="#465050"/>
<circle cx="59.3" cy="36.9" r="2.0" fill="#465050"/>
<circle cx="64.0" cy="39.1" r="1.9" fill="#566060"/>
<circle cx="67.2" cy="38.3" r="2.0" fill="#465050"/>
<circle cx="-1.2" cy="40.7" r="1.7" fill="#465050"/>
<circle cx="3.0" cy="41.9" r="1.9" fill="#505858"/>
<circle cx="6.6" cy="41.5" r="1.9" fill="#465050"/>
<circle cx="9.4" cy="42.2" r="1.8" fill="#4a5252"/>
<circle cx="15.0" cy="42.0" r="2.0" fill="#566060"/>
<circle cx="17.9" cy="40.7" r="2.0" fill="#566060"/>
<circle cx="22.8" cy="42.7" r="1.7" fill="#505858"/>
<circle cx="27.7" cy="41.2" r="2.0" fill="#566060"/>
<circle cx="32.6" cy="40.9" r="1.8" fill="#505858"/>
<circle cx="35.1" cy="41.1" r="2.1" fill="#566060"/>
<circle cx="38.7" cy="41.9" r="2.3" fill="#4a5252"/>
<circle cx="44.4" cy="41.9" r="2.3" fill="#465050"/>
<circle cx="47.7" cy="40.8" r="1.7" fill="#505858"/>
<circle cx="53.0" cy="42.2" r="2.4" fill="#505858"/>
<circle cx="55.9" cy="42.0" r="2.0" fill="#465050"/>
<circle cx="60.6" cy="41.2" r="2.2" fill="#566060"/>
<circle cx="64.5" cy="41.1" r="1.9" fill="#505858"/>
<circle cx="1.0" cy="46.0" r="2.3" fill="#4a5252"/>
<circle cx="5.0" cy="46.3" r="1.9" fill="#566060"/>
<circle cx="8.4" cy="45.8" r="1.7" fill="#566060"/>
<circle cx="13.5" cy="44.3" r="1.9" fill="#566060"/>
<circle cx="16.2" cy="45.7" r="2.0" fill="#465050"/>
<circle cx="20.2" cy="46.3" r="1.8" fill="#505858"/>
<circle cx="25.4" cy="45.2" r="2.2" fill="#465050"/>
<circle cx="30.1" cy="44.5" r="2.0" fill="#465050"/>
<circle cx="33.0" cy="44.6" r="1.7" fill="#505858"/>
<circle cx="37.2" cy="44.9" r="1.9" fill="#566060"/>
<circle cx="41.7" cy="45.8" r="1.8" fill="#505858"/>
<circle cx="46.7" cy="44.5" r="1.7" fill="#465050"/>
<circle cx="50.1" cy="45.5" r="2.3" fill="#566060"/>
<circle cx="54.2" cy="44.3" r="2.1" fill="#566060"/>
<circle cx="58.0" cy="44.4" r="2.0" fill="#465050"/>
<circle cx="62.3" cy="45.9" r="2.0" fill="#505858"/>
<circle cx="68.4" cy="45.1" r="2.2" fill="#465050"/>
<circle cx="-1.4" cy="48.2" r="1.8" fill="#4a5252"/>
<circle cx="2.2" cy="50.0" r="2.3" fill="#566060"/>
<circle cx="5.4" cy="48.6" r="1.7" fill="#505858"/>
<circle cx="10.0" cy="48.8" r="1.9" fill="#4a5252"/>
<circle cx="14.7" cy="48.7" r="1.9" fill="#4a5252"/>
<circle cx="18.1" cy="47.9" r="2.2" fill="#4a5252"/>
<circle cx="21.9" cy="48.7" r="1.8" fill="#505858"/>
<circle cx="28.5" cy="48.8" r="1.7" fill="#465050"/>
<circle cx="32.2" cy="48.8" r="1.7" fill="#465050"/>
<circle cx="35.2" cy="50.1" r="2.3" fill="#566060"/>
<circle cx="40.1" cy="50.1" r="1.7" fill="#4a5252"/>
<circle cx="45.2" cy="49.1" r="2.2" fill="#465050"/>
<circle cx="48.0" cy="49.7" r="1.9" fill="#566060"/>
<circle cx="51.3" cy="48.4" r="2.4" fill="#4a5252"/>
<circle cx="57.3" cy="48.5" r="1.9" fill="#566060"/>
<circle cx="60.7" cy="49.8" r="2.3" fill="#4a5252"/>
<circle cx="66.1" cy="49.0" r="2.3" fill="#566060"/>
<circle cx="-0.6" cy="53.7" r="1.7" fill="#505858"/>
<circle cx="3.5" cy="52.4" r="2.0" fill="#465050"/>
<circle cx="9.1" cy="52.4" r="2.1" fill="#465050"/>
<circle cx="12.1" cy="51.7" r="2.2" fill="#4a5252"/>
<circle cx="16.2" cy="52.0" r="1.8" fill="#4a5252"/>
<circle cx="21.6" cy="52.8" r="2.2" fill="#505858"/>
<circle cx="24.8" cy="51.9" r="2.0" fill="#505858"/>
<circle cx="29.2" cy="51.5" r="2.0" fill="#566060"/>
<circle cx="32.6" cy="53.8" r="2.3" fill="#505858"/>
<circle cx="36.6" cy="51.9" r="1.7" fill="#4a5252"/>
<circle cx="42.2" cy="52.3" r="2.0" fill="#505858"/>
<circle cx="46.2" cy="53.4" r="2.3" fill="#465050"/>
<circle cx="49.4" cy="52.4" r="2.4" fill="#505858"/>
<circle cx="55.3" cy="52.8" r="1.7" fill="#566060"/>
<circle cx="59.8" cy="51.6" r="2.1" fill="#465050"/>
<circle cx="63.9" cy="53.6" r="2.1" fill="#4a5252"/>
<circle cx="66.3" cy="53.3" r="2.2" fill="#566060"/>
<circle cx="-1.7" cy="56.2" r="2.0" fill="#505858"/>
<circle cx="1.8" cy="56.5" r="1.7" fill="#4a5252"/>
<circle cx="6.4" cy="56.2" r="1.9" fill="#4a5252"/>
<circle cx="10.7" cy="57.4" r="1.8" fill="#566060"/>
<circle cx="14.3" cy="55.8" r="2.1" fill="#505858"/>
<circle cx="19.5" cy="57.5" r="2.0" fill="#505858"/>
<circle cx="23.7" cy="57.3" r="1.8" fill="#505858"/>
<circle cx="28.1" cy="56.7" r="2.4" fill="#4a5252"/>
<circle cx="32.2" cy="56.4" r="2.4" fill="#4a5252"/>
<circle cx="34.9" cy="55.3" r="1.9" fill="#465050"/>
<circle cx="39.8" cy="56.5" r="2.3" fill="#505858"/>
<circle cx="44.1" cy="57.5" r="1.9" fill="#4a5252"/>
<circle cx="48.4" cy="57.1" r="2.0" fill="#505858"/>
<circle cx="51.5" cy="56.4" r="1.7" fill="#4a5252"/>
<circle cx="57.4" cy="55.5" r="1.9" fill="#4a5252"/>
<circle cx="60.5" cy="57.4" r="2.4" fill="#505858"/>
<circle cx="65.9" cy="55.4" r="1.8" fill="#566060"/>
<circle cx="-1.1" cy="60.5" r="2.0" fill="#566060"/>
<circle cx="3.2" cy="61.2" r="1.8" fill="#465050"/>
<circle cx="9.3" cy="60.6" r="1.8" fill="#566060"/>
<circle cx="12.3" cy="60.8" r="2.2" fill="#465050"/>
<circle cx="17.2" cy="59.3" r="1.8" fill="#505858"/>
<circle cx="20.2" cy="60.2" r="1.7" fill="#465050"/>
<circle cx="24.3" cy="61.1" r="2.1" fill="#465050"/>
<circle cx="28.9" cy="58.8" r="1.7" fill="#505858"/>
<circle cx="34.2" cy="59.7" r="1.9" fill="#566060"/>
<circle cx="37.1" cy="59.0" r="1.9" fill="#465050"/>
<circle cx="42.8" cy="59.8" r="2.0" fill="#4a5252"/>
<circle cx="47.3" cy="59.6" r="2.2" fill="#505858"/>
<circle cx="50.4" cy="59.1" r="1.8" fill="#465050"/>
<circle cx="55.7" cy="59.0" r="2.2" fill="#505858"/>
<circle cx="59.8" cy="59.7" r="2.2" fill="#505858"/>
<circle cx="62.9" cy="59.0" r="2.0" fill="#465050"/>
<circle cx="67.4" cy="60.4" r="1.9" fill="#4a5252"/>
<circle cx="-1.7" cy="63.1" r="2.0" fill="#505858"/>
<circle cx="2.3" cy="64.6" r="2.0" fill="#465050"/>
<circle cx="5.9" cy="64.4" r="2.3" fill="#4a5252"/>
<circle cx="10.6" cy="62.7" r="2.3" fill="#4a5252"/>
<circle cx="15.4" cy="62.5" r="1.7" fill="#465050"/>
<circle cx="20.1" cy="64.4" r="2.3" fill="#505858"/>
<circle cx="23.0" cy="63.3" r="2.0" fill="#465050"/>
<circle cx="27.3" cy="64.0" r="1.7" fill="#505858"/>
<circle cx="32.6" cy="64.9" r="2.0" fill="#505858"/>
<circle cx="36.1" cy="64.2" r="2.4" fill="#4a5252"/>
<circle cx="41.1" cy="64.0" r="2.3" fill="#505858"/>
<circle cx="44.1" cy="63.9" r="2.0" fill="#505858"/>
<circle cx="48.3" cy="62.7" r="2.3" fill="#4a5252"/>
<circle cx="51.7" cy="64.0" r="2.1" fill="#465050"/>
<circle cx="57.1" cy="64.8" r="2.0" fill="#4a5252"/>
<circle cx="60.7" cy="62.8" r="2.0" fill="#465050"/>
<circle cx="66.2" cy="64.6" r="1.7" fill="#465050"/>
<circle cx="-0.2" cy="67.5" r="2.4" fill="#4a5252"/>
<circle cx="3.7" cy="67.3" r="1.8" fill="#505858"/>
<circle cx="7.5" cy="66.3" r="2.1" fill="#465050"/>
<circle cx="12.2" cy="66.7" r="2.1" fill="#566060"/>
<circle cx="15.7" cy="66.6" r="2.0" fill="#4a5252"/>
<circle cx="20.9" cy="68.2" r="1.8" fill="#505858"/>
<circle cx="24.3" cy="67.5" r="1.8" fill="#4a5252"/>
<circle cx="29.2" cy="66.2" r="1.8" fill="#4a5252"/>
<circle cx="34.2" cy="67.8" r="1.8" fill="#4a5252"/>
<circle cx="37.6" cy="67.3" r="2.4" fill="#4a5252"/>
<circle cx="41.7" cy="66.8" r="1.8" fill="#4a5252"/>
<circle cx="46.6" cy="67.1" r="2.3" fill="#505858"/>
<circle cx="50.8" cy="68.3" r="2.4" fill="#4a5252"/>
<circle cx="54.3" cy="66.8" r="2.2" fill="#465050"/>
<circle cx="58.1" cy="66.3" r="2.3" fill="#566060"/>
<circle cx="62.7" cy="67.2" r="2.0" fill="#4a5252"/>
<circle cx="66.7" cy="67.4" r="1.8" fill="#566060"/>
<circle cx="-2.0" cy="70.7" r="1.8" fill="#4a5252"/>
<circle cx="2.6" cy="69.9" r="1.9" fill="#505858"/>
<circle cx="6.3" cy="71.0" r="2.2" fill="#465050"/>
<circle cx="10.3" cy="72.1" r="1.7" fill="#465050"/>
<circle cx="15.8" cy="70.7" r="2.1" fill="#465050"/>
<circle cx="19.7" cy="70.3" r="2.2" fill="#4a5252"/>
<circle cx="22.7" cy="71.0" r="2.1" fill="#465050"/>
<circle cx="26.2" cy="70.0" r="1.9" fill="#465050"/>
<circle cx="32.2" cy="72.0" r="2.2" fill="#465050"/>
<circle cx="35.5" cy="70.5" r="2.2" fill="#4a5252"/>
<circle cx="39.7" cy="70.3" r="1.9" fill="#4a5252"/>
<circle cx="43.7" cy="71.7" r="2.3" fill="#465050"/>
<circle cx="47.2" cy="71.6" r="1.7" fill="#4a5252"/>
<circle cx="52.6" cy="72.0" r="2.1" fill="#4a5252"/>
<circle cx="57.0" cy="71.4" r="1.8" fill="#4a5252"/>
<circle cx="61.7" cy="70.9" r="1.9" fill="#4a5252"/>
<circle cx="64.3" cy="70.0" r="2.2" fill="#505858"/>
</svg>
<rect x="137.9" y="333.2" width="63.6" height="66.3" fill="#1c1e1e" />
<svg x="137.9" y="333.2" width="63.6" height="66.3" overflow="hidden">
<circle cx="-2.8" cy="-2.7" r="2.5" fill="#586060"/>
<circle cx="2.5" cy="-1.9" r="2.7" fill="#586060"/>
<circle cx="8.6" cy="-2.9" r="2.8" fill="#586060"/>
<circle cx="13.4" cy="-2.8" r="2.7" fill="#586060"/>
<circle cx="19.0" cy="-3.1" r="2.5" fill="#5e6666"/>
<circle cx="24.0" cy="-3.3" r="2.9" fill="#646c6c"/>
<circle cx="28.4" cy="-1.9" r="2.9" fill="#5e6666"/>
<circle cx="34.1" cy="-1.8" r="2.5" fill="#646c6c"/>
<circle cx="39.0" cy="-2.6" r="2.6" fill="#5e6666"/>
<circle cx="44.7" cy="-2.9" r="2.1" fill="#5e6666"/>
<circle cx="49.7" cy="-2.8" r="2.8" fill="#646c6c"/>
<circle cx="54.5" cy="-2.4" r="2.5" fill="#5e6666"/>
<circle cx="59.8" cy="-1.7" r="2.4" fill="#646c6c"/>
<circle cx="64.5" cy="-3.0" r="2.7" fill="#586060"/>
<circle cx="-0.4" cy="1.1" r="2.8" fill="#646c6c"/>
<circle cx="4.7" cy="1.4" r="2.9" fill="#586060"/>
<circle cx="10.5" cy="2.8" r="2.9" fill="#646c6c"/>
<circle cx="15.4" cy="1.2" r="2.2" fill="#586060"/>
<circle cx="21.1" cy="1.9" r="2.2" fill="#545c5c"/>
<circle cx="26.1" cy="2.0" r="2.4" fill="#5e6666"/>
<circle cx="31.1" cy="2.8" r="2.4" fill="#545c5c"/>
<circle cx="35.7" cy="2.4" r="2.3" fill="#5e6666"/>
<circle cx="42.3" cy="2.4" r="2.4" fill="#5e6666"/>
<circle cx="47.3" cy="2.1" r="2.9" fill="#545c5c"/>
<circle cx="52.3" cy="1.7" r="2.9" fill="#545c5c"/>
<circle cx="57.4" cy="2.5" r="3.0" fill="#586060"/>
<circle cx="61.9" cy="1.1" r="2.6" fill="#545c5c"/>
<circle cx="67.9" cy="1.5" r="2.6" fill="#545c5c"/>
<circle cx="-2.6" cy="6.0" r="2.3" fill="#545c5c"/>
<circle cx="3.4" cy="5.8" r="2.4" fill="#5e6666"/>
<circle cx="8.0" cy="6.5" r="2.7" fill="#545c5c"/>
<circle cx="12.7" cy="6.3" r="2.8" fill="#5e6666"/>
<circle cx="18.2" cy="6.8" r="2.4" fill="#5e6666"/>
<circle cx="24.2" cy="6.5" r="2.6" fill="#545c5c"/>
<circle cx="29.3" cy="5.7" r="2.6" fill="#586060"/>
<circle cx="33.4" cy="5.6" r="2.9" fill="#586060"/>
<circle cx="38.5" cy="6.2" r="2.4" fill="#5e6666"/>
<circle cx="43.4" cy="6.7" r="2.1" fill="#586060"/>
<circle cx="49.2" cy="5.8" r="2.9" fill="#586060"/>
<circle cx="54.5" cy="6.8" r="2.2" fill="#545c5c"/>
<circle cx="60.0" cy="7.2" r="2.9" fill="#586060"/>
<circle cx="64.9" cy="6.4" r="2.2" fill="#646c6c"/>
<circle cx="-0.8" cy="11.8" r="2.9" fill="#586060"/>
<circle cx="4.5" cy="10.6" r="2.4" fill="#545c5c"/>
<circle cx="11.2" cy="11.8" r="2.9" fill="#5e6666"/>
<circle cx="16.2" cy="11.8" r="2.1" fill="#646c6c"/>
<circle cx="21.3" cy="11.9" r="2.6" fill="#545c5c"/>
<circle cx="26.8" cy="10.2" r="2.6" fill="#586060"/>
<circle cx="30.5" cy="10.6" r="2.4" fill="#586060"/>
<circle cx="36.2" cy="10.3" r="2.2" fill="#586060"/>
<circle cx="40.7" cy="10.2" r="2.8" fill="#646c6c"/>
<circle cx="47.4" cy="10.8" r="2.4" fill="#545c5c"/>
<circle cx="51.8" cy="11.7" r="2.3" fill="#586060"/>
<circle cx="57.4" cy="11.0" r="2.4" fill="#545c5c"/>
<circle cx="62.3" cy="10.5" r="2.9" fill="#5e6666"/>
<circle cx="67.1" cy="10.5" r="2.5" fill="#5e6666"/>
<circle cx="-2.1" cy="15.2" r="2.3" fill="#545c5c"/>
<circle cx="2.8" cy="15.6" r="2.6" fill="#586060"/>
<circle cx="7.2" cy="15.0" r="2.4" fill="#545c5c"/>
<circle cx="13.4" cy="15.0" r="2.1" fill="#5e6666"/>
<circle cx="18.3" cy="14.7" r="2.8" fill="#5e6666"/>
<circle cx="23.3" cy="14.7" r="2.6" fill="#5e6666"/>
<circle cx="28.4" cy="15.2" r="2.9" fill="#646c6c"/>
<circle cx="34.7" cy="15.4" r="2.7" fill="#5e6666"/>
<circle cx="38.7" cy="16.0" r="2.4" fill="#545c5c"/>
<circle cx="44.3" cy="16.3" r="2.1" fill="#586060"/>
<circle cx="48.6" cy="14.7" r="2.9" fill="#646c6c"/>
<circle cx="55.3" cy="14.9" r="2.3" fill="#646c6c"/>
<circle cx="60.6" cy="16.3" r="2.4" fill="#5e6666"/>
<circle cx="64.4" cy="15.9" r="2.9" fill="#5e6666"/>
<circle cx="-0.5" cy="20.4" r="2.3" fill="#646c6c"/>
<circle cx="5.0" cy="20.4" r="2.9" fill="#5e6666"/>
<circle cx="11.2" cy="19.2" r="2.2" fill="#545c5c"/>
<circle cx="15.9" cy="19.3" r="2.4" fill="#586060"/>
<circle cx="20.4" cy="20.1" r="2.8" fill="#646c6c"/>
<circle cx="26.5" cy="20.1" r="2.9" fill="#586060"/>
<circle cx="31.5" cy="19.1" r="2.9" fill="#5e6666"/>
<circle cx="35.8" cy="19.7" r="2.6" fill="#545c5c"/>
<circle cx="41.6" cy="20.7" r="2.6" fill="#545c5c"/>
<circle cx="47.0" cy="20.6" r="2.5" fill="#5e6666"/>
<circle cx="51.4" cy="20.0" r="2.7" fill="#646c6c"/>
<circle cx="57.7" cy="19.8" r="2.1" fill="#5e6666"/>
<circle cx="61.6" cy="19.8" r="2.8" fill="#586060"/>
<circle cx="66.7" cy="19.9" r="3.0" fill="#586060"/>
<circle cx="-2.7" cy="24.0" r="2.1" fill="#545c5c"/>
<circle cx="3.4" cy="24.2" r="2.9" fill="#545c5c"/>
<circle cx="8.1" cy="24.1" r="2.8" fill="#5e6666"/>
<circle cx="12.7" cy="25.2" r="2.6" fill="#646c6c"/>
<circle cx="18.1" cy="24.7" r="2.3" fill="#646c6c"/>
<circle cx="22.9" cy="25.3" r="2.9" fill="#5e6666"/>
<circle cx="28.5" cy="24.7" r="2.9" fill="#5e6666"/>
<circle cx="34.6" cy="24.2" r="2.6" fill="#646c6c"/>
<circle cx="38.4" cy="25.3" r="2.3" fill="#586060"/>
<circle cx="44.4" cy="23.6" r="2.5" fill="#586060"/>
<circle cx="49.4" cy="25.3" r="2.5" fill="#646c6c"/>
<circle cx="54.9" cy="24.8" r="2.4" fill="#646c6c"/>
<circle cx="59.9" cy="24.8" r="2.5" fill="#586060"/>
<circle cx="64.7" cy="24.8" r="2.1" fill="#5e6666"/>
<circle cx="0.8" cy="28.7" r="2.5" fill="#586060"/>
<circle cx="4.8" cy="28.3" r="2.6" fill="#646c6c"/>
<circle cx="10.9" cy="28.6" r="2.9" fill="#586060"/>
<circle cx="15.5" cy="29.2" r="2.9" fill="#646c6c"/>
<circle cx="21.4" cy="28.4" r="2.4" fill="#545c5c"/>
<circle cx="26.8" cy="29.3" r="2.7" fill="#646c6c"/>
<circle cx="31.7" cy="29.9" r="2.9" fill="#5e6666"/>
<circle cx="36.9" cy="29.4" r="2.8" fill="#5e6666"/>
<circle cx="40.9" cy="29.0" r="2.7" fill="#586060"/>
<circle cx="47.6" cy="28.2" r="2.5" fill="#545c5c"/>
<circle cx="51.9" cy="29.3" r="2.7" fill="#646c6c"/>
<circle cx="58.0" cy="29.3" r="2.1" fill="#5e6666"/>
<circle cx="61.7" cy="29.9" r="2.9" fill="#545c5c"/>
<circle cx="67.2" cy="29.3" r="2.8" fill="#545c5c"/>
<circle cx="-1.7" cy="33.8" r="2.2" fill="#586060"/>
<circle cx="2.5" cy="33.4" r="2.4" fill="#586060"/>
<circle cx="7.9" cy="34.4" r="2.7" fill="#646c6c"/>
<circle cx="12.5" cy="34.0" r="2.1" fill="#5e6666"/>
<circle cx="18.2" cy="34.5" r="2.3" fill="#586060"/>
<circle cx="23.8" cy="33.6" r="2.4" fill="#545c5c"/>
<circle cx="28.9" cy="32.7" r="2.3" fill="#586060"/>
<circle cx="33.5" cy="34.4" r="2.9" fill="#545c5c"/>
<circle cx="39.1" cy="33.7" r="2.4" fill="#646c6c"/>
<circle cx="44.7" cy="33.3" r="2.3" fill="#646c6c"/>
<circle cx="48.6" cy="32.9" r="2.7" fill="#586060"/>
<circle cx="54.6" cy="34.0" r="2.3" fill="#5e6666"/>
<circle cx="60.6" cy="33.3" r="2.5" fill="#646c6c"/>
<circle cx="64.2" cy="32.8" r="2.4" fill="#646c6c"/>
<circle cx="-0.5" cy="38.9" r="2.8" fill="#586060"/>
<circle cx="4.5" cy="38.0" r="2.7" fill="#545c5c"/>
<circle cx="10.6" cy="38.0" r="2.1" fill="#586060"/>
<circle cx="15.0" cy="38.6" r="2.1" fill="#5e6666"/>
<circle cx="20.2" cy="39.0" r="2.8" fill="#545c5c"/>
<circle cx="25.6" cy="38.7" r="2.1" fill="#586060"/>
<circle cx="31.1" cy="38.0" r="2.2" fill="#646c6c"/>
<circle cx="35.8" cy="37.7" r="2.9" fill="#586060"/>
<circle cx="40.7" cy="38.1" r="2.6" fill="#5e6666"/>
<circle cx="47.7" cy="38.1" r="2.8" fill="#5e6666"/>
<circle cx="51.8" cy="38.4" r="2.7" fill="#646c6c"/>
<circle cx="56.4" cy="38.5" r="2.2" fill="#586060"/>
<circle cx="62.5" cy="37.9" r="2.4" fill="#646c6c"/>
<circle cx="68.0" cy="38.3" r="2.3" fill="#5e6666"/>
<circle cx="-2.0" cy="42.6" r="2.6" fill="#545c5c"/>
<circle cx="3.4" cy="42.9" r="2.4" fill="#586060"/>
<circle cx="7.3" cy="43.3" r="2.5" fill="#646c6c"/>
<circle cx="13.4" cy="43.3" r="2.3" fill="#586060"/>
<circle cx="18.7" cy="43.0" r="2.5" fill="#545c5c"/>
<circle cx="23.7" cy="42.1" r="2.5" fill="#5e6666"/>
<circle cx="28.8" cy="42.5" r="2.4" fill="#586060"/>
<circle cx="33.7" cy="42.6" r="2.9" fill="#646c6c"/>
<circle cx="39.3" cy="43.0" r="2.5" fill="#646c6c"/>
<circle cx="44.9" cy="41.9" r="2.3" fill="#5e6666"/>
<circle cx="49.8" cy="43.4" r="2.7" fill="#646c6c"/>
<circle cx="54.5" cy="42.9" r="2.3" fill="#586060"/>
<circle cx="59.9" cy="43.5" r="2.4" fill="#646c6c"/>
<circle cx="64.1" cy="42.5" r="2.8" fill="#545c5c"/>
<circle cx="-0.7" cy="46.9" r="2.9" fill="#545c5c"/>
<circle cx="6.1" cy="46.6" r="2.9" fill="#586060"/>
<circle cx="10.4" cy="46.4" r="2.3" fill="#646c6c"/>
<circle cx="14.8" cy="48.0" r="2.7" fill="#545c5c"/>
<circle cx="21.2" cy="47.3" r="2.3" fill="#646c6c"/>
<circle cx="26.1" cy="48.0" r="2.2" fill="#545c5c"/>
<circle cx="31.8" cy="47.2" r="2.1" fill="#545c5c"/>
<circle cx="36.5" cy="47.2" r="2.2" fill="#646c6c"/>
<circle cx="41.9" cy="46.8" r="2.8" fill="#646c6c"/>
<circle cx="47.1" cy="46.4" r="2.1" fill="#646c6c"/>
<circle cx="52.1" cy="48.0" r="2.6" fill="#545c5c"/>
<circle cx="56.9" cy="47.6" r="2.1" fill="#545c5c"/>
<circle cx="62.5" cy="46.6" r="2.4" fill="#5e6666"/>
<circle cx="67.4" cy="46.8" r="2.4" fill="#586060"/>
<circle cx="-2.5" cy="51.5" r="2.4" fill="#545c5c"/>
<circle cx="2.8" cy="52.3" r="2.6" fill="#5e6666"/>
<circle cx="7.2" cy="51.0" r="2.2" fill="#586060"/>
<circle cx="13.4" cy="51.3" r="2.5" fill="#586060"/>
<circle cx="18.5" cy="51.3" r="2.4" fill="#545c5c"/>
<circle cx="23.8" cy="51.4" r="2.9" fill="#5e6666"/>
<circle cx="29.2" cy="52.1" r="2.1" fill="#545c5c"/>
<circle cx="34.0" cy="52.6" r="2.3" fill="#5e6666"/>
<circle cx="39.2" cy="51.4" r="2.7" fill="#545c5c"/>
<circle cx="44.7" cy="52.4" r="2.2" fill="#5e6666"/>
<circle cx="50.1" cy="52.0" r="2.2" fill="#545c5c"/>
<circle cx="54.8" cy="51.4" r="2.8" fill="#545c5c"/>
<circle cx="60.5" cy="51.2" r="2.4" fill="#5e6666"/>
<circle cx="65.0" cy="52.0" r="2.9" fill="#586060"/>
<circle cx="0.5" cy="56.5" r="2.9" fill="#586060"/>
<circle cx="4.5" cy="55.4" r="2.4" fill="#646c6c"/>
<circle cx="10.6" cy="56.9" r="2.1" fill="#586060"/>
<circle cx="15.5" cy="56.9" r="2.6" fill="#545c5c"/>
<circle cx="20.0" cy="55.6" r="2.7" fill="#586060"/>
<circle cx="25.9" cy="55.8" r="2.6" fill="#545c5c"/>
<circle cx="30.7" cy="55.3" r="2.9" fill="#545c5c"/>
<circle cx="36.0" cy="55.3" r="2.4" fill="#5e6666"/>
<circle cx="41.2" cy="55.5" r="2.8" fill="#646c6c"/>
<circle cx="47.1" cy="55.7" r="2.6" fill="#646c6c"/>
<circle cx="52.3" cy="56.2" r="2.5" fill="#646c6c"/>
<circle cx="57.0" cy="55.8" r="2.5" fill="#5e6666"/>
<circle cx="62.0" cy="55.8" r="2.4" fill="#586060"/>
<circle cx="67.8" cy="55.8" r="2.3" fill="#646c6c"/>
<circle cx="-2.3" cy="61.2" r="2.5" fill="#646c6c"/>
<circle cx="2.6" cy="60.2" r="2.6" fill="#5e6666"/>
<circle cx="7.0" cy="60.3" r="3.0" fill="#646c6c"/>
<circle cx="13.0" cy="60.4" r="2.9" fill="#545c5c"/>
<circle cx="19.1" cy="60.0" r="3.0" fill="#586060"/>
<circle cx="24.1" cy="61.3" r="2.7" fill="#586060"/>
<circle cx="28.5" cy="61.6" r="2.9" fill="#586060"/>
<circle cx="33.9" cy="60.1" r="2.5" fill="#5e6666"/>
<circle cx="39.3" cy="60.2" r="2.5" fill="#545c5c"/>
<circle cx="45.1" cy="61.5" r="2.6" fill="#586060"/>
<circle cx="48.9" cy="61.0" r="2.3" fill="#586060"/>
<circle cx="54.1" cy="60.4" r="2.2" fill="#586060"/>
<circle cx="60.7" cy="60.2" r="2.3" fill="#5e6666"/>
<circle cx="65.5" cy="59.9" r="2.1" fill="#5e6666"/>
<circle cx="0.5" cy="65.5" r="2.8" fill="#646c6c"/>
<circle cx="5.5" cy="66.1" r="2.8" fill="#5e6666"/>
<circle cx="10.1" cy="64.6" r="2.1" fill="#586060"/>
<circle cx="16.3" cy="64.9" r="2.9" fill="#545c5c"/>
<circle cx="20.6" cy="65.5" r="2.5" fill="#586060"/>
<circle cx="25.5" cy="64.9" r="2.9" fill="#586060"/>
<circle cx="30.4" cy="64.7" r="2.3" fill="#545c5c"/>
<circle cx="37.2" cy="65.6" r="2.2" fill="#646c6c"/>
<circle cx="42.4" cy="64.9" r="2.1" fill="#646c6c"/>
<circle cx="46.8" cy="65.1" r="2.6" fill="#586060"/>
<circle cx="51.3" cy="65.0" r="2.6" fill="#545c5c"/>
<circle cx="57.0" cy="66.1" r="2.7" fill="#5e6666"/>
<circle cx="61.9" cy="64.4" r="2.7" fill="#5e6666"/>
<circle cx="67.5" cy="65.2" r="2.1" fill="#586060"/>
<circle cx="-3.3" cy="69.6" r="2.3" fill="#646c6c"/>
<circle cx="2.8" cy="70.2" r="2.8" fill="#586060"/>
<circle cx="7.5" cy="69.0" r="2.3" fill="#586060"/>
<circle cx="13.7" cy="69.3" r="2.7" fill="#5e6666"/>
<circle cx="17.5" cy="69.0" r="2.9" fill="#586060"/>
<circle cx="23.6" cy="69.3" r="2.2" fill="#646c6c"/>
<circle cx="27.9" cy="69.2" r="2.7" fill="#5e6666"/>
<circle cx="33.0" cy="70.4" r="2.8" fill="#646c6c"/>
<circle cx="38.4" cy="69.9" r="2.5" fill="#646c6c"/>
<circle cx="43.3" cy="69.4" r="3.0" fill="#586060"/>
<circle cx="48.8" cy="69.5" r="2.1" fill="#646c6c"/>
<circle cx="54.2" cy="69.4" r="2.7" fill="#5e6666"/>
<circle cx="59.6" cy="70.2" r="2.4" fill="#586060"/>
<circle cx="65.7" cy="69.0" r="2.3" fill="#545c5c"/>
</svg>
<rect x="203.0" y="333.0" width="63.4" height="67.0" fill="#4a5050" />
<svg x="203.0" y="333.0" width="63.4" height="67.0" overflow="hidden">
<circle cx="-2.6" cy="-0.8" r="1.7" fill="#626a6a"/>
<circle cx="2.3" cy="-1.1" r="1.8" fill="#566060"/>
<circle cx="5.1" cy="-0.8" r="2.1" fill="#566060"/>
<circle cx="10.2" cy="-1.6" r="2.0" fill="#566060"/>
<circle cx="15.2" cy="-1.2" r="2.1" fill="#626a6a"/>
<circle cx="17.4" cy="-2.0" r="1.7" fill="#5a6262"/>
<circle cx="21.8" cy="-1.8" r="1.7" fill="#6a7272"/>
<circle cx="25.3" cy="-2.1" r="2.2" fill="#5a6262"/>
<circle cx="29.4" cy="-2.3" r="2.1" fill="#626a6a"/>
<circle cx="34.1" cy="-2.6" r="1.9" fill="#566060"/>
<circle cx="38.6" cy="-2.9" r="2.1" fill="#566060"/>
<circle cx="42.3" cy="-2.1" r="2.0" fill="#5a6262"/>
<circle cx="45.0" cy="-1.5" r="1.8" fill="#6a7272"/>
<circle cx="49.2" cy="-2.1" r="1.9" fill="#6a7272"/>
<circle cx="53.4" cy="-1.9" r="1.8" fill="#6a7272"/>
<circle cx="58.1" cy="-1.7" r="2.2" fill="#626a6a"/>
<circle cx="61.1" cy="-1.8" r="2.1" fill="#6a7272"/>
<circle cx="65.8" cy="-2.8" r="2.1" fill="#566060"/>
<circle cx="1.1" cy="0.4" r="1.7" fill="#5a6262"/>
<circle cx="3.1" cy="1.9" r="1.8" fill="#566060"/>
<circle cx="8.1" cy="2.3" r="1.9" fill="#5a6262"/>
<circle cx="10.9" cy="1.8" r="1.9" fill="#5a6262"/>
<circle cx="14.9" cy="0.7" r="1.6" fill="#566060"/>
<circle cx="19.1" cy="1.7" r="2.2" fill="#566060"/>
<circle cx="25.0" cy="1.2" r="2.1" fill="#566060"/>
<circle cx="28.9" cy="1.6" r="2.0" fill="#5a6262"/>
<circle cx="32.4" cy="2.6" r="1.8" fill="#566060"/>
<circle cx="36.3" cy="1.4" r="1.6" fill="#6a7272"/>
<circle cx="40.8" cy="1.4" r="2.2" fill="#626a6a"/>
<circle cx="44.0" cy="0.4" r="1.7" fill="#566060"/>
<circle cx="48.4" cy="2.7" r="2.2" fill="#566060"/>
<circle cx="51.0" cy="1.7" r="1.9" fill="#566060"/>
<circle cx="55.7" cy="2.5" r="1.9" fill="#6a7272"/>
<circle cx="60.4" cy="2.3" r="1.7" fill="#5a6262"/>
<circle cx="62.9" cy="1.2" r="1.7" fill="#626a6a"/>
<circle cx="-2.1" cy="5.1" r="1.7" fill="#626a6a"/>
<circle cx="2.6" cy="4.8" r="1.8" fill="#566060"/>
<circle cx="5.7" cy="5.9" r="2.1" fill="#5a6262"/>
<circle cx="10.9" cy="4.9" r="1.7" fill="#626a6a"/>
<circle cx="13.1" cy="5.9" r="2.1" fill="#626a6a"/>
<circle cx="17.3" cy="4.8" r="2.0" fill="#5a6262"/>
<circle cx="21.5" cy="3.9" r="2.1" fill="#6a7272"/>
<circle cx="26.7" cy="4.0" r="1.6" fill="#566060"/>
<circle cx="29.9" cy="5.9" r="2.2" fill="#626a6a"/>
<circle cx="34.8" cy="5.9" r="1.7" fill="#6a7272"/>
<circle cx="37.5" cy="6.0" r="1.7" fill="#5a6262"/>
<circle cx="41.8" cy="4.1" r="1.9" fill="#626a6a"/>
<circle cx="45.6" cy="5.5" r="2.2" fill="#5a6262"/>
<circle cx="50.8" cy="4.3" r="2.2" fill="#566060"/>
<circle cx="53.4" cy="5.1" r="1.8" fill="#626a6a"/>
<circle cx="58.2" cy="4.4" r="1.8" fill="#6a7272"/>
<circle cx="62.9" cy="6.0" r="1.8" fill="#5a6262"/>
<circle cx="65.1" cy="4.0" r="1.7" fill="#6a7272"/>
<circle cx="-0.0" cy="8.8" r="1.9" fill="#566060"/>
<circle cx="3.0" cy="7.8" r="2.0" fill="#626a6a"/>
<circle cx="7.1" cy="8.9" r="2.0" fill="#6a7272"/>
<circle cx="11.8" cy="8.8" r="1.9" fill="#6a7272"/>
<circle cx="16.7" cy="7.5" r="1.8" fill="#6a7272"/>
<circle cx="19.6" cy="9.3" r="2.2" fill="#626a6a"/>
<circle cx="24.8" cy="8.2" r="2.0" fill="#566060"/>
<circle cx="27.7" cy="8.6" r="2.3" fill="#626a6a"/>
<circle cx="33.0" cy="8.0" r="1.9" fill="#5a6262"/>
<circle cx="36.5" cy="9.6" r="2.0" fill="#5a6262"/>
<circle cx="40.1" cy="9.1" r="1.9" fill="#5a6262"/>
<circle cx="44.9" cy="8.1" r="1.9" fill="#626a6a"/>
<circle cx="48.7" cy="9.5" r="2.2" fill="#566060"/>
<circle cx="52.5" cy="7.3" r="2.0" fill="#566060"/>
<circle cx="56.0" cy="7.3" r="1.9" fill="#5a6262"/>
<circle cx="60.7" cy="8.7" r="1.6" fill="#6a7272"/>
<circle cx="63.9" cy="8.4" r="1.8" fill="#6a7272"/>
<circle cx="-2.1" cy="11.3" r="1.7" fill="#5a6262"/>
<circle cx="1.1" cy="12.7" r="1.7" fill="#5a6262"/>
<circle cx="6.0" cy="11.1" r="2.0" fill="#566060"/>
<circle cx="11.2" cy="12.1" r="2.2" fill="#5a6262"/>
<circle cx="14.6" cy="12.3" r="1.9" fill="#566060"/>
<circle cx="18.4" cy="11.1" r="2.0" fill="#6a7272"/>
<circle cx="22.7" cy="12.5" r="2.2" fill="#6a7272"/>
<circle cx="25.0" cy="11.1" r="1.6" fill="#626a6a"/>
<circle cx="31.1" cy="12.6" r="1.7" fill="#626a6a"/>
<circle cx="33.9" cy="12.1" r="1.8" fill="#566060"/>
<circle cx="37.0" cy="11.5" r="1.9" fill="#6a7272"/>
<circle cx="42.1" cy="10.9" r="2.2" fill="#5a6262"/>
<circle cx="45.6" cy="12.3" r="2.1" fill="#626a6a"/>
<circle cx="49.8" cy="12.0" r="1.7" fill="#6a7272"/>
<circle cx="52.9" cy="10.9" r="1.9" fill="#626a6a"/>
<circle cx="58.2" cy="12.1" r="2.0" fill="#6a7272"/>
<circle cx="60.8" cy="13.1" r="2.2" fill="#6a7272"/>
<circle cx="66.3" cy="11.9" r="2.1" fill="#6a7272"/>
<circle cx="-0.8" cy="16.0" r="2.2" fill="#626a6a"/>
<circle cx="4.4" cy="15.1" r="1.9" fill="#5a6262"/>
<circle cx="9.0" cy="15.3" r="1.7" fill="#566060"/>
<circle cx="11.0" cy="14.9" r="2.2" fill="#566060"/>
<circle cx="15.8" cy="15.3" r="1.9" fill="#566060"/>
<circle cx="20.7" cy="15.4" r="2.3" fill="#566060"/>
<circle cx="25.1" cy="15.9" r="1.7" fill="#6a7272"/>
<circle cx="28.2" cy="16.4" r="2.0" fill="#6a7272"/>
<circle cx="32.4" cy="14.7" r="1.8" fill="#5a6262"/>
<circle cx="35.6" cy="15.1" r="1.8" fill="#626a6a"/>
<circle cx="38.9" cy="15.8" r="2.0" fill="#566060"/>
<circle cx="43.2" cy="14.5" r="1.6" fill="#626a6a"/>
<circle cx="47.2" cy="16.2" r="2.3" fill="#626a6a"/>
<circle cx="51.3" cy="15.0" r="2.1" fill="#566060"/>
<circle cx="54.9" cy="15.4" r="1.7" fill="#5a6262"/>
<circle cx="60.7" cy="14.8" r="2.2" fill="#566060"/>
<circle cx="64.2" cy="16.5" r="2.3" fill="#626a6a"/>
<circle cx="-1.2" cy="18.5" r="2.3" fill="#626a6a"/>
<circle cx="1.1" cy="18.4" r="1.9" fill="#566060"/>
<circle cx="5.3" cy="19.8" r="2.2" fill="#5a6262"/>
<circle cx="8.9" cy="18.4" r="1.8" fill="#6a7272"/>
<circle cx="13.8" cy="17.9" r="2.2" fill="#6a7272"/>
<circle cx="17.0" cy="18.3" r="2.1" fill="#566060"/>
<circle cx="21.9" cy="18.9" r="2.1" fill="#566060"/>
<circle cx="25.8" cy="19.0" r="1.9" fill="#566060"/>
<circle cx="29.7" cy="18.8" r="1.6" fill="#6a7272"/>
<circle cx="34.7" cy="17.9" r="2.0" fill="#5a6262"/>
<circle cx="37.5" cy="18.4" r="1.7" fill="#5a6262"/>
<circle cx="42.7" cy="19.1" r="2.1" fill="#5a6262"/>
<circle cx="45.7" cy="18.7" r="2.0" fill="#5a6262"/>
<circle cx="49.8" cy="18.6" r="2.2" fill="#6a7272"/>
<circle cx="53.0" cy="18.6" r="1.8" fill="#6a7272"/>
<circle cx="58.7" cy="19.7" r="2.2" fill="#626a6a"/>
<circle cx="62.4" cy="18.8" r="2.0" fill="#5a6262"/>
<circle cx="66.8" cy="19.7" r="2.0" fill="#5a6262"/>
<circle cx="0.2" cy="21.5" r="1.6" fill="#626a6a"/>
<circle cx="5.0" cy="21.8" r="2.2" fill="#6a7272"/>
<circle cx="7.1" cy="22.7" r="2.2" fill="#6a7272"/>
<circle cx="10.8" cy="21.7" r="2.1" fill="#566060"/>
<circle cx="17.1" cy="22.1" r="1.9" fill="#5a6262"/>
<circle cx="20.2" cy="22.8" r="1.7" fill="#6a7272"/>
<circle cx="24.0" cy="22.0" r="1.7" fill="#6a7272"/>
<circle cx="29.0" cy="21.5" r="1.9" fill="#566060"/>
<circle cx="32.1" cy="22.4" r="1.7" fill="#6a7272"/>
<circle cx="35.8" cy="22.3" r="1.9" fill="#566060"/>
<circle cx="41.1" cy="23.4" r="2.2" fill="#626a6a"/>
<circle cx="44.5" cy="21.6" r="2.2" fill="#6a7272"/>
<circle cx="48.3" cy="22.0" r="2.3" fill="#566060"/>
<circle cx="52.4" cy="21.5" r="2.3" fill="#5a6262"/>
<circle cx="56.4" cy="21.4" r="1.7" fill="#5a6262"/>
<circle cx="61.0" cy="21.8" r="1.7" fill="#566060"/>
<circle cx="65.1" cy="22.9" r="1.9" fill="#566060"/>
<circle cx="-1.4" cy="25.9" r="1.8" fill="#566060"/>
<circle cx="2.6" cy="25.0" r="1.8" fill="#626a6a"/>
<circle cx="5.2" cy="26.4" r="1.7" fill="#5a6262"/>
<circle cx="11.0" cy="26.7" r="2.2" fill="#566060"/>
<circle cx="14.2" cy="24.8" r="2.1" fill="#5a6262"/>
<circle cx="16.9" cy="24.8" r="2.1" fill="#6a7272"/>
<circle cx="20.9" cy="26.0" r="2.1" fill="#626a6a"/>
<circle cx="26.4" cy="26.3" r="1.9" fill="#5a6262"/>
<circle cx="30.6" cy="25.5" r="2.1" fill="#6a7272"/>
<circle cx="33.9" cy="25.1" r="1.9" fill="#5a6262"/>
<circle cx="37.2" cy="27.0" r="2.2" fill="#626a6a"/>
<circle cx="41.1" cy="27.0" r="2.2" fill="#626a6a"/>
<circle cx="46.4" cy="24.7" r="2.2" fill="#626a6a"/>
<circle cx="50.6" cy="26.1" r="1.8" fill="#566060"/>
<circle cx="54.3" cy="25.5" r="2.3" fill="#5a6262"/>
<circle cx="58.4" cy="26.1" r="2.2" fill="#6a7272"/>
<circle cx="61.9" cy="24.7" r="2.0" fill="#626a6a"/>
<circle cx="66.9" cy="26.1" r="1.9" fill="#5a6262"/>
<circle cx="0.3" cy="28.9" r="1.9" fill="#6a7272"/>
<circle cx="4.2" cy="30.2" r="2.1" fill="#626a6a"/>
<circle cx="7.9" cy="30.3" r="1.9" fill="#5a6262"/>
<circle cx="12.1" cy="30.3" r="1.6" fill="#6a7272"/>
<circle cx="15.6" cy="28.3" r="2.2" fill="#566060"/>
<circle cx="20.6" cy="29.9" r="1.7" fill="#6a7272"/>
<circle cx="23.7" cy="28.2" r="2.0" fill="#626a6a"/>
<circle cx="28.2" cy="28.8" r="1.8" fill="#566060"/>
<circle cx="31.8" cy="29.8" r="1.8" fill="#566060"/>
<circle cx="36.5" cy="29.0" r="1.9" fill="#566060"/>
<circle cx="41.1" cy="30.0" r="2.2" fill="#626a6a"/>
<circle cx="44.9" cy="29.9" r="1.6" fill="#626a6a"/>
<circle cx="47.4" cy="28.4" r="2.2" fill="#626a6a"/>
<circle cx="52.8" cy="28.4" r="1.9" fill="#6a7272"/>
<circle cx="55.1" cy="30.4" r="2.0" fill="#566060"/>
<circle cx="58.9" cy="29.2" r="2.2" fill="#5a6262"/>
<circle cx="63.4" cy="28.6" r="1.8" fill="#6a7272"/>
<circle cx="-2.4" cy="33.2" r="2.2" fill="#626a6a"/>
<circle cx="2.9" cy="33.8" r="1.8" fill="#566060"/>
<circle cx="5.0" cy="33.0" r="1.7" fill="#5a6262"/>
<circle cx="10.0" cy="33.3" r="1.8" fill="#5a6262"/>
<circle cx="14.8" cy="31.9" r="2.2" fill="#6a7272"/>
<circle cx="18.9" cy="32.8" r="1.9" fill="#566060"/>
<circle cx="20.9" cy="32.9" r="2.2" fill="#5a6262"/>
<circle cx="25.6" cy="32.0" r="1.9" fill="#626a6a"/>
<circle cx="29.8" cy="32.9" r="1.8" fill="#566060"/>
<circle cx="34.5" cy="32.3" r="1.7" fill="#6a7272"/>
<circle cx="37.7" cy="32.1" r="1.6" fill="#5a6262"/>
<circle cx="42.6" cy="34.0" r="2.0" fill="#5a6262"/>
<circle cx="45.9" cy="33.8" r="2.1" fill="#566060"/>
<circle cx="50.3" cy="33.9" r="1.8" fill="#626a6a"/>
<circle cx="53.0" cy="31.6" r="2.2" fill="#626a6a"/>
<circle cx="58.0" cy="32.6" r="1.9" fill="#566060"/>
<circle cx="61.5" cy="32.1" r="1.9" fill="#6a7272"/>
<circle cx="64.9" cy="33.1" r="2.2" fill="#5a6262"/>
<circle cx="-0.6" cy="35.4" r="1.8" fill="#626a6a"/>
<circle cx="3.4" cy="35.5" r="2.3" fill="#5a6262"/>
<circle cx="9.0" cy="36.4" r="1.6" fill="#566060"/>
<circle cx="12.8" cy="35.6" r="1.7" fill="#5a6262"/>
<circle cx="14.8" cy="37.3" r="2.2" fill="#566060"/>
<circle cx="18.9" cy="37.4" r="1.8" fill="#626a6a"/>
<circle cx="23.0" cy="36.4" r="1.6" fill="#6a7272"/>
<circle cx="27.0" cy="36.9" r="1.9" fill="#5a6262"/>
<circle cx="31.4" cy="36.0" r="2.2" fill="#5a6262"/>
<circle cx="36.1" cy="36.0" r="1.8" fill="#6a7272"/>
<circle cx="41.1" cy="36.7" r="1.8" fill="#626a6a"/>
<circle cx="43.1" cy="37.1" r="1.8" fill="#5a6262"/>
<circle cx="48.0" cy="35.9" r="2.2" fill="#5a6262"/>
<circle cx="50.9" cy="36.6" r="1.9" fill="#6a7272"/>
<circle cx="57.2" cy="35.6" r="1.6" fill="#6a7272"/>
<circle cx="61.1" cy="35.6" r="1.6" fill="#626a6a"/>
<circle cx="63.9" cy="35.9" r="2.2" fill="#6a7272"/>
<circle cx="-2.2" cy="40.9" r="1.6" fill="#566060"/>
<circle cx="1.1" cy="40.0" r="2.1" fill="#626a6a"/>
<circle cx="6.2" cy="39.6" r="1.9" fill="#5a6262"/>
<circle cx="10.3" cy="38.9" r="2.2" fill="#6a7272"/>
<circle cx="14.9" cy="39.0" r="1.9" fill="#626a6a"/>
<circle cx="17.6" cy="39.0" r="1.9" fill="#6a7272"/>
<circle cx="21.9" cy="40.9" r="1.8" fill="#6a7272"/>
<circle cx="26.6" cy="40.9" r="1.8" fill="#626a6a"/>
<circle cx="30.9" cy="40.8" r="1.8" fill="#5a6262"/>
<circle cx="35.2" cy="40.7" r="2.0" fill="#626a6a"/>
<circle cx="38.1" cy="39.8" r="1.9" fill="#5a6262"/>
<circle cx="42.6" cy="39.7" r="1.7" fill="#5a6262"/>
<circle cx="46.8" cy="39.7" r="1.9" fill="#5a6262"/>
<circle cx="51.1" cy="38.9" r="2.0" fill="#626a6a"/>
<circle cx="54.4" cy="40.3" r="1.7" fill="#5a6262"/>
<circle cx="58.4" cy="38.8" r="1.7" fill="#5a6262"/>
<circle cx="62.3" cy="40.6" r="2.0" fill="#626a6a"/>
<circle cx="66.8" cy="40.8" r="2.0" fill="#5a6262"/>
<circle cx="-1.1" cy="42.9" r="1.7" fill="#626a6a"/>
<circle cx="4.2" cy="42.7" r="1.6" fill="#566060"/>
<circle cx="7.8" cy="44.3" r="1.7" fill="#626a6a"/>
<circle cx="11.3" cy="43.0" r="1.7" fill="#6a7272"/>
<circle cx="15.2" cy="42.1" r="2.0" fill="#626a6a"/>
<circle cx="19.2" cy="42.5" r="2.3" fill="#566060"/>
<circle cx="24.5" cy="43.4" r="1.8" fill="#626a6a"/>
<circle cx="27.4" cy="44.1" r="2.1" fill="#566060"/>
<circle cx="31.2" cy="43.4" r="1.6" fill="#5a6262"/>
<circle cx="35.5" cy="42.3" r="1.6" fill="#626a6a"/>
<circle cx="39.4" cy="42.3" r="2.1" fill="#626a6a"/>
<circle cx="44.9" cy="43.2" r="1.7" fill="#5a6262"/>
<circle cx="48.8" cy="44.0" r="2.3" fill="#626a6a"/>
<circle cx="52.3" cy="43.4" r="1.8" fill="#6a7272"/>
<circle cx="56.2" cy="42.7" r="2.3" fill="#6a7272"/>
<circle cx="60.9" cy="43.8" r="1.8" fill="#5a6262"/>
<circle cx="63.4" cy="42.3" r="1.7" fill="#566060"/>
<circle cx="-2.0" cy="47.0" r="2.0" fill="#626a6a"/>
<circle cx="2.1" cy="46.8" r="1.8" fill="#5a6262"/>
<circle cx="6.2" cy="46.3" r="1.7" fill="#566060"/>
<circle cx="8.9" cy="46.5" r="2.2" fill="#6a7272"/>
<circle cx="13.2" cy="47.4" r="1.7" fill="#626a6a"/>
<circle cx="18.4" cy="47.5" r="1.6" fill="#5a6262"/>
<circle cx="21.2" cy="47.2" r="2.0" fill="#6a7272"/>
<circle cx="25.9" cy="45.9" r="2.0" fill="#626a6a"/>
<circle cx="29.5" cy="45.8" r="2.3" fill="#566060"/>
<circle cx="34.3" cy="46.8" r="2.1" fill="#566060"/>
<circle cx="37.5" cy="47.4" r="1.9" fill="#626a6a"/>
<circle cx="41.7" cy="45.9" r="2.0" fill="#566060"/>
<circle cx="46.3" cy="46.4" r="1.7" fill="#5a6262"/>
<circle cx="49.6" cy="47.3" r="2.2" fill="#626a6a"/>
<circle cx="54.7" cy="46.6" r="2.1" fill="#566060"/>
<circle cx="58.4" cy="46.9" r="1.7" fill="#5a6262"/>
<circle cx="61.8" cy="47.8" r="1.9" fill="#626a6a"/>
<circle cx="65.7" cy="47.0" r="1.8" fill="#5a6262"/>
<circle cx="0.9" cy="49.4" r="2.1" fill="#626a6a"/>
<circle cx="4.2" cy="49.5" r="1.8" fill="#6a7272"/>
<circle cx="6.8" cy="51.3" r="2.2" fill="#6a7272"/>
<circle cx="11.0" cy="50.9" r="2.3" fill="#566060"/>
<circle cx="15.7" cy="49.7" r="2.1" fill="#6a7272"/>
<circle cx="20.8" cy="49.0" r="2.0" fill="#6a7272"/>
<circle cx="23.6" cy="51.3" r="2.0" fill="#566060"/>
<circle cx="27.6" cy="50.2" r="2.0" fill="#626a6a"/>
<circle cx="32.0" cy="49.7" r="1.7" fill="#626a6a"/>
<circle cx="35.3" cy="49.6" r="1.8" fill="#566060"/>
<circle cx="39.9" cy="50.5" r="2.0" fill="#626a6a"/>
<circle cx="43.4" cy="51.3" r="2.0" fill="#566060"/>
<circle cx="47.7" cy="50.0" r="2.3" fill="#6a7272"/>
<circle cx="52.4" cy="49.6" r="2.2" fill="#566060"/>
<circle cx="55.7" cy="51.4" r="1.9" fill="#6a7272"/>
<circle cx="60.2" cy="50.3" r="2.0" fill="#626a6a"/>
<circle cx="65.1" cy="50.8" r="1.7" fill="#5a6262"/>
<circle cx="-3.2" cy="52.6" r="2.2" fill="#566060"/>
<circle cx="3.1" cy="54.4" r="2.2" fill="#5a6262"/>
<circle cx="6.8" cy="52.5" r="1.7" fill="#5a6262"/>
<circle cx="10.4" cy="53.4" r="1.9" fill="#626a6a"/>
<circle cx="14.2" cy="54.7" r="2.1" fill="#626a6a"/>
<circle cx="17.9" cy="53.3" r="2.1" fill="#6a7272"/>
<circle cx="23.0" cy="53.6" r="1.7" fill="#6a7272"/>
<circle cx="26.6" cy="53.6" r="1.8" fill="#5a6262"/>
<circle cx="29.0" cy="53.1" r="1.7" fill="#6a7272"/>
<circle cx="34.5" cy="53.0" r="2.1" fill="#566060"/>
<circle cx="38.6" cy="54.9" r="1.8" fill="#6a7272"/>
<circle cx="41.9" cy="53.7" r="1.7" fill="#5a6262"/>
<circle cx="46.6" cy="54.9" r="2.2" fill="#5a6262"/>
<circle cx="49.0" cy="53.8" r="1.7" fill="#566060"/>
<circle cx="54.7" cy="53.9" r="1.8" fill="#6a7272"/>
<circle cx="58.4" cy="54.9" r="2.0" fill="#6a7272"/>
<circle cx="62.5" cy="53.0" r="2.1" fill="#6a7272"/>
<circle cx="66.7" cy="53.1" r="2.1" fill="#5a6262"/>
<circle cx="0.9" cy="56.2" r="1.8" fill="#566060"/>
<circle cx="3.5" cy="58.2" r="1.9" fill="#6a7272"/>
<circle cx="7.4" cy="56.0" r="2.3" fill="#566060"/>
<circle cx="11.1" cy="57.5" r="2.2" fill="#6a7272"/>
<circle cx="15.6" cy="57.2" r="1.8" fill="#6a7272"/>
<circle cx="19.3" cy="56.8" r="2.2" fill="#566060"/>
<circle cx="24.0" cy="56.3" r="2.1" fill="#566060"/>
<circle cx="28.9" cy="56.0" r="1.8" fill="#6a7272"/>
<circle cx="32.5" cy="57.3" r="2.0" fill="#566060"/>
<circle cx="36.1" cy="56.2" r="1.9" fill="#566060"/>
<circle cx="40.6" cy="57.0" r="2.0" fill="#5a6262"/>
<circle cx="44.6" cy="56.3" r="2.0" fill="#5a6262"/>
<circle cx="47.7" cy="58.0" r="2.1" fill="#626a6a"/>
<circle cx="53.0" cy="58.3" r="1.9" fill="#5a6262"/>
<circle cx="56.6" cy="57.1" r="1.7" fill="#6a7272"/>
<circle cx="59.0" cy="56.5" r="2.1" fill="#626a6a"/>
<circle cx="63.9" cy="56.0" r="2.0" fill="#626a6a"/>
<circle cx="-1.9" cy="59.9" r="1.6" fill="#626a6a"/>
<circle cx="1.5" cy="61.3" r="1.9" fill="#6a7272"/>
<circle cx="6.3" cy="60.8" r="2.1" fill="#6a7272"/>
<circle cx="9.9" cy="61.4" r="1.9" fill="#626a6a"/>
<circle cx="15.2" cy="61.4" r="2.1" fill="#626a6a"/>
<circle cx="18.2" cy="59.6" r="1.8" fill="#626a6a"/>
<circle cx="22.1" cy="60.9" r="1.9" fill="#626a6a"/>
<circle cx="25.2" cy="61.6" r="1.6" fill="#626a6a"/>
<circle cx="29.6" cy="60.2" r="1.9" fill="#6a7272"/>
<circle cx="34.2" cy="61.6" r="1.6" fill="#6a7272"/>
<circle cx="37.9" cy="60.5" r="2.1" fill="#566060"/>
<circle cx="41.3" cy="60.1" r="1.8" fill="#6a7272"/>
<circle cx="45.7" cy="59.5" r="1.8" fill="#6a7272"/>
<circle cx="50.1" cy="61.3" r="1.7" fill="#5a6262"/>
<circle cx="54.7" cy="60.1" r="1.6" fill="#626a6a"/>
<circle cx="57.0" cy="60.2" r="2.3" fill="#626a6a"/>
<circle cx="63.0" cy="61.6" r="2.1" fill="#626a6a"/>
<circle cx="66.0" cy="61.4" r="1.8" fill="#626a6a"/>
<circle cx="-0.1" cy="64.8" r="2.3" fill="#6a7272"/>
<circle cx="4.0" cy="63.8" r="1.6" fill="#626a6a"/>
<circle cx="8.1" cy="64.7" r="1.6" fill="#566060"/>
<circle cx="12.4" cy="63.0" r="2.3" fill="#6a7272"/>
<circle cx="15.4" cy="65.0" r="2.0" fill="#626a6a"/>
<circle cx="20.9" cy="64.2" r="1.8" fill="#6a7272"/>
<circle cx="23.4" cy="63.0" r="2.0" fill="#6a7272"/>
<circle cx="27.2" cy="63.5" r="1.7" fill="#5a6262"/>
<circle cx="32.3" cy="64.0" r="2.1" fill="#626a6a"/>
<circle cx="36.3" cy="64.5" r="1.8" fill="#566060"/>
<circle cx="40.6" cy="64.6" r="1.7" fill="#6a7272"/>
<circle cx="44.4" cy="63.3" r="2.1" fill="#626a6a"/>
<circle cx="47.5" cy="63.8" r="1.8" fill="#566060"/>
<circle cx="51.7" cy="63.3" r="1.9" fill="#5a6262"/>
<circle cx="55.5" cy="64.8" r="1.8" fill="#626a6a"/>
<circle cx="59.8" cy="65.3" r="2.2" fill="#6a7272"/>
<circle cx="64.8" cy="65.1" r="2.3" fill="#6a7272"/>
<circle cx="-2.8" cy="67.5" r="1.6" fill="#566060"/>
<circle cx="1.8" cy="67.3" r="2.3" fill="#6a7272"/>
<circle cx="5.0" cy="67.4" r="1.9" fill="#5a6262"/>
<circle cx="10.3" cy="66.8" r="2.1" fill="#626a6a"/>
<circle cx="14.4" cy="66.8" r="2.0" fill="#6a7272"/>
<circle cx="17.4" cy="67.7" r="2.2" fill="#566060"/>
<circle cx="21.6" cy="67.0" r="2.0" fill="#5a6262"/>
<circle cx="26.8" cy="67.9" r="2.1" fill="#5a6262"/>
<circle cx="30.3" cy="67.9" r="1.9" fill="#626a6a"/>
<circle cx="33.2" cy="67.1" r="1.7" fill="#5a6262"/>
<circle cx="38.4" cy="68.2" r="2.2" fill="#5a6262"/>
<circle cx="43.0" cy="67.6" r="2.0" fill="#6a7272"/>
<circle cx="45.2" cy="67.4" r="2.0" fill="#566060"/>
<circle cx="49.7" cy="66.5" r="2.2" fill="#6a7272"/>
<circle cx="53.3" cy="68.7" r="2.1" fill="#626a6a"/>
<circle cx="58.5" cy="67.5" r="2.2" fill="#566060"/>
<circle cx="63.2" cy="67.7" r="2.1" fill="#626a6a"/>
<circle cx="65.9" cy="66.8" r="2.0" fill="#6a7272"/>
</svg>
<rect x="267.8" y="332.9" width="63.2" height="67.4" fill="#3a4040" />
<svg x="267.8" y="332.9" width="63.2" height="67.4" overflow="hidden">
<circle cx="-2.3" cy="-3.4" r="3.1" fill="#4a5252"/>
<circle cx="4.2" cy="-3.8" r="3.6" fill="#4e5656"/>
<circle cx="11.2" cy="-3.5" r="3.5" fill="#525a5a"/>
<circle cx="17.4" cy="-3.8" r="4.1" fill="#525a5a"/>
<circle cx="25.6" cy="-2.6" r="3.9" fill="#4a5252"/>
<circle cx="31.6" cy="-3.1" r="3.3" fill="#525a5a"/>
<circle cx="39.2" cy="-3.2" r="3.3" fill="#485050"/>
<circle cx="45.4" cy="-3.1" r="4.3" fill="#525a5a"/>
<circle cx="52.3" cy="-3.4" r="3.2" fill="#4e5656"/>
<circle cx="60.1" cy="-3.2" r="4.5" fill="#485050"/>
<circle cx="67.1" cy="-2.9" r="4.5" fill="#525a5a"/>
<circle cx="-0.3" cy="3.2" r="3.8" fill="#525a5a"/>
<circle cx="6.2" cy="3.5" r="4.1" fill="#4e5656"/>
<circle cx="14.9" cy="2.6" r="4.1" fill="#4a5252"/>
<circle cx="21.9" cy="1.5" r="4.2" fill="#525a5a"/>
<circle cx="27.5" cy="1.5" r="4.4" fill="#485050"/>
<circle cx="34.3" cy="3.3" r="3.8" fill="#4a5252"/>
<circle cx="42.8" cy="3.1" r="3.7" fill="#4e5656"/>
<circle cx="48.9" cy="1.7" r="4.3" fill="#4e5656"/>
<circle cx="55.9" cy="1.8" r="3.5" fill="#4e5656"/>
<circle cx="63.9" cy="2.2" r="4.4" fill="#4a5252"/>
<circle cx="70.4" cy="2.0" r="4.4" fill="#525a5a"/>
<circle cx="-2.5" cy="7.8" r="3.3" fill="#525a5a"/>
<circle cx="4.6" cy="9.2" r="4.2" fill="#4a5252"/>
<circle cx="10.0" cy="7.7" r="4.1" fill="#4a5252"/>
<circle cx="16.6" cy="9.3" r="3.4" fill="#4e5656"/>
<circle cx="24.8" cy="7.7" r="3.6" fill="#4a5252"/>
<circle cx="31.8" cy="8.4" r="3.3" fill="#4e5656"/>
<circle cx="37.9" cy="9.3" r="4.3" fill="#525a5a"/>
<circle cx="46.0" cy="8.0" r="4.2" fill="#4a5252"/>
<circle cx="53.3" cy="9.7" r="4.5" fill="#4a5252"/>
<circle cx="60.1" cy="8.4" r="3.4" fill="#525a5a"/>
<circle cx="65.9" cy="7.7" r="4.3" fill="#485050"/>
<circle cx="1.0" cy="14.9" r="3.3" fill="#525a5a"/>
<circle cx="7.0" cy="15.9" r="3.8" fill="#525a5a"/>
<circle cx="13.2" cy="15.9" r="3.6" fill="#525a5a"/>
<circle cx="22.1" cy="14.2" r="4.4" fill="#485050"/>
<circle cx="28.7" cy="14.3" r="3.8" fill="#4e5656"/>
<circle cx="34.2" cy="15.2" r="3.7" fill="#4e5656"/>
<circle cx="42.8" cy="15.9" r="4.4" fill="#485050"/>
<circle cx="49.1" cy="14.3" r="3.2" fill="#4e5656"/>
<circle cx="56.7" cy="13.7" r="3.5" fill="#525a5a"/>
<circle cx="61.9" cy="14.7" r="4.3" fill="#4a5252"/>
<circle cx="69.7" cy="14.6" r="3.4" fill="#4a5252"/>
<circle cx="-3.5" cy="20.7" r="3.3" fill="#4e5656"/>
<circle cx="2.8" cy="20.0" r="3.8" fill="#485050"/>
<circle cx="10.5" cy="22.0" r="4.5" fill="#4e5656"/>
<circle cx="17.8" cy="20.3" r="4.2" fill="#4e5656"/>
<circle cx="25.6" cy="20.9" r="3.7" fill="#485050"/>
<circle cx="32.2" cy="20.5" r="3.5" fill="#4e5656"/>
<circle cx="37.6" cy="20.1" r="3.3" fill="#525a5a"/>
<circle cx="46.1" cy="20.9" r="4.3" fill="#525a5a"/>
<circle cx="52.1" cy="20.4" r="3.2" fill="#4a5252"/>
<circle cx="59.2" cy="20.4" r="3.9" fill="#525a5a"/>
<circle cx="67.7" cy="20.6" r="4.2" fill="#525a5a"/>
<circle cx="0.8" cy="27.9" r="3.5" fill="#4a5252"/>
<circle cx="7.4" cy="25.8" r="4.4" fill="#485050"/>
<circle cx="13.0" cy="27.2" r="4.0" fill="#4a5252"/>
<circle cx="20.9" cy="26.2" r="4.0" fill="#485050"/>
<circle cx="27.0" cy="27.6" r="3.8" fill="#4e5656"/>
<circle cx="35.3" cy="27.1" r="3.4" fill="#4e5656"/>
<circle cx="42.2" cy="26.7" r="3.7" fill="#4a5252"/>
<circle cx="48.8" cy="26.0" r="3.2" fill="#525a5a"/>
<circle cx="57.0" cy="26.3" r="4.0" fill="#4e5656"/>
<circle cx="62.8" cy="26.6" r="3.3" fill="#485050"/>
<circle cx="68.8" cy="26.9" r="4.2" fill="#4a5252"/>
<circle cx="-3.7" cy="32.7" r="4.4" fill="#525a5a"/>
<circle cx="2.8" cy="32.9" r="3.2" fill="#485050"/>
<circle cx="9.5" cy="32.2" r="3.8" fill="#4e5656"/>
<circle cx="17.5" cy="33.7" r="3.7" fill="#4a5252"/>
<circle cx="24.5" cy="33.3" r="3.3" fill="#525a5a"/>
<circle cx="31.0" cy="33.3" r="3.3" fill="#525a5a"/>
<circle cx="37.8" cy="32.8" r="3.2" fill="#525a5a"/>
<circle cx="44.7" cy="33.3" r="3.8" fill="#485050"/>
<circle cx="52.8" cy="32.2" r="3.4" fill="#4e5656"/>
<circle cx="58.9" cy="31.9" r="4.1" fill="#485050"/>
<circle cx="67.2" cy="33.9" r="3.4" fill="#485050"/>
<circle cx="0.4" cy="39.3" r="3.8" fill="#485050"/>
<circle cx="7.1" cy="38.5" r="3.5" fill="#4a5252"/>
<circle cx="13.4" cy="38.6" r="3.8" fill="#4e5656"/>
<circle cx="22.1" cy="38.3" r="4.5" fill="#4a5252"/>
<circle cx="27.8" cy="39.0" r="3.4" fill="#4a5252"/>
<circle cx="35.8" cy="39.1" r="3.1" fill="#525a5a"/>
<circle cx="41.6" cy="39.7" r="3.8" fill="#4e5656"/>
<circle cx="49.0" cy="39.9" r="3.6" fill="#485050"/>
<circle cx="56.7" cy="38.8" r="4.2" fill="#485050"/>
<circle cx="63.7" cy="39.9" r="3.7" fill="#485050"/>
<circle cx="70.5" cy="38.5" r="3.8" fill="#4a5252"/>
<circle cx="-3.3" cy="46.2" r="4.1" fill="#525a5a"/>
<circle cx="4.1" cy="45.7" r="4.4" fill="#525a5a"/>
<circle cx="10.6" cy="46.3" r="3.5" fill="#4e5656"/>
<circle cx="16.4" cy="45.4" r="3.4" fill="#485050"/>
<circle cx="24.8" cy="44.0" r="3.4" fill="#525a5a"/>
<circle cx="31.5" cy="45.8" r="3.6" fill="#525a5a"/>
<circle cx="39.6" cy="44.2" r="4.0" fill="#4e5656"/>
<circle cx="45.5" cy="45.2" r="4.5" fill="#525a5a"/>
<circle cx="51.9" cy="46.1" r="3.8" fill="#4a5252"/>
<circle cx="60.7" cy="44.1" r="3.7" fill="#4e5656"/>
<circle cx="66.7" cy="46.2" r="3.4" fill="#4e5656"/>
<circle cx="0.2" cy="52.3" r="4.4" fill="#4a5252"/>
<circle cx="6.0" cy="50.2" r="3.3" fill="#4a5252"/>
<circle cx="14.6" cy="50.8" r="3.6" fill="#4e5656"/>
<circle cx="21.7" cy="52.5" r="3.3" fill="#485050"/>
<circle cx="28.6" cy="52.4" r="4.1" fill="#485050"/>
<circle cx="34.5" cy="52.4" r="3.5" fill="#485050"/>
<circle cx="41.7" cy="50.3" r="3.7" fill="#525a5a"/>
<circle cx="49.8" cy="50.4" r="3.8" fill="#485050"/>
<circle cx="55.7" cy="51.4" r="4.2" fill="#4a5252"/>
<circle cx="63.6" cy="51.4" r="4.0" fill="#485050"/>
<circle cx="69.2" cy="52.3" r="3.8" fill="#4a5252"/>
<circle cx="-2.8" cy="58.5" r="4.3" fill="#4e5656"/>
<circle cx="4.7" cy="56.3" r="3.5" fill="#485050"/>
<circle cx="10.9" cy="56.3" r="3.4" fill="#485050"/>
<circle cx="18.0" cy="56.4" r="3.3" fill="#485050"/>
<circle cx="23.7" cy="58.4" r="3.9" fill="#4a5252"/>
<circle cx="30.3" cy="56.4" r="4.3" fill="#4e5656"/>
<circle cx="38.5" cy="57.9" r="3.4" fill="#4e5656"/>
<circle cx="46.6" cy="56.5" r="3.7" fill="#4a5252"/>
<circle cx="53.7" cy="58.5" r="3.2" fill="#485050"/>
<circle cx="59.9" cy="57.2" r="3.9" fill="#4a5252"/>
<circle cx="65.9" cy="57.4" r="3.2" fill="#4a5252"/>
<circle cx="1.2" cy="63.3" r="3.2" fill="#4a5252"/>
<circle cx="5.9" cy="64.4" r="3.9" fill="#525a5a"/>
<circle cx="14.4" cy="64.5" r="3.6" fill="#485050"/>
<circle cx="21.0" cy="62.9" r="4.2" fill="#4a5252"/>
<circle cx="27.3" cy="62.8" r="3.7" fill="#525a5a"/>
<circle cx="35.3" cy="62.8" r="3.4" fill="#485050"/>
<circle cx="42.8" cy="63.4" r="3.5" fill="#525a5a"/>
<circle cx="48.3" cy="62.6" r="3.2" fill="#4a5252"/>
<circle cx="55.3" cy="63.7" r="3.2" fill="#4e5656"/>
<circle cx="63.9" cy="63.9" r="4.2" fill="#4e5656"/>
<circle cx="70.4" cy="64.4" r="3.3" fill="#4e5656"/>
<circle cx="-4.7" cy="69.7" r="3.7" fill="#4e5656"/>
<circle cx="4.3" cy="70.4" r="3.2" fill="#4a5252"/>
<circle cx="11.5" cy="68.8" r="3.6" fill="#485050"/>
<circle cx="17.1" cy="68.7" r="4.3" fill="#4e5656"/>
<circle cx="24.3" cy="68.5" r="4.0" fill="#485050"/>
<circle cx="30.6" cy="69.4" r="3.4" fill="#4e5656"/>
<circle cx="37.5" cy="68.7" r="3.6" fill="#485050"/>
<circle cx="44.5" cy="70.7" r="3.9" fill="#4e5656"/>
<circle cx="52.6" cy="69.3" r="3.3" fill="#485050"/>
<circle cx="60.4" cy="70.8" r="4.3" fill="#4e5656"/>
<circle cx="65.4" cy="68.4" r="3.3" fill="#4e5656"/>
</svg>
<rect x="29.3" y="393.9" width="21.6" height="3.2" fill="#ffffff" />
<rect x="94.3" y="393.9" width="21.6" height="3.2" fill="#ffffff" />
<rect x="159.8" y="393.9" width="21.9" height="3.2" fill="#ffffff" />
<rect x="224.9" y="393.9" width="21.9" height="3.2" fill="#ffffff" />
<rect x="289.1" y="393.9" width="21.3" height="3.2" fill="#ffffff" />
<text x="40.1" y="391.8" font-size="7.5" fill="#ffffff" font-family='"Liberation Serif", serif' font-weight="bold" text-anchor="middle" textLength="21.0" lengthAdjust="spacingAndGlyphs">1.0 µm</text>
<text x="346.5" y="236.3" font-size="18" fill="#111" font-family='"Liberation Sans", sans-serif'>(e)</text>
<g clip-path="url(#clipE)">
<polygon points="340.1,356.8 407.9,317.5 486.0,341.4 486.0,363.5 442.0,400.2" fill="#f34646" />
<polygon points="340.1,356.8 442.0,400.2 442.0,405.3 340.1,362.3" fill="#dc3434" />
<polygon points="340.1,362.3 442.0,405.3 442.0,412.2 340.1,368.6" fill="#2a64aa" />
<polygon points="340.1,368.6 442.0,412.2 442.0,425.8 340.1,378.9" fill="#6c7474" />
<polygon points="442.0,400.2 486.0,363.5 486.0,368.3 442.0,405.3" fill="#e63c3c" />
<polygon points="442.0,405.3 486.0,368.3 486.0,374.7 442.0,412.2" fill="#2c70ba" />
<polygon points="442.0,412.2 486.0,374.7 486.0,380.8 442.0,425.8" fill="#848c8c" />
<line x1="403.9" y1="283.6" x2="407.3" y2="316.9" stroke="#c42828" stroke-width="5.2"/>
<line x1="403.3" y1="283.6" x2="406.7" y2="316.9" stroke="#f04848" stroke-width="2.8"/>
<rect x="399.8" y="283.1" width="8.2" height="4.0" fill="#28a040" />
<rect x="400.4" y="287.1" width="7.0" height="3.4" fill="#2850a0" />
<path d="M400.00,283.62 C400.00,272.52 397.60,265.12 397.60,252.29 C397.60,248.89 400.44,246.62 403.90,246.62 C407.36,246.62 410.20,248.89 410.20,252.29 C410.20,265.12 407.80,272.52 407.80,283.62 Z" fill="url(#purpH)"/>
<path d="M400.00,283.62 C400.00,272.52 397.60,265.12 397.60,252.29 C397.60,248.89 400.44,246.62 403.90,246.62 C407.36,246.62 410.20,248.89 410.20,252.29 C410.20,265.12 407.80,272.52 407.80,283.62 Z" fill="url(#hdark)"/>
<ellipse cx="403.14" cy="252.29" rx="3.91" ry="4.72" fill="url(#hlite)"/>
<line x1="417.9" y1="286.3" x2="420.1" y2="322.0" stroke="#c42828" stroke-width="5.3"/>
<line x1="417.3" y1="286.3" x2="419.5" y2="322.0" stroke="#f04848" stroke-width="2.9"/>
<rect x="413.8" y="285.8" width="8.3" height="4.0" fill="#28a040" />
<rect x="414.4" y="289.8" width="7.1" height="3.4" fill="#2850a0" />
<path d="M413.97,286.25 C413.97,275.02 411.50,267.53 411.50,254.58 C411.50,251.11 414.39,248.80 417.92,248.80 C421.45,248.80 424.34,251.11 424.34,254.58 C424.34,267.53 421.87,275.02 421.87,286.25 Z" fill="url(#purpH)"/>
<path d="M413.97,286.25 C413.97,275.02 411.50,267.53 411.50,254.58 C411.50,251.11 414.39,248.80 417.92,248.80 C421.45,248.80 424.34,251.11 424.34,254.58 C424.34,267.53 421.87,275.02 421.87,286.25 Z" fill="url(#hdark)"/>
<ellipse cx="417.15" cy="254.58" rx="3.98" ry="4.81" fill="url(#hlite)"/>
<line x1="394.5" y1="287.2" x2="398.1" y2="323.5" stroke="#c42828" stroke-width="5.3"/>
<line x1="393.9" y1="287.2" x2="397.5" y2="323.5" stroke="#f04848" stroke-width="2.9"/>
<rect x="390.4" y="286.7" width="8.3" height="4.0" fill="#28a040" />
<rect x="391.0" y="290.7" width="7.1" height="3.4" fill="#2850a0" />
<path d="M390.60,287.24 C390.60,276.00 388.13,268.51 388.13,255.56 C388.13,252.09 391.02,249.78 394.55,249.78 C398.08,249.78 400.97,252.09 400.97,255.56 C400.97,268.51 398.50,276.00 398.50,287.24 Z" fill="url(#purpH)"/>
<path d="M390.60,287.24 C390.60,276.00 388.13,268.51 388.13,255.56 C388.13,252.09 391.02,249.78 394.55,249.78 C398.08,249.78 400.97,252.09 400.97,255.56 C400.97,268.51 398.50,276.00 398.50,287.24 Z" fill="url(#hdark)"/>
<ellipse cx="393.78" cy="255.56" rx="3.98" ry="4.81" fill="url(#hlite)"/>
<line x1="431.9" y1="288.9" x2="433.0" y2="327.2" stroke="#c42828" stroke-width="5.4"/>
<line x1="431.3" y1="288.9" x2="432.4" y2="327.2" stroke="#f04848" stroke-width="2.9"/>
<rect x="427.7" y="288.4" width="8.4" height="4.0" fill="#28a040" />
<rect x="428.3" y="292.4" width="7.2" height="3.4" fill="#2850a0" />
<path d="M427.93,288.89 C427.93,277.52 425.40,269.93 425.40,256.86 C425.40,253.33 428.34,250.98 431.94,250.98 C435.53,250.98 438.48,253.33 438.48,256.86 C438.48,269.93 435.95,277.52 435.95,288.89 Z" fill="url(#purpH)"/>
<path d="M427.93,288.89 C427.93,277.52 425.40,269.93 425.40,256.86 C425.40,253.33 428.34,250.98 431.94,250.98 C435.53,250.98 438.48,253.33 438.48,256.86 C438.48,269.93 435.95,277.52 435.95,288.89 Z" fill="url(#hdark)"/>
<ellipse cx="431.16" cy="256.86" rx="4.05" ry="4.90" fill="url(#hlite)"/>
<line x1="408.6" y1="290.1" x2="411.0" y2="328.6" stroke="#c42828" stroke-width="5.4"/>
<line x1="408.0" y1="290.1" x2="410.4" y2="328.6" stroke="#f04848" stroke-width="2.9"/>
<rect x="404.4" y="289.6" width="8.4" height="4.0" fill="#28a040" />
<rect x="405.0" y="293.6" width="7.2" height="3.4" fill="#2850a0" />
<path d="M404.56,290.06 C404.56,278.68 402.03,271.10 402.03,258.03 C402.03,254.50 404.97,252.15 408.57,252.15 C412.17,252.15 415.11,254.50 415.11,258.03 C415.11,271.10 412.58,278.68 412.58,290.06 Z" fill="url(#purpH)"/>
<path d="M404.56,290.06 C404.56,278.68 402.03,271.10 402.03,258.03 C402.03,254.50 404.97,252.15 408.57,252.15 C412.17,252.15 415.11,254.50 415.11,258.03 C415.11,271.10 412.58,278.68 412.58,290.06 Z" fill="url(#hdark)"/>
<ellipse cx="407.79" cy="258.03" rx="4.05" ry="4.90" fill="url(#hlite)"/>
<line x1="385.2" y1="290.9" x2="389.0" y2="330.1" stroke="#c42828" stroke-width="5.4"/>
<line x1="384.6" y1="290.9" x2="388.4" y2="330.1" stroke="#f04848" stroke-width="2.9"/>
<rect x="381.0" y="290.4" width="8.4" height="4.0" fill="#28a040" />
<rect x="381.6" y="294.4" width="7.2" height="3.4" fill="#2850a0" />
<path d="M381.19,290.86 C381.19,279.48 378.66,271.90 378.66,258.83 C378.66,255.30 381.60,252.95 385.20,252.95 C388.79,252.95 391.74,255.30 391.74,258.83 C391.74,271.90 389.21,279.48 389.21,290.86 Z" fill="url(#purpH)"/>
<path d="M381.19,290.86 C381.19,279.48 378.66,271.90 378.66,258.83 C378.66,255.30 381.60,252.95 385.20,252.95 C388.79,252.95 391.74,255.30 391.74,258.83 C391.74,271.90 389.21,279.48 389.21,290.86 Z" fill="url(#hdark)"/>
<ellipse cx="384.42" cy="258.83" rx="4.05" ry="4.90" fill="url(#hlite)"/>
<line x1="446.0" y1="291.5" x2="445.9" y2="332.3" stroke="#c42828" stroke-width="5.5"/>
<line x1="445.4" y1="291.5" x2="445.3" y2="332.3" stroke="#f04848" stroke-width="3.0"/>
<rect x="441.7" y="291.0" width="8.5" height="4.0" fill="#28a040" />
<rect x="442.3" y="295.0" width="7.3" height="3.4" fill="#2850a0" />
<path d="M441.90,291.52 C441.90,280.01 439.31,272.34 439.31,259.15 C439.31,255.56 442.30,253.16 445.96,253.16 C449.62,253.16 452.61,255.56 452.61,259.15 C452.61,272.34 450.02,280.01 450.02,291.52 Z" fill="url(#purpH)"/>
<path d="M441.90,291.52 C441.90,280.01 439.31,272.34 439.31,259.15 C439.31,255.56 442.30,253.16 445.96,253.16 C449.62,253.16 452.61,255.56 452.61,259.15 C452.61,272.34 450.02,280.01 450.02,291.52 Z" fill="url(#hdark)"/>
<ellipse cx="445.16" cy="259.15" rx="4.13" ry="4.99" fill="url(#hlite)"/>
<line x1="422.6" y1="292.9" x2="423.9" y2="333.8" stroke="#c42828" stroke-width="5.5"/>
<line x1="422.0" y1="292.9" x2="423.3" y2="333.8" stroke="#f04848" stroke-width="3.0"/>
<rect x="418.3" y="292.4" width="8.5" height="4.0" fill="#28a040" />
<rect x="418.9" y="296.4" width="7.3" height="3.4" fill="#2850a0" />
<path d="M418.53,292.87 C418.53,281.36 415.94,273.69 415.94,260.50 C415.94,256.91 418.93,254.51 422.59,254.51 C426.25,254.51 429.24,256.91 429.24,260.50 C429.24,273.69 426.65,281.36 426.65,292.87 Z" fill="url(#purpH)"/>
<path d="M418.53,292.87 C418.53,281.36 415.94,273.69 415.94,260.50 C415.94,256.91 418.93,254.51 422.59,254.51 C426.25,254.51 429.24,256.91 429.24,260.50 C429.24,273.69 426.65,281.36 426.65,292.87 Z" fill="url(#hdark)"/>
<ellipse cx="421.79" cy="260.50" rx="4.13" ry="4.99" fill="url(#hlite)"/>
<line x1="399.2" y1="293.9" x2="401.9" y2="335.3" stroke="#c42828" stroke-width="5.5"/>
<line x1="398.6" y1="293.9" x2="401.3" y2="335.3" stroke="#f04848" stroke-width="3.0"/>
<rect x="395.0" y="293.4" width="8.5" height="4.0" fill="#28a040" />
<rect x="395.6" y="297.4" width="7.3" height="3.4" fill="#2850a0" />
<path d="M395.16,293.86 C395.16,282.35 392.57,274.68 392.57,261.48 C392.57,257.89 395.56,255.49 399.22,255.49 C402.88,255.49 405.87,257.89 405.87,261.48 C405.87,274.68 403.28,282.35 403.28,293.86 Z" fill="url(#purpH)"/>
<path d="M395.16,293.86 C395.16,282.35 392.57,274.68 392.57,261.48 C392.57,257.89 395.56,255.49 399.22,255.49 C402.88,255.49 405.87,257.89 405.87,261.48 C405.87,274.68 403.28,282.35 403.28,293.86 Z" fill="url(#hdark)"/>
<ellipse cx="398.42" cy="261.48" rx="4.13" ry="4.99" fill="url(#hlite)"/>
<line x1="375.8" y1="294.5" x2="379.9" y2="336.7" stroke="#c42828" stroke-width="5.5"/>
<line x1="375.2" y1="294.5" x2="379.3" y2="336.7" stroke="#f04848" stroke-width="3.0"/>
<rect x="371.6" y="294.0" width="8.5" height="4.0" fill="#28a040" />
<rect x="372.2" y="298.0" width="7.3" height="3.4" fill="#2850a0" />
<path d="M371.79,294.47 C371.79,282.96 369.20,275.29 369.20,262.10 C369.20,258.51 372.19,256.11 375.85,256.11 C379.51,256.11 382.50,258.51 382.50,262.10 C382.50,275.29 379.91,282.96 379.91,294.47 Z" fill="url(#purpH)"/>
<path d="M371.79,294.47 C371.79,282.96 369.20,275.29 369.20,262.10 C369.20,258.51 372.19,256.11 375.85,256.11 C379.51,256.11 382.50,258.51 382.50,262.10 C382.50,275.29 379.91,282.96 379.91,294.47 Z" fill="url(#hdark)"/>
<ellipse cx="375.05" cy="262.10" rx="4.13" ry="4.99" fill="url(#hlite)"/>
<line x1="460.0" y1="294.2" x2="458.7" y2="337.4" stroke="#c42828" stroke-width="5.6"/>
<line x1="459.4" y1="294.2" x2="458.1" y2="337.4" stroke="#f04848" stroke-width="3.0"/>
<rect x="455.7" y="293.7" width="8.6" height="4.0" fill="#28a040" />
<rect x="456.3" y="297.7" width="7.4" height="3.4" fill="#2850a0" />
<path d="M455.86,294.16 C455.86,282.51 453.21,274.75 453.21,261.44 C453.21,257.78 456.25,255.34 459.98,255.34 C463.71,255.34 466.75,257.78 466.75,261.44 C466.75,274.75 464.10,282.51 464.10,294.16 Z" fill="url(#purpH)"/>
<path d="M455.86,294.16 C455.86,282.51 453.21,274.75 453.21,261.44 C453.21,257.78 456.25,255.34 459.98,255.34 C463.71,255.34 466.75,257.78 466.75,261.44 C466.75,274.75 464.10,282.51 464.10,294.16 Z" fill="url(#hdark)"/>
<ellipse cx="459.17" cy="261.44" rx="4.20" ry="5.08" fill="url(#hlite)"/>
<line x1="436.6" y1="295.7" x2="436.7" y2="338.9" stroke="#c42828" stroke-width="5.6"/>
<line x1="436.0" y1="295.7" x2="436.1" y2="338.9" stroke="#f04848" stroke-width="3.0"/>
<rect x="432.3" y="295.2" width="8.6" height="4.0" fill="#28a040" />
<rect x="432.9" y="299.2" width="7.4" height="3.4" fill="#2850a0" />
<path d="M432.49,295.69 C432.49,284.05 429.84,276.28 429.84,262.97 C429.84,259.31 432.88,256.87 436.61,256.87 C440.33,256.87 443.38,259.31 443.38,262.97 C443.38,276.28 440.73,284.05 440.73,295.69 Z" fill="url(#purpH)"/>
<path d="M432.49,295.69 C432.49,284.05 429.84,276.28 429.84,262.97 C429.84,259.31 432.88,256.87 436.61,256.87 C440.33,256.87 443.38,259.31 443.38,262.97 C443.38,276.28 440.73,284.05 440.73,295.69 Z" fill="url(#hdark)"/>
<ellipse cx="435.80" cy="262.97" rx="4.20" ry="5.08" fill="url(#hlite)"/>
<line x1="413.2" y1="296.9" x2="414.7" y2="340.4" stroke="#c42828" stroke-width="5.6"/>
<line x1="412.6" y1="296.9" x2="414.1" y2="340.4" stroke="#f04848" stroke-width="3.0"/>
<rect x="408.9" y="296.4" width="8.6" height="4.0" fill="#28a040" />
<rect x="409.5" y="300.4" width="7.4" height="3.4" fill="#2850a0" />
<path d="M409.12,296.86 C409.12,285.21 406.47,277.45 406.47,264.14 C406.47,260.48 409.51,258.04 413.24,258.04 C416.96,258.04 420.01,260.48 420.01,264.14 C420.01,277.45 417.36,285.21 417.36,296.86 Z" fill="url(#purpH)"/>
<path d="M409.12,296.86 C409.12,285.21 406.47,277.45 406.47,264.14 C406.47,260.48 409.51,258.04 413.24,258.04 C416.96,258.04 420.01,260.48 420.01,264.14 C420.01,277.45 417.36,285.21 417.36,296.86 Z" fill="url(#hdark)"/>
<ellipse cx="412.43" cy="264.14" rx="4.20" ry="5.08" fill="url(#hlite)"/>
<line x1="389.9" y1="297.7" x2="392.8" y2="341.9" stroke="#c42828" stroke-width="5.6"/>
<line x1="389.3" y1="297.7" x2="392.1" y2="341.9" stroke="#f04848" stroke-width="3.0"/>
<rect x="385.6" y="297.2" width="8.6" height="4.0" fill="#28a040" />
<rect x="386.2" y="301.2" width="7.4" height="3.4" fill="#2850a0" />
<path d="M385.75,297.66 C385.75,286.01 383.10,278.25 383.10,264.94 C383.10,261.28 386.14,258.84 389.87,258.84 C393.60,258.84 396.64,261.28 396.64,264.94 C396.64,278.25 393.99,286.01 393.99,297.66 Z" fill="url(#purpH)"/>
<path d="M385.75,297.66 C385.75,286.01 383.10,278.25 383.10,264.94 C383.10,261.28 386.14,258.84 389.87,258.84 C393.60,258.84 396.64,261.28 396.64,264.94 C396.64,278.25 393.99,286.01 393.99,297.66 Z" fill="url(#hdark)"/>
<ellipse cx="389.06" cy="264.94" rx="4.20" ry="5.08" fill="url(#hlite)"/>
<line x1="474.0" y1="296.8" x2="471.6" y2="342.6" stroke="#c42828" stroke-width="5.7"/>
<line x1="473.4" y1="296.8" x2="471.0" y2="342.6" stroke="#f04848" stroke-width="3.1"/>
<rect x="469.6" y="296.3" width="8.7" height="4.0" fill="#28a040" />
<rect x="470.2" y="300.3" width="7.5" height="3.4" fill="#2850a0" />
<path d="M469.83,296.79 C469.83,285.01 467.11,277.16 467.11,263.72 C467.11,260.00 470.21,257.52 474.00,257.52 C477.79,257.52 480.89,260.00 480.89,263.72 C480.89,277.16 478.17,285.01 478.17,296.79 Z" fill="url(#purpH)"/>
<path d="M469.83,296.79 C469.83,285.01 467.11,277.16 467.11,263.72 C467.11,260.00 470.21,257.52 474.00,257.52 C477.79,257.52 480.89,260.00 480.89,263.72 C480.89,277.16 478.17,285.01 478.17,296.79 Z" fill="url(#hdark)"/>
<ellipse cx="473.17" cy="263.72" rx="4.27" ry="5.17" fill="url(#hlite)"/>
<line x1="366.5" y1="298.1" x2="370.8" y2="343.4" stroke="#c42828" stroke-width="5.6"/>
<line x1="365.9" y1="298.1" x2="370.2" y2="343.4" stroke="#f04848" stroke-width="3.0"/>
<rect x="362.2" y="297.6" width="8.6" height="4.0" fill="#28a040" />
<rect x="362.8" y="301.6" width="7.4" height="3.4" fill="#2850a0" />
<path d="M362.38,298.09 C362.38,286.45 359.73,278.68 359.73,265.37 C359.73,261.71 362.77,259.27 366.50,259.27 C370.22,259.27 373.27,261.71 373.27,265.37 C373.27,278.68 370.62,286.45 370.62,298.09 Z" fill="url(#purpH)"/>
<path d="M362.38,298.09 C362.38,286.45 359.73,278.68 359.73,265.37 C359.73,261.71 362.77,259.27 366.50,259.27 C370.22,259.27 373.27,261.71 373.27,265.37 C373.27,278.68 370.62,286.45 370.62,298.09 Z" fill="url(#hdark)"/>
<ellipse cx="365.69" cy="265.37" rx="4.20" ry="5.08" fill="url(#hlite)"/>
<line x1="450.6" y1="298.5" x2="449.6" y2="344.1" stroke="#c42828" stroke-width="5.7"/>
<line x1="450.0" y1="298.5" x2="449.0" y2="344.1" stroke="#f04848" stroke-width="3.1"/>
<rect x="446.3" y="298.0" width="8.7" height="4.0" fill="#28a040" />
<rect x="446.9" y="302.0" width="7.5" height="3.4" fill="#2850a0" />
<path d="M446.46,298.51 C446.46,286.73 443.74,278.87 443.74,265.44 C443.74,261.72 446.84,259.24 450.63,259.24 C454.42,259.24 457.52,261.72 457.52,265.44 C457.52,278.87 454.80,286.73 454.80,298.51 Z" fill="url(#purpH)"/>
<path d="M446.46,298.51 C446.46,286.73 443.74,278.87 443.74,265.44 C443.74,261.72 446.84,259.24 450.63,259.24 C454.42,259.24 457.52,261.72 457.52,265.44 C457.52,278.87 454.80,286.73 454.80,298.51 Z" fill="url(#hdark)"/>
<ellipse cx="449.80" cy="265.44" rx="4.27" ry="5.17" fill="url(#hlite)"/>
<line x1="427.3" y1="299.9" x2="427.6" y2="345.5" stroke="#c42828" stroke-width="5.7"/>
<line x1="426.7" y1="299.9" x2="427.0" y2="345.5" stroke="#f04848" stroke-width="3.1"/>
<rect x="422.9" y="299.4" width="8.7" height="4.0" fill="#28a040" />
<rect x="423.5" y="303.4" width="7.5" height="3.4" fill="#2850a0" />
<path d="M423.09,299.86 C423.09,288.08 420.37,280.22 420.37,266.79 C420.37,263.07 423.47,260.59 427.26,260.59 C431.05,260.59 434.15,263.07 434.15,266.79 C434.15,280.22 431.43,288.08 431.43,299.86 Z" fill="url(#purpH)"/>
<path d="M423.09,299.86 C423.09,288.08 420.37,280.22 420.37,266.79 C420.37,263.07 423.47,260.59 427.26,260.59 C431.05,260.59 434.15,263.07 434.15,266.79 C434.15,280.22 431.43,288.08 431.43,299.86 Z" fill="url(#hdark)"/>
<ellipse cx="426.43" cy="266.79" rx="4.27" ry="5.17" fill="url(#hlite)"/>
<line x1="403.9" y1="300.8" x2="405.6" y2="347.0" stroke="#c42828" stroke-width="5.7"/>
<line x1="403.3" y1="300.8" x2="405.0" y2="347.0" stroke="#f04848" stroke-width="3.1"/>
<rect x="399.5" y="300.3" width="8.7" height="4.0" fill="#28a040" />
<rect x="400.1" y="304.3" width="7.5" height="3.4" fill="#2850a0" />
<path d="M399.72,300.84 C399.72,289.06 397.00,281.21 397.00,267.77 C397.00,264.05 400.10,261.57 403.89,261.57 C407.68,261.57 410.78,264.05 410.78,267.77 C410.78,281.21 408.06,289.06 408.06,300.84 Z" fill="url(#purpH)"/>
<path d="M399.72,300.84 C399.72,289.06 397.00,281.21 397.00,267.77 C397.00,264.05 400.10,261.57 403.89,261.57 C407.68,261.57 410.78,264.05 410.78,267.77 C410.78,281.21 408.06,289.06 408.06,300.84 Z" fill="url(#hdark)"/>
<ellipse cx="403.06" cy="267.77" rx="4.27" ry="5.17" fill="url(#hlite)"/>
<line x1="380.5" y1="301.5" x2="383.6" y2="348.5" stroke="#c42828" stroke-width="5.7"/>
<line x1="379.9" y1="301.5" x2="383.0" y2="348.5" stroke="#f04848" stroke-width="3.1"/>
<rect x="376.1" y="301.0" width="8.7" height="4.0" fill="#28a040" />
<rect x="376.7" y="305.0" width="7.5" height="3.4" fill="#2850a0" />
<path d="M376.35,301.46 C376.35,289.68 373.63,281.82 373.63,268.39 C373.63,264.67 376.73,262.19 380.52,262.19 C384.31,262.19 387.41,264.67 387.41,268.39 C387.41,281.82 384.69,289.68 384.69,301.46 Z" fill="url(#purpH)"/>
<path d="M376.35,301.46 C376.35,289.68 373.63,281.82 373.63,268.39 C373.63,264.67 376.73,262.19 380.52,262.19 C384.31,262.19 387.41,264.67 387.41,268.39 C387.41,281.82 384.69,289.68 384.69,301.46 Z" fill="url(#hdark)"/>
<ellipse cx="379.69" cy="268.39" rx="4.27" ry="5.17" fill="url(#hlite)"/>
<line x1="464.6" y1="301.3" x2="462.5" y2="349.2" stroke="#c42828" stroke-width="5.9"/>
<line x1="464.0" y1="301.3" x2="461.9" y2="349.2" stroke="#f04848" stroke-width="3.1"/>
<rect x="460.2" y="300.8" width="8.9" height="4.0" fill="#28a040" />
<rect x="460.8" y="304.8" width="7.7" height="3.4" fill="#2850a0" />
<path d="M460.42,301.33 C460.42,289.41 457.64,281.46 457.64,267.91 C457.64,264.12 460.79,261.60 464.65,261.60 C468.50,261.60 471.66,264.12 471.66,267.91 C471.66,281.46 468.88,289.41 468.88,301.33 Z" fill="url(#purpH)"/>
<path d="M460.42,301.33 C460.42,289.41 457.64,281.46 457.64,267.91 C457.64,264.12 460.79,261.60 464.65,261.60 C468.50,261.60 471.66,264.12 471.66,267.91 C471.66,281.46 468.88,289.41 468.88,301.33 Z" fill="url(#hdark)"/>
<ellipse cx="463.81" cy="267.91" rx="4.35" ry="5.26" fill="url(#hlite)"/>
<line x1="357.1" y1="301.7" x2="361.6" y2="350.0" stroke="#c42828" stroke-width="5.7"/>
<line x1="356.5" y1="301.7" x2="361.0" y2="350.0" stroke="#f04848" stroke-width="3.1"/>
<rect x="352.8" y="301.2" width="8.7" height="4.0" fill="#28a040" />
<rect x="353.4" y="305.2" width="7.5" height="3.4" fill="#2850a0" />
<path d="M352.98,301.71 C352.98,289.93 350.26,282.07 350.26,268.64 C350.26,264.92 353.36,262.44 357.15,262.44 C360.94,262.44 364.04,264.92 364.04,268.64 C364.04,282.07 361.32,289.93 361.32,301.71 Z" fill="url(#purpH)"/>
<path d="M352.98,301.71 C352.98,289.93 350.26,282.07 350.26,268.64 C350.26,264.92 353.36,262.44 357.15,262.44 C360.94,262.44 364.04,264.92 364.04,268.64 C364.04,282.07 361.32,289.93 361.32,301.71 Z" fill="url(#hdark)"/>
<ellipse cx="356.32" cy="268.64" rx="4.27" ry="5.17" fill="url(#hlite)"/>
<line x1="441.3" y1="302.9" x2="440.5" y2="350.7" stroke="#c42828" stroke-width="5.9"/>
<line x1="440.7" y1="302.9" x2="439.9" y2="350.7" stroke="#f04848" stroke-width="3.1"/>
<rect x="436.9" y="302.4" width="8.9" height="4.0" fill="#28a040" />
<rect x="437.5" y="306.4" width="7.7" height="3.4" fill="#2850a0" />
<path d="M437.05,302.86 C437.05,290.94 434.27,283.00 434.27,269.44 C434.27,265.66 437.42,263.13 441.28,263.13 C445.13,263.13 448.29,265.66 448.29,269.44 C448.29,283.00 445.51,290.94 445.51,302.86 Z" fill="url(#purpH)"/>
<path d="M437.05,302.86 C437.05,290.94 434.27,283.00 434.27,269.44 C434.27,265.66 437.42,263.13 441.28,263.13 C445.13,263.13 448.29,265.66 448.29,269.44 C448.29,283.00 445.51,290.94 445.51,302.86 Z" fill="url(#hdark)"/>
<ellipse cx="440.44" cy="269.44" rx="4.35" ry="5.26" fill="url(#hlite)"/>
<line x1="417.9" y1="304.0" x2="418.5" y2="352.2" stroke="#c42828" stroke-width="5.9"/>
<line x1="417.3" y1="304.0" x2="417.9" y2="352.2" stroke="#f04848" stroke-width="3.1"/>
<rect x="413.5" y="303.5" width="8.9" height="4.0" fill="#28a040" />
<rect x="414.1" y="307.5" width="7.7" height="3.4" fill="#2850a0" />
<path d="M413.68,304.03 C413.68,292.11 410.90,284.16 410.90,270.61 C410.90,266.82 414.05,264.30 417.91,264.30 C421.76,264.30 424.92,266.82 424.92,270.61 C424.92,284.16 422.14,292.11 422.14,304.03 Z" fill="url(#purpH)"/>
<path d="M413.68,304.03 C413.68,292.11 410.90,284.16 410.90,270.61 C410.90,266.82 414.05,264.30 417.91,264.30 C421.76,264.30 424.92,266.82 424.92,270.61 C424.92,284.16 422.14,292.11 422.14,304.03 Z" fill="url(#hdark)"/>
<ellipse cx="417.07" cy="270.61" rx="4.35" ry="5.26" fill="url(#hlite)"/>
<line x1="394.5" y1="304.8" x2="396.5" y2="353.6" stroke="#c42828" stroke-width="5.9"/>
<line x1="393.9" y1="304.8" x2="395.9" y2="353.6" stroke="#f04848" stroke-width="3.1"/>
<rect x="390.1" y="304.3" width="8.9" height="4.0" fill="#28a040" />
<rect x="390.7" y="308.3" width="7.7" height="3.4" fill="#2850a0" />
<path d="M390.31,304.83 C390.31,292.91 387.53,284.96 387.53,271.41 C387.53,267.62 390.68,265.10 394.54,265.10 C398.39,265.10 401.55,267.62 401.55,271.41 C401.55,284.96 398.77,292.91 398.77,304.83 Z" fill="url(#purpH)"/>
<path d="M390.31,304.83 C390.31,292.91 387.53,284.96 387.53,271.41 C387.53,267.62 390.68,265.10 394.54,265.10 C398.39,265.10 401.55,267.62 401.55,271.41 C401.55,284.96 398.77,292.91 398.77,304.83 Z" fill="url(#hdark)"/>
<ellipse cx="393.70" cy="271.41" rx="4.35" ry="5.26" fill="url(#hlite)"/>
<line x1="371.2" y1="305.3" x2="374.5" y2="355.1" stroke="#c42828" stroke-width="5.9"/>
<line x1="370.6" y1="305.3" x2="373.9" y2="355.1" stroke="#f04848" stroke-width="3.1"/>
<rect x="366.7" y="304.8" width="8.9" height="4.0" fill="#28a040" />
<rect x="367.3" y="308.8" width="7.7" height="3.4" fill="#2850a0" />
<path d="M366.94,305.26 C366.94,293.34 364.16,285.40 364.16,271.84 C364.16,268.06 367.31,265.53 371.17,265.53 C375.03,265.53 378.18,268.06 378.18,271.84 C378.18,285.40 375.40,293.34 375.40,305.26 Z" fill="url(#purpH)"/>
<path d="M366.94,305.26 C366.94,293.34 364.16,285.40 364.16,271.84 C364.16,268.06 367.31,265.53 371.17,265.53 C375.03,265.53 378.18,268.06 378.18,271.84 C378.18,285.40 375.40,293.34 375.40,305.26 Z" fill="url(#hdark)"/>
<ellipse cx="370.33" cy="271.84" rx="4.35" ry="5.26" fill="url(#hlite)"/>
<line x1="455.3" y1="305.9" x2="453.3" y2="355.8" stroke="#c42828" stroke-width="6.0"/>
<line x1="454.7" y1="305.9" x2="452.7" y2="355.8" stroke="#f04848" stroke-width="3.2"/>
<rect x="450.8" y="305.4" width="9.0" height="4.0" fill="#28a040" />
<rect x="451.4" y="309.4" width="7.8" height="3.4" fill="#2850a0" />
<path d="M451.02,305.86 C451.02,293.81 448.17,285.77 448.17,272.09 C448.17,268.25 451.38,265.68 455.30,265.68 C459.22,265.68 462.43,268.25 462.43,272.09 C462.43,285.77 459.58,293.81 459.58,305.86 Z" fill="url(#purpH)"/>
<path d="M451.02,305.86 C451.02,293.81 448.17,285.77 448.17,272.09 C448.17,268.25 451.38,265.68 455.30,265.68 C459.22,265.68 462.43,268.25 462.43,272.09 C462.43,285.77 459.58,293.81 459.58,305.86 Z" fill="url(#hdark)"/>
<ellipse cx="454.44" cy="272.09" rx="4.42" ry="5.35" fill="url(#hlite)"/>
<line x1="347.8" y1="305.3" x2="352.5" y2="356.6" stroke="#c42828" stroke-width="5.9"/>
<line x1="347.2" y1="305.3" x2="351.9" y2="356.6" stroke="#f04848" stroke-width="3.1"/>
<rect x="343.4" y="304.8" width="8.9" height="4.0" fill="#28a040" />
<rect x="344.0" y="308.8" width="7.7" height="3.4" fill="#2850a0" />
<path d="M343.57,305.33 C343.57,293.41 340.79,285.46 340.79,271.91 C340.79,268.12 343.94,265.60 347.80,265.60 C351.65,265.60 354.81,268.12 354.81,271.91 C354.81,285.46 352.03,293.41 352.03,305.33 Z" fill="url(#purpH)"/>
<path d="M343.57,305.33 C343.57,293.41 340.79,285.46 340.79,271.91 C340.79,268.12 343.94,265.60 347.80,265.60 C351.65,265.60 354.81,268.12 354.81,271.91 C354.81,285.46 352.03,293.41 352.03,305.33 Z" fill="url(#hdark)"/>
<ellipse cx="346.96" cy="271.91" rx="4.35" ry="5.26" fill="url(#hlite)"/>
<line x1="431.9" y1="307.2" x2="431.3" y2="357.3" stroke="#c42828" stroke-width="6.0"/>
<line x1="431.3" y1="307.2" x2="430.7" y2="357.3" stroke="#f04848" stroke-width="3.2"/>
<rect x="427.4" y="306.7" width="9.0" height="4.0" fill="#28a040" />
<rect x="428.0" y="310.7" width="7.8" height="3.4" fill="#2850a0" />
<path d="M427.65,307.21 C427.65,295.16 424.80,287.12 424.80,273.44 C424.80,269.60 428.01,267.03 431.93,267.03 C435.85,267.03 439.06,269.60 439.06,273.44 C439.06,287.12 436.21,295.16 436.21,307.21 Z" fill="url(#purpH)"/>
<path d="M427.65,307.21 C427.65,295.16 424.80,287.12 424.80,273.44 C424.80,269.60 428.01,267.03 431.93,267.03 C435.85,267.03 439.06,269.60 439.06,273.44 C439.06,287.12 436.21,295.16 436.21,307.21 Z" fill="url(#hdark)"/>
<ellipse cx="431.07" cy="273.44" rx="4.42" ry="5.35" fill="url(#hlite)"/>
<line x1="408.6" y1="308.2" x2="409.3" y2="358.8" stroke="#c42828" stroke-width="6.0"/>
<line x1="408.0" y1="308.2" x2="408.7" y2="358.8" stroke="#f04848" stroke-width="3.2"/>
<rect x="404.1" y="307.7" width="9.0" height="4.0" fill="#28a040" />
<rect x="404.7" y="311.7" width="7.8" height="3.4" fill="#2850a0" />
<path d="M404.28,308.20 C404.28,296.14 401.43,288.10 401.43,274.43 C401.43,270.58 404.64,268.01 408.56,268.01 C412.48,268.01 415.69,270.58 415.69,274.43 C415.69,288.10 412.84,296.14 412.84,308.20 Z" fill="url(#purpH)"/>
<path d="M404.28,308.20 C404.28,296.14 401.43,288.10 401.43,274.43 C401.43,270.58 404.64,268.01 408.56,268.01 C412.48,268.01 415.69,270.58 415.69,274.43 C415.69,288.10 412.84,296.14 412.84,308.20 Z" fill="url(#hdark)"/>
<ellipse cx="407.70" cy="274.43" rx="4.42" ry="5.35" fill="url(#hlite)"/>
<line x1="385.2" y1="308.8" x2="387.4" y2="360.3" stroke="#c42828" stroke-width="6.0"/>
<line x1="384.6" y1="308.8" x2="386.8" y2="360.3" stroke="#f04848" stroke-width="3.2"/>
<rect x="380.7" y="308.3" width="9.0" height="4.0" fill="#28a040" />
<rect x="381.3" y="312.3" width="7.8" height="3.4" fill="#2850a0" />
<path d="M380.91,308.81 C380.91,296.76 378.06,288.72 378.06,275.04 C378.06,271.20 381.27,268.63 385.19,268.63 C389.11,268.63 392.32,271.20 392.32,275.04 C392.32,288.72 389.47,296.76 389.47,308.81 Z" fill="url(#purpH)"/>
<path d="M380.91,308.81 C380.91,296.76 378.06,288.72 378.06,275.04 C378.06,271.20 381.27,268.63 385.19,268.63 C389.11,268.63 392.32,271.20 392.32,275.04 C392.32,288.72 389.47,296.76 389.47,308.81 Z" fill="url(#hdark)"/>
<ellipse cx="384.33" cy="275.04" rx="4.42" ry="5.35" fill="url(#hlite)"/>
<line x1="361.8" y1="309.1" x2="365.4" y2="361.7" stroke="#c42828" stroke-width="6.0"/>
<line x1="361.2" y1="309.1" x2="364.8" y2="361.7" stroke="#f04848" stroke-width="3.2"/>
<rect x="357.3" y="308.6" width="9.0" height="4.0" fill="#28a040" />
<rect x="357.9" y="312.6" width="7.8" height="3.4" fill="#2850a0" />
<path d="M357.54,309.06 C357.54,297.01 354.69,288.97 354.69,275.29 C354.69,271.45 357.90,268.88 361.82,268.88 C365.74,268.88 368.95,271.45 368.95,275.29 C368.95,288.97 366.10,297.01 366.10,309.06 Z" fill="url(#purpH)"/>
<path d="M357.54,309.06 C357.54,297.01 354.69,288.97 354.69,275.29 C354.69,271.45 357.90,268.88 361.82,268.88 C365.74,268.88 368.95,271.45 368.95,275.29 C368.95,288.97 366.10,297.01 366.10,309.06 Z" fill="url(#hdark)"/>
<ellipse cx="360.96" cy="275.29" rx="4.42" ry="5.35" fill="url(#hlite)"/>
<line x1="445.9" y1="310.4" x2="444.2" y2="362.4" stroke="#c42828" stroke-width="6.1"/>
<line x1="445.3" y1="310.4" x2="443.6" y2="362.4" stroke="#f04848" stroke-width="3.2"/>
<rect x="441.4" y="309.9" width="9.1" height="4.0" fill="#28a040" />
<rect x="442.0" y="313.9" width="7.9" height="3.4" fill="#2850a0" />
<path d="M441.61,310.40 C441.61,298.21 438.70,290.08 438.70,276.28 C438.70,272.37 441.96,269.76 445.95,269.76 C449.94,269.76 453.20,272.37 453.20,276.28 C453.20,290.08 450.29,298.21 450.29,310.40 Z" fill="url(#purpH)"/>
<path d="M441.61,310.40 C441.61,298.21 438.70,290.08 438.70,276.28 C438.70,272.37 441.96,269.76 445.95,269.76 C449.94,269.76 453.20,272.37 453.20,276.28 C453.20,290.08 450.29,298.21 450.29,310.40 Z" fill="url(#hdark)"/>
<ellipse cx="445.08" cy="276.28" rx="4.49" ry="5.43" fill="url(#hlite)"/>
<line x1="422.6" y1="311.6" x2="422.2" y2="363.9" stroke="#c42828" stroke-width="6.1"/>
<line x1="422.0" y1="311.6" x2="421.6" y2="363.9" stroke="#f04848" stroke-width="3.2"/>
<rect x="418.0" y="311.1" width="9.1" height="4.0" fill="#28a040" />
<rect x="418.6" y="315.1" width="7.9" height="3.4" fill="#2850a0" />
<path d="M418.24,311.56 C418.24,299.37 415.33,291.24 415.33,277.45 C415.33,273.54 418.59,270.93 422.58,270.93 C426.56,270.93 429.83,273.54 429.83,277.45 C429.83,291.24 426.92,299.37 426.92,311.56 Z" fill="url(#purpH)"/>
<path d="M418.24,311.56 C418.24,299.37 415.33,291.24 415.33,277.45 C415.33,273.54 418.59,270.93 422.58,270.93 C426.56,270.93 429.83,273.54 429.83,277.45 C429.83,291.24 426.92,299.37 426.92,311.56 Z" fill="url(#hdark)"/>
<ellipse cx="421.71" cy="277.45" rx="4.49" ry="5.43" fill="url(#hlite)"/>
<line x1="399.2" y1="312.4" x2="400.2" y2="365.4" stroke="#c42828" stroke-width="6.1"/>
<line x1="398.6" y1="312.4" x2="399.6" y2="365.4" stroke="#f04848" stroke-width="3.2"/>
<rect x="394.7" y="311.9" width="9.1" height="4.0" fill="#28a040" />
<rect x="395.3" y="315.9" width="7.9" height="3.4" fill="#2850a0" />
<path d="M394.87,312.36 C394.87,300.17 391.96,292.04 391.96,278.25 C391.96,274.34 395.22,271.73 399.21,271.73 C403.19,271.73 406.46,274.34 406.46,278.25 C406.46,292.04 403.55,300.17 403.55,312.36 Z" fill="url(#purpH)"/>
<path d="M394.87,312.36 C394.87,300.17 391.96,292.04 391.96,278.25 C391.96,274.34 395.22,271.73 399.21,271.73 C403.19,271.73 406.46,274.34 406.46,278.25 C406.46,292.04 403.55,300.17 403.55,312.36 Z" fill="url(#hdark)"/>
<ellipse cx="398.34" cy="278.25" rx="4.49" ry="5.43" fill="url(#hlite)"/>
<line x1="375.8" y1="312.8" x2="378.2" y2="366.9" stroke="#c42828" stroke-width="6.1"/>
<line x1="375.2" y1="312.8" x2="377.6" y2="366.9" stroke="#f04848" stroke-width="3.2"/>
<rect x="371.3" y="312.3" width="9.1" height="4.0" fill="#28a040" />
<rect x="371.9" y="316.3" width="7.9" height="3.4" fill="#2850a0" />
<path d="M371.50,312.80 C371.50,300.61 368.59,292.48 368.59,278.68 C368.59,274.77 371.85,272.16 375.84,272.16 C379.82,272.16 383.09,274.77 383.09,278.68 C383.09,292.48 380.18,300.61 380.18,312.80 Z" fill="url(#purpH)"/>
<path d="M371.50,312.80 C371.50,300.61 368.59,292.48 368.59,278.68 C368.59,274.77 371.85,272.16 375.84,272.16 C379.82,272.16 383.09,274.77 383.09,278.68 C383.09,292.48 380.18,300.61 380.18,312.80 Z" fill="url(#hdark)"/>
<ellipse cx="374.97" cy="278.68" rx="4.49" ry="5.43" fill="url(#hlite)"/>
<line x1="436.6" y1="314.9" x2="435.1" y2="369.1" stroke="#c42828" stroke-width="6.2"/>
<line x1="436.0" y1="314.9" x2="434.5" y2="369.1" stroke="#f04848" stroke-width="3.3"/>
<rect x="432.0" y="314.4" width="9.2" height="4.0" fill="#28a040" />
<rect x="432.6" y="318.4" width="8.0" height="3.4" fill="#2850a0" />
<path d="M432.21,314.93 C432.21,302.60 429.24,294.39 429.24,280.47 C429.24,276.49 432.55,273.84 436.60,273.84 C440.65,273.84 443.96,276.49 443.96,280.47 C443.96,294.39 440.99,302.60 440.99,314.93 Z" fill="url(#purpH)"/>
<path d="M432.21,314.93 C432.21,302.60 429.24,294.39 429.24,280.47 C429.24,276.49 432.55,273.84 436.60,273.84 C440.65,273.84 443.96,276.49 443.96,280.47 C443.96,294.39 440.99,302.60 440.99,314.93 Z" fill="url(#hdark)"/>
<ellipse cx="435.72" cy="280.47" rx="4.57" ry="5.52" fill="url(#hlite)"/>
<line x1="413.2" y1="315.9" x2="413.1" y2="370.5" stroke="#c42828" stroke-width="6.2"/>
<line x1="412.6" y1="315.9" x2="412.5" y2="370.5" stroke="#f04848" stroke-width="3.3"/>
<rect x="408.6" y="315.4" width="9.2" height="4.0" fill="#28a040" />
<rect x="409.2" y="319.4" width="8.0" height="3.4" fill="#2850a0" />
<path d="M408.84,315.91 C408.84,303.59 405.87,295.37 405.87,281.45 C405.87,277.47 409.18,274.82 413.23,274.82 C417.28,274.82 420.59,277.47 420.59,281.45 C420.59,295.37 417.62,303.59 417.62,315.91 Z" fill="url(#purpH)"/>
<path d="M408.84,315.91 C408.84,303.59 405.87,295.37 405.87,281.45 C405.87,277.47 409.18,274.82 413.23,274.82 C417.28,274.82 420.59,277.47 420.59,281.45 C420.59,295.37 417.62,303.59 417.62,315.91 Z" fill="url(#hdark)"/>
<ellipse cx="412.35" cy="281.45" rx="4.57" ry="5.52" fill="url(#hlite)"/>
<line x1="389.9" y1="316.5" x2="391.1" y2="372.0" stroke="#c42828" stroke-width="6.2"/>
<line x1="389.3" y1="316.5" x2="390.5" y2="372.0" stroke="#f04848" stroke-width="3.3"/>
<rect x="385.3" y="316.0" width="9.2" height="4.0" fill="#28a040" />
<rect x="385.9" y="320.0" width="8.0" height="3.4" fill="#2850a0" />
<path d="M385.47,316.53 C385.47,304.20 382.50,295.99 382.50,282.07 C382.50,278.09 385.81,275.44 389.86,275.44 C393.91,275.44 397.22,278.09 397.22,282.07 C397.22,295.99 394.25,304.20 394.25,316.53 Z" fill="url(#purpH)"/>
<path d="M385.47,316.53 C385.47,304.20 382.50,295.99 382.50,282.07 C382.50,278.09 385.81,275.44 389.86,275.44 C393.91,275.44 397.22,278.09 397.22,282.07 C397.22,295.99 394.25,304.20 394.25,316.53 Z" fill="url(#hdark)"/>
<ellipse cx="388.98" cy="282.07" rx="4.57" ry="5.52" fill="url(#hlite)"/>
<line x1="427.2" y1="319.5" x2="425.9" y2="375.7" stroke="#c42828" stroke-width="6.3"/>
<line x1="426.6" y1="319.5" x2="425.3" y2="375.7" stroke="#f04848" stroke-width="3.3"/>
<rect x="422.6" y="319.0" width="9.3" height="4.0" fill="#28a040" />
<rect x="423.2" y="323.0" width="8.1" height="3.4" fill="#2850a0" />
<path d="M422.80,319.47 C422.80,307.00 419.77,298.69 419.77,284.65 C419.77,280.61 423.13,277.92 427.25,277.92 C431.37,277.92 434.73,280.61 434.73,284.65 C434.73,298.69 431.70,307.00 431.70,319.47 Z" fill="url(#purpH)"/>
<path d="M422.80,319.47 C422.80,307.00 419.77,298.69 419.77,284.65 C419.77,280.61 423.13,277.92 427.25,277.92 C431.37,277.92 434.73,280.61 434.73,284.65 C434.73,298.69 431.70,307.00 431.70,319.47 Z" fill="url(#hdark)"/>
<ellipse cx="426.35" cy="284.65" rx="4.64" ry="5.61" fill="url(#hlite)"/>
<line x1="403.9" y1="320.3" x2="403.9" y2="377.2" stroke="#c42828" stroke-width="6.3"/>
<line x1="403.3" y1="320.3" x2="403.3" y2="377.2" stroke="#f04848" stroke-width="3.3"/>
<rect x="399.2" y="319.8" width="9.3" height="4.0" fill="#28a040" />
<rect x="399.8" y="323.8" width="8.1" height="3.4" fill="#2850a0" />
<path d="M399.43,320.27 C399.43,307.80 396.40,299.49 396.40,285.45 C396.40,281.41 399.76,278.72 403.88,278.72 C408.00,278.72 411.36,281.41 411.36,285.45 C411.36,299.49 408.33,307.80 408.33,320.27 Z" fill="url(#purpH)"/>
<path d="M399.43,320.27 C399.43,307.80 396.40,299.49 396.40,285.45 C396.40,281.41 399.76,278.72 403.88,278.72 C408.00,278.72 411.36,281.41 411.36,285.45 C411.36,299.49 408.33,307.80 408.33,320.27 Z" fill="url(#hdark)"/>
<ellipse cx="402.98" cy="285.45" rx="4.64" ry="5.61" fill="url(#hlite)"/>
<line x1="417.9" y1="324.0" x2="416.8" y2="382.3" stroke="#c42828" stroke-width="6.4"/>
<line x1="417.3" y1="324.0" x2="416.2" y2="382.3" stroke="#f04848" stroke-width="3.4"/>
<rect x="413.2" y="323.5" width="9.4" height="4.0" fill="#28a040" />
<rect x="413.8" y="327.5" width="8.2" height="3.4" fill="#2850a0" />
<path d="M413.40,324.00 C413.40,311.40 410.30,303.00 410.30,288.84 C410.30,284.74 413.72,282.00 417.90,282.00 C422.08,282.00 425.50,284.74 425.50,288.84 C425.50,303.00 422.40,311.40 422.40,324.00 Z" fill="url(#purpH)"/>
<path d="M413.40,324.00 C413.40,311.40 410.30,303.00 410.30,288.84 C410.30,284.74 413.72,282.00 417.90,282.00 C422.08,282.00 425.50,284.74 425.50,288.84 C425.50,303.00 422.40,311.40 422.40,324.00 Z" fill="url(#hdark)"/>
<ellipse cx="416.99" cy="288.84" rx="4.71" ry="5.70" fill="url(#hlite)"/>
<ellipse cx="411" cy="270" rx="27" ry="10" fill="#a4b8dc" opacity="0.85" filter="url(#blur2)"/>
<path d="M392,264.3 Q390.4,265.1 392,266 L411.5,276.6 Q413.2,277.4 415,276.4 L431.2,266 Q432.7,265 432.7,263.5 L432.7,262.3 L390.4,265.1 Z" fill="#dcc000"/>
<path d="M392,264.3 Q390.4,265.1 392,266 L411.5,273.2 Q413.2,274 415,273 L431.2,263.4 Q432.7,262.3 431.2,261.4 L413,253.6 Q411.3,253 409.6,253.8 Z" fill="#f6e83c"/>
<text x="411.6" y="264.8" font-size="12" fill="#111" font-family='"Liberation Serif", serif' font-weight="bold" text-anchor="middle">Au</text>
<ellipse cx="440.8" cy="385.2" rx="12.3" ry="8.2" fill="url(#inB)"/>
<text x="440.8" y="388.6" font-size="10" fill="#111" font-family='"Liberation Serif", serif' font-weight="bold" text-anchor="middle">In</text>
</g>
<text x="515.4" y="237.5" font-size="18" fill="#111" font-family='"Liberation Sans", sans-serif'>(f)</text>
<rect x="506.0" y="288.9" width="94.3" height="68.0" fill="#ff661e" />
<rect x="506.0" y="288.9" width="94.3" height="68.0" fill="url(#orgG)" />
<path d="M600.3,288 Q607,287 613.1,279.8 L613.1,347 Q611,356.9 603,356.9 L600.3,356.9 Z" fill="#3a9a58"/>
<polygon points="613.1,275.7 630.7,242.6 630.7,364.0 613.1,396.5" fill="url(#mgG)" />
<polygon points="594.3,270.7 601.5,264.0 603.5,267.3 641.5,267.3 643.5,264.0 650.5,270.7 643.5,277.4 641.5,274.1 603.5,274.1 601.5,277.4" fill="#46b846" />
<g clip-path="url(#clipMg)">
<polygon points="594.3,270.7 601.5,264.0 603.5,267.3 641.5,267.3 643.5,264.0 650.5,270.7 643.5,277.4 641.5,274.1 603.5,274.1 601.5,277.4" fill="#2e8a36" />
</g>
<text x="566.2" y="257.2" font-size="12" fill="#2a8034" font-family='"Liberation Serif", serif' font-weight="bold" textLength="111.5" lengthAdjust="spacingAndGlyphs">LSP-exciton coupling</text>
<rect x="630.8" y="312.3" width="46.0" height="48.2" fill="url(#auG)" />
<line x1="507.0" y1="312.6" x2="614.0" y2="312.6" stroke="#2a40b4" stroke-width="2.4" stroke-dasharray="7 7"/>
<line x1="560.9" y1="293.0" x2="560.9" y2="352.5" stroke="#111" stroke-width="1.3" />
<polygon points="560.9,289.4 563.4,294.4 558.4,294.4" fill="#111" />
<polygon points="560.9,356.2 558.4,351.2 563.4,351.2" fill="#111" />
<circle cx="516.5" cy="283.6" r="5.3" fill="url(#eB)"/>
<circle cx="516.5" cy="362.3" r="5.5" fill="url(#hB)"/>
<circle cx="531.1" cy="283.6" r="5.3" fill="url(#eB)"/>
<circle cx="531.1" cy="362.3" r="5.5" fill="url(#hB)"/>
<circle cx="546.3" cy="283.6" r="5.3" fill="url(#eB)"/>
<circle cx="546.3" cy="362.3" r="5.5" fill="url(#hB)"/>
<circle cx="560.9" cy="283.6" r="5.3" fill="url(#eB)"/>
<circle cx="560.9" cy="362.3" r="5.5" fill="url(#hB)"/>
<circle cx="574.9" cy="283.6" r="5.3" fill="url(#eB)"/>
<circle cx="574.9" cy="362.3" r="5.5" fill="url(#hB)"/>
<circle cx="589.5" cy="283.6" r="5.3" fill="url(#eB)"/>
<circle cx="589.5" cy="362.3" r="5.5" fill="url(#hB)"/>
<circle cx="645.6" cy="306.5" r="5.4" fill="url(#eB)"/>
<circle cx="659.8" cy="306.5" r="5.4" fill="url(#eB)"/>
<text x="492.5" y="293.8" font-size="10" font-weight="bold" font-style="italic" font-family='"Liberation Serif", serif' fill="#111">E<tspan font-size="6.5" dy="1.8" font-style="normal">C</tspan></text>
<text x="492.5" y="316.3" font-size="10" font-weight="bold" font-style="italic" font-family='"Liberation Serif", serif' fill="#111">E<tspan font-size="6.5" dy="1.8" font-style="normal">F</tspan></text>
<text x="492.5" y="360.4" font-size="10" font-weight="bold" font-style="italic" font-family='"Liberation Serif", serif' fill="#111">E<tspan font-size="6.5" dy="1.8" font-style="normal">V</tspan></text>
<text x="514.2" y="332.8" font-size="10.5" font-weight="bold" font-family='"Liberation Serif", serif' fill="#4a1010">CsPbBr<tspan font-size="7" dy="2.5">3</tspan></text>
<text x="0" y="0" font-size="10" font-weight="bold" font-family='"Liberation Serif", serif' fill="#2a0a30" transform="translate(619,304.2) rotate(90)" textLength="36.7" lengthAdjust="spacingAndGlyphs">MgZnO</text>
<text x="652.9" y="339.5" font-size="10" fill="#111" font-family='"Liberation Serif", serif' font-weight="bold" text-anchor="middle">Au</text>
<rect x="492.3" y="382.8" width="56.6" height="25.5" fill="#f99ca6" />
<line x1="492.3" y1="383.2" x2="549.0" y2="383.2" stroke="#301818" stroke-width="1" />
<line x1="548.6" y1="382.8" x2="548.6" y2="408.3" stroke="#301818" stroke-width="1.2" />
<circle cx="497.3" cy="390.8" r="4.3" fill="url(#eB)"/>
<circle cx="497.3" cy="403.5" r="4.3" fill="url(#hB)"/>
<text x="506.9" y="394.3" font-size="9" fill="#2a1010" font-family='"Liberation Serif", serif' font-weight="bold" textLength="32.7" lengthAdjust="spacingAndGlyphs">Electron</text>
<text x="506.9" y="406.8" font-size="9" fill="#2a1010" font-family='"Liberation Serif", serif' font-weight="bold" textLength="18.1" lengthAdjust="spacingAndGlyphs">Hole</text>
<text x="6.5" y="441.3" font-size="18" fill="#111" font-family='"Liberation Sans", sans-serif'>(g)</text>
<rect x="119.6" y="453.8" width="46.8" height="44.4" fill="url(#gin1)"/>
<rect x="131.4" y="465.4" width="22.6" height="21.8" fill="#ffffff" filter="url(#blur06)"/>
<rect x="118.1" y="452.3" width="2.4" height="2.4" fill="#2aa858" />
<rect x="118.1" y="497.2" width="2.4" height="2.4" fill="#2aa858" />
<rect x="122.8" y="452.3" width="2.4" height="2.4" fill="#2aa858" />
<rect x="122.8" y="497.2" width="2.4" height="2.4" fill="#2aa858" />
<rect x="127.6" y="452.3" width="2.4" height="2.4" fill="#2aa858" />
<rect x="127.6" y="497.2" width="2.4" height="2.4" fill="#2aa858" />
<rect x="132.3" y="452.3" width="2.4" height="2.4" fill="#2aa858" />
<rect x="132.3" y="497.2" width="2.4" height="2.4" fill="#2aa858" />
<rect x="137.0" y="452.3" width="2.4" height="2.4" fill="#2aa858" />
<rect x="137.0" y="497.2" width="2.4" height="2.4" fill="#2aa858" />
<rect x="141.8" y="452.3" width="2.4" height="2.4" fill="#2aa858" />
<rect x="141.8" y="497.2" width="2.4" height="2.4" fill="#2aa858" />
<rect x="146.5" y="452.3" width="2.4" height="2.4" fill="#2aa858" />
<rect x="146.5" y="497.2" width="2.4" height="2.4" fill="#2aa858" />
<rect x="151.2" y="452.3" width="2.4" height="2.4" fill="#2aa858" />
<rect x="151.2" y="497.2" width="2.4" height="2.4" fill="#2aa858" />
<rect x="155.9" y="452.3" width="2.4" height="2.4" fill="#2aa858" />
<rect x="155.9" y="497.2" width="2.4" height="2.4" fill="#2aa858" />
<rect x="160.7" y="452.3" width="2.4" height="2.4" fill="#2aa858" />
<rect x="160.7" y="497.2" width="2.4" height="2.4" fill="#2aa858" />
<rect x="165.4" y="452.3" width="2.4" height="2.4" fill="#2aa858" />
<rect x="165.4" y="497.2" width="2.4" height="2.4" fill="#2aa858" />
<rect x="118.1" y="457.3" width="2.4" height="2.4" fill="#2aa858" />
<rect x="165.4" y="457.3" width="2.4" height="2.4" fill="#2aa858" />
<rect x="118.1" y="462.3" width="2.4" height="2.4" fill="#2aa858" />
<rect x="165.4" y="462.3" width="2.4" height="2.4" fill="#2aa858" />
<rect x="118.1" y="467.3" width="2.4" height="2.4" fill="#2aa858" />
<rect x="165.4" y="467.3" width="2.4" height="2.4" fill="#2aa858" />
<rect x="118.1" y="472.3" width="2.4" height="2.4" fill="#2aa858" />
<rect x="165.4" y="472.3" width="2.4" height="2.4" fill="#2aa858" />
<rect x="118.1" y="477.2" width="2.4" height="2.4" fill="#2aa858" />
<rect x="165.4" y="477.2" width="2.4" height="2.4" fill="#2aa858" />
<rect x="118.1" y="482.2" width="2.4" height="2.4" fill="#2aa858" />
<rect x="165.4" y="482.2" width="2.4" height="2.4" fill="#2aa858" />
<rect x="118.1" y="487.2" width="2.4" height="2.4" fill="#2aa858" />
<rect x="165.4" y="487.2" width="2.4" height="2.4" fill="#2aa858" />
<rect x="118.1" y="492.2" width="2.4" height="2.4" fill="#2aa858" />
<rect x="165.4" y="492.2" width="2.4" height="2.4" fill="#2aa858" />
<rect x="120.6" y="506.5" width="44.3" height="42.9" fill="url(#gin2)"/>
<rect x="131.8" y="517.2" width="21.4" height="21.2" fill="#ffffff" filter="url(#blur06)"/>
<rect x="118.2" y="503.9" width="2.4" height="2.4" fill="#f01818" />
<rect x="118.2" y="549.4" width="2.4" height="2.4" fill="#f01818" />
<rect x="122.9" y="503.9" width="2.4" height="2.4" fill="#f01818" />
<rect x="122.9" y="549.4" width="2.4" height="2.4" fill="#f01818" />
<rect x="127.6" y="503.9" width="2.4" height="2.4" fill="#f01818" />
<rect x="127.6" y="549.4" width="2.4" height="2.4" fill="#f01818" />
<rect x="132.2" y="503.9" width="2.4" height="2.4" fill="#f01818" />
<rect x="132.2" y="549.4" width="2.4" height="2.4" fill="#f01818" />
<rect x="136.9" y="503.9" width="2.4" height="2.4" fill="#f01818" />
<rect x="136.9" y="549.4" width="2.4" height="2.4" fill="#f01818" />
<rect x="141.6" y="503.9" width="2.4" height="2.4" fill="#f01818" />
<rect x="141.6" y="549.4" width="2.4" height="2.4" fill="#f01818" />
<rect x="146.3" y="503.9" width="2.4" height="2.4" fill="#f01818" />
<rect x="146.3" y="549.4" width="2.4" height="2.4" fill="#f01818" />
<rect x="151.0" y="503.9" width="2.4" height="2.4" fill="#f01818" />
<rect x="151.0" y="549.4" width="2.4" height="2.4" fill="#f01818" />
<rect x="155.6" y="503.9" width="2.4" height="2.4" fill="#f01818" />
<rect x="155.6" y="549.4" width="2.4" height="2.4" fill="#f01818" />
<rect x="160.3" y="503.9" width="2.4" height="2.4" fill="#f01818" />
<rect x="160.3" y="549.4" width="2.4" height="2.4" fill="#f01818" />
<rect x="165.0" y="503.9" width="2.4" height="2.4" fill="#f01818" />
<rect x="165.0" y="549.4" width="2.4" height="2.4" fill="#f01818" />
<rect x="118.2" y="509.0" width="2.4" height="2.4" fill="#f01818" />
<rect x="165.0" y="509.0" width="2.4" height="2.4" fill="#f01818" />
<rect x="118.2" y="514.0" width="2.4" height="2.4" fill="#f01818" />
<rect x="165.0" y="514.0" width="2.4" height="2.4" fill="#f01818" />
<rect x="118.2" y="519.1" width="2.4" height="2.4" fill="#f01818" />
<rect x="165.0" y="519.1" width="2.4" height="2.4" fill="#f01818" />
<rect x="118.2" y="524.1" width="2.4" height="2.4" fill="#f01818" />
<rect x="165.0" y="524.1" width="2.4" height="2.4" fill="#f01818" />
<rect x="118.2" y="529.2" width="2.4" height="2.4" fill="#f01818" />
<rect x="165.0" y="529.2" width="2.4" height="2.4" fill="#f01818" />
<rect x="118.2" y="534.2" width="2.4" height="2.4" fill="#f01818" />
<rect x="165.0" y="534.2" width="2.4" height="2.4" fill="#f01818" />
<rect x="118.2" y="539.3" width="2.4" height="2.4" fill="#f01818" />
<rect x="165.0" y="539.3" width="2.4" height="2.4" fill="#f01818" />
<rect x="118.2" y="544.3" width="2.4" height="2.4" fill="#f01818" />
<rect x="165.0" y="544.3" width="2.4" height="2.4" fill="#f01818" />
<polyline points="24.6,589.9 25.1,589.9 25.5,589.9 26.0,589.9 26.5,589.9 26.9,589.9 27.4,589.9 27.9,589.9 28.3,589.9 28.8,589.8 29.2,589.8 29.7,589.8 30.2,589.8 30.6,589.8 31.1,589.8 31.6,589.8 32.0,589.8 32.5,589.8 33.0,589.8 33.4,589.8 33.9,589.8 34.4,589.8 34.8,589.8 35.3,589.8 35.7,589.8 36.2,589.8 36.7,589.8 37.1,589.8 37.6,589.8 38.1,589.8 38.5,589.8 39.0,589.8 39.5,589.8 39.9,589.7 40.4,589.7 40.8,589.7 41.3,589.7 41.8,589.7 42.2,589.7 42.7,589.7 43.2,589.7 43.6,589.7 44.1,589.7 44.6,589.7 45.0,589.7 45.5,589.7 46.0,589.6 46.4,589.6 46.9,589.6 47.3,589.6 47.8,589.6 48.3,589.6 48.7,589.5 49.2,589.5 49.7,589.5 50.1,589.5 50.6,589.4 51.1,589.4 51.5,589.3 52.0,589.3 52.4,589.2 52.9,589.1 53.4,589.0 53.8,588.9 54.3,588.8 54.8,588.6 55.2,588.5 55.7,588.3 56.2,588.0 56.6,587.7 57.1,587.4 57.6,587.0 58.0,586.5 58.5,586.0 58.9,585.4 59.4,584.7 59.9,583.9 60.3,583.0 60.8,582.0 61.3,580.9 61.7,579.7 62.2,578.3 62.7,576.8 63.1,575.1 63.6,573.3 64.0,571.3 64.5,569.1 65.0,566.8 65.4,564.3 65.9,561.6 66.4,558.8 66.8,555.9 67.3,552.8 67.8,549.6 68.2,546.3 68.7,542.9 69.2,539.5 69.6,536.0 70.1,532.5 70.5,529.0 71.0,525.7 71.5,522.4 71.9,519.2 72.4,516.2 72.9,513.3 73.3,510.7 73.8,508.4 74.3,506.4 74.7,504.6 75.2,503.2 75.6,502.2 76.1,501.5 76.6,501.2 77.0,501.3 77.5,501.8 78.0,502.6 78.4,503.8 78.9,505.4 79.4,507.3 79.8,509.5 80.3,511.9 80.8,514.6 81.2,517.5 81.7,520.6 82.1,523.9 82.6,527.2 83.1,530.6 83.5,534.1 84.0,537.6 84.5,541.1 84.9,544.5 85.4,547.8 85.9,551.1 86.3,554.2 86.8,557.3 87.2,560.1 87.7,562.9 88.2,565.5 88.6,567.9 89.1,570.1 89.6,572.2 90.0,574.1 90.5,575.9 91.0,577.5 91.4,579.0 91.9,580.3 92.4,581.5 92.8,582.5 93.3,583.5 93.7,584.3 94.2,585.0 94.7,585.7 95.1,586.2 95.6,586.7 96.1,587.2 96.5,587.5 97.0,587.8 97.5,588.1 97.9,588.4 98.4,588.6 98.8,588.7 99.3,588.9 99.8,589.0 100.2,589.1 100.7,589.2 101.2,589.2 101.6,589.3 102.1,589.4 102.6,589.4 103.0,589.4 103.5,589.5 104.0,589.5 104.4,589.5 104.9,589.6 105.3,589.6 105.8,589.6 106.3,589.6 106.7,589.6 107.2,589.6 107.7,589.6 108.1,589.7 108.6,589.7 109.1,589.7 109.5,589.7 110.0,589.7 110.4,589.7 110.9,589.7 111.4,589.7 111.8,589.7 112.3,589.7 112.8,589.7 113.2,589.7 113.7,589.8 114.2,589.8 114.6,589.8 115.1,589.8 115.6,589.8 116.0,589.8 116.5,589.8 116.9,589.8 117.4,589.8 117.9,589.8 118.3,589.8 118.8,589.8 119.3,589.8 119.7,589.8 120.2,589.8 120.7,589.8 121.1,589.8 121.6,589.8 122.0,589.8 122.5,589.8 123.0,589.8 123.4,589.8 123.9,589.8 124.4,589.8 124.8,589.9 125.3,589.9 125.8,589.9 126.2,589.9 126.7,589.9 127.2,589.9 127.6,589.9 128.1,589.9 128.5,589.9 129.0,589.9 129.5,589.9 129.9,589.9 130.4,589.9 130.9,589.9 131.3,589.9 131.8,589.9 132.3,589.9 132.7,589.9 133.2,589.9 133.6,589.9 134.1,589.9 134.6,589.9 135.0,589.9 135.5,589.9 136.0,589.9 136.4,589.9 136.9,589.9 137.4,589.9 137.8,589.9 138.3,589.9 138.8,589.9 139.2,589.9 139.7,589.9 140.1,589.9 140.6,589.9 141.1,589.9 141.5,589.9 142.0,589.9 142.5,589.9 142.9,589.9 143.4,589.9 143.9,589.9 144.3,589.9 144.8,589.9 145.2,589.9 145.7,589.9 146.2,589.9 146.6,589.9 147.1,589.9 147.6,589.9 148.0,589.9 148.5,589.9 149.0,589.9 149.4,589.9 149.9,589.9 150.4,589.9 150.8,589.9 151.3,589.9 151.7,589.9 152.2,589.9 152.7,589.9 153.1,589.9 153.6,589.9 154.1,589.9 154.5,589.9 155.0,589.9 155.5,589.9 155.9,589.9 156.4,589.9 156.8,589.9 157.3,589.9 157.8,589.9 158.2,589.9 158.7,589.9 159.2,589.9 159.6,589.9 160.1,589.9 160.6,589.9 161.0,589.9 161.5,590.0 162.0,590.0 162.4,590.0 162.9,590.0 163.3,590.0 163.8,590.0 164.3,590.0 164.7,590.0 165.2,590.0 165.7,590.0 166.1,590.0 166.6,590.0 167.1,590.0 167.5,590.0 168.0,590.0 168.4,590.0 168.9,590.0 169.4,590.0 169.8,590.0 170.3,590.0 170.8,590.0 171.2,590.0 171.7,590.0 172.2,590.0 172.6,590.0 173.1,590.0 173.6,590.0 174.0,590.0 174.5,590.0 174.9,590.0 175.4,590.0 175.9,590.0 176.3,590.0 176.8,590.0 177.3,590.0 177.7,590.0 178.2,590.0 178.7,590.0 179.1,590.0 179.6,590.0 180.0,590.0 180.5,590.0 181.0,590.0 181.4,590.0 181.9,590.0 182.4,590.0 182.8,590.0 183.3,590.0 183.8,590.0 184.2,590.0 184.7,590.0 185.2,590.0 185.6,590.0 186.1,590.0 186.5,590.0 187.0,590.0 187.5,590.0 187.9,590.0 188.4,590.0 188.9,590.0 189.3,590.0 189.8,590.0" fill="none" stroke="#e8342c" stroke-width="1.5" stroke-linejoin="round" />
<polyline points="24.6,589.5 25.1,589.5 25.5,589.5 26.0,589.5 26.5,589.5 26.9,589.5 27.4,589.5 27.9,589.5 28.3,589.5 28.8,589.5 29.2,589.5 29.7,589.4 30.2,589.4 30.6,589.4 31.1,589.4 31.6,589.4 32.0,589.4 32.5,589.4 33.0,589.4 33.4,589.3 33.9,589.3 34.4,589.3 34.8,589.3 35.3,589.3 35.7,589.3 36.2,589.3 36.7,589.2 37.1,589.2 37.6,589.2 38.1,589.2 38.5,589.2 39.0,589.1 39.5,589.1 39.9,589.1 40.4,589.1 40.8,589.1 41.3,589.0 41.8,589.0 42.2,589.0 42.7,589.0 43.2,588.9 43.6,588.9 44.1,588.9 44.6,588.8 45.0,588.8 45.5,588.8 46.0,588.7 46.4,588.7 46.9,588.7 47.3,588.6 47.8,588.6 48.3,588.5 48.7,588.5 49.2,588.4 49.7,588.4 50.1,588.3 50.6,588.2 51.1,588.1 51.5,588.1 52.0,587.9 52.4,587.8 52.9,587.7 53.4,587.5 53.8,587.4 54.3,587.2 54.8,586.9 55.2,586.7 55.7,586.4 56.2,586.0 56.6,585.6 57.1,585.1 57.6,584.6 58.0,583.9 58.5,583.2 58.9,582.4 59.4,581.4 59.9,580.4 60.3,579.1 60.8,577.8 61.3,576.2 61.7,574.5 62.2,572.6 62.7,570.4 63.1,568.1 63.6,565.5 64.0,562.6 64.5,559.5 65.0,556.2 65.4,552.6 65.9,548.8 66.4,544.8 66.8,540.5 67.3,536.0 67.8,531.3 68.2,526.4 68.7,521.4 69.2,516.3 69.6,511.1 70.1,505.9 70.5,500.7 71.0,495.6 71.5,490.7 71.9,485.9 72.4,481.3 72.9,477.0 73.3,473.1 73.8,469.6 74.3,466.5 74.7,463.9 75.2,461.8 75.6,460.3 76.1,459.3 76.6,459.0 77.0,459.3 77.5,460.1 78.0,461.6 78.4,463.6 78.9,466.2 79.4,469.2 79.8,472.7 80.3,476.6 80.8,480.8 81.2,485.4 81.7,490.2 82.1,495.1 82.6,500.2 83.1,505.4 83.5,510.6 84.0,515.8 84.5,520.9 84.9,525.9 85.4,530.8 85.9,535.5 86.3,540.0 86.8,544.3 87.2,548.4 87.7,552.3 88.2,555.9 88.6,559.2 89.1,562.3 89.6,565.2 90.0,567.8 90.5,570.2 91.0,572.3 91.4,574.3 91.9,576.1 92.4,577.6 92.8,579.0 93.3,580.2 93.7,581.3 94.2,582.3 94.7,583.1 95.1,583.9 95.6,584.5 96.1,585.1 96.5,585.6 97.0,586.0 97.5,586.3 97.9,586.6 98.4,586.9 98.8,587.2 99.3,587.4 99.8,587.5 100.2,587.7 100.7,587.8 101.2,587.9 101.6,588.0 102.1,588.1 102.6,588.2 103.0,588.3 103.5,588.4 104.0,588.4 104.4,588.5 104.9,588.5 105.3,588.6 105.8,588.6 106.3,588.7 106.7,588.7 107.2,588.7 107.7,588.8 108.1,588.8 108.6,588.8 109.1,588.9 109.5,588.9 110.0,588.9 110.4,589.0 110.9,589.0 111.4,589.0 111.8,589.0 112.3,589.1 112.8,589.1 113.2,589.1 113.7,589.1 114.2,589.1 114.6,589.2 115.1,589.2 115.6,589.2 116.0,589.2 116.5,589.2 116.9,589.3 117.4,589.3 117.9,589.3 118.3,589.3 118.8,589.3 119.3,589.3 119.7,589.3 120.2,589.4 120.7,589.4 121.1,589.4 121.6,589.4 122.0,589.4 122.5,589.4 123.0,589.4 123.4,589.4 123.9,589.5 124.4,589.5 124.8,589.5 125.3,589.5 125.8,589.5 126.2,589.5 126.7,589.5 127.2,589.5 127.6,589.5 128.1,589.5 128.5,589.5 129.0,589.5 129.5,589.6 129.9,589.6 130.4,589.6 130.9,589.6 131.3,589.6 131.8,589.6 132.3,589.6 132.7,589.6 133.2,589.6 133.6,589.6 134.1,589.6 134.6,589.6 135.0,589.6 135.5,589.6 136.0,589.6 136.4,589.7 136.9,589.7 137.4,589.7 137.8,589.7 138.3,589.7 138.8,589.7 139.2,589.7 139.7,589.7 140.1,589.7 140.6,589.7 141.1,589.7 141.5,589.7 142.0,589.7 142.5,589.7 142.9,589.7 143.4,589.7 143.9,589.7 144.3,589.7 144.8,589.7 145.2,589.7 145.7,589.7 146.2,589.7 146.6,589.7 147.1,589.7 147.6,589.8 148.0,589.8 148.5,589.8 149.0,589.8 149.4,589.8 149.9,589.8 150.4,589.8 150.8,589.8 151.3,589.8 151.7,589.8 152.2,589.8 152.7,589.8 153.1,589.8 153.6,589.8 154.1,589.8 154.5,589.8 155.0,589.8 155.5,589.8 155.9,589.8 156.4,589.8 156.8,589.8 157.3,589.8 157.8,589.8 158.2,589.8 158.7,589.8 159.2,589.8 159.6,589.8 160.1,589.8 160.6,589.8 161.0,589.8 161.5,589.8 162.0,589.8 162.4,589.8 162.9,589.8 163.3,589.8 163.8,589.8 164.3,589.8 164.7,589.8 165.2,589.8 165.7,589.8 166.1,589.8 166.6,589.8 167.1,589.8 167.5,589.8 168.0,589.8 168.4,589.9 168.9,589.9 169.4,589.9 169.8,589.9 170.3,589.9 170.8,589.9 171.2,589.9 171.7,589.9 172.2,589.9 172.6,589.9 173.1,589.9 173.6,589.9 174.0,589.9 174.5,589.9 174.9,589.9 175.4,589.9 175.9,589.9 176.3,589.9 176.8,589.9 177.3,589.9 177.7,589.9 178.2,589.9 178.7,589.9 179.1,589.9 179.6,589.9 180.0,589.9 180.5,589.9 181.0,589.9 181.4,589.9 181.9,589.9 182.4,589.9 182.8,589.9 183.3,589.9 183.8,589.9 184.2,589.9 184.7,589.9 185.2,589.9 185.6,589.9 186.1,589.9 186.5,589.9 187.0,589.9 187.5,589.9 187.9,589.9 188.4,589.9 188.9,589.9 189.3,589.9 189.8,589.9" fill="none" stroke="#2a9a38" stroke-width="1.5" stroke-linejoin="round" />
<line x1="76.6" y1="449.0" x2="76.6" y2="594.0" stroke="#666" stroke-width="0.8" stroke-dasharray="1.2 1.2"/>
<path d="M23.7,449 L190.7,449 M23.7,448.3 L23.7,594.3 L190.7,594.3" fill="none" stroke="#333" stroke-width="1.5"/>
<line x1="190.7" y1="448.3" x2="190.7" y2="594.3" stroke="#555" stroke-width="1" />
<line x1="23.7" y1="469.7" x2="27.0" y2="469.7" stroke="#333" stroke-width="1" />
<line x1="23.7" y1="493.4" x2="27.0" y2="493.4" stroke="#333" stroke-width="1" />
<line x1="23.7" y1="517.5" x2="27.0" y2="517.5" stroke="#333" stroke-width="1" />
<line x1="23.7" y1="541.4" x2="27.0" y2="541.4" stroke="#333" stroke-width="1" />
<line x1="23.7" y1="565.5" x2="27.0" y2="565.5" stroke="#333" stroke-width="1" />
<line x1="37.6" y1="594.3" x2="37.6" y2="591.8" stroke="#333" stroke-width="1" />
<line x1="60.8" y1="594.3" x2="60.8" y2="590.3" stroke="#333" stroke-width="1" />
<line x1="84.0" y1="594.3" x2="84.0" y2="591.8" stroke="#333" stroke-width="1" />
<line x1="107.2" y1="594.3" x2="107.2" y2="590.3" stroke="#333" stroke-width="1" />
<line x1="130.4" y1="594.3" x2="130.4" y2="591.8" stroke="#333" stroke-width="1" />
<line x1="153.6" y1="594.3" x2="153.6" y2="590.3" stroke="#333" stroke-width="1" />
<line x1="176.8" y1="594.3" x2="176.8" y2="591.8" stroke="#333" stroke-width="1" />
<text x="60.8" y="603.6" font-size="9" fill="#333" font-family='"Liberation Sans", sans-serif' font-weight="bold" text-anchor="middle">500</text>
<text x="107.2" y="603.6" font-size="9" fill="#333" font-family='"Liberation Sans", sans-serif' font-weight="bold" text-anchor="middle">550</text>
<text x="153.6" y="603.6" font-size="9" fill="#333" font-family='"Liberation Sans", sans-serif' font-weight="bold" text-anchor="middle">600</text>
<text x="71.0" y="614.6" font-size="11" fill="#333" font-family='"Liberation Sans", sans-serif' font-weight="bold" textLength="71.7" lengthAdjust="spacingAndGlyphs">Wavelength (nm)</text>
<text x="0" y="0" font-size="10.5" font-weight="bold" font-family='"Liberation Sans", sans-serif' fill="#333" transform="translate(19.6,557) rotate(-90)" textLength="75.5" lengthAdjust="spacingAndGlyphs">EL Intensity (a.u.)</text>
<rect x="118.0" y="560.0" width="53.0" height="22.2" fill="#222" />
<rect x="116.5" y="558.4" width="52.5" height="21.6" fill="#ffffff" stroke="#bbb" stroke-width="0.6"/>
<line x1="120.0" y1="565.4" x2="135.2" y2="565.4" stroke="#e8342c" stroke-width="1.5" />
<line x1="120.0" y1="575.1" x2="135.2" y2="575.1" stroke="#2a9a38" stroke-width="1.5" />
<text x="138.3" y="568.5" font-size="8.5" fill="#222" font-family='"Liberation Sans", sans-serif' font-weight="bold" textLength="27.5" lengthAdjust="spacingAndGlyphs">W/O Au</text>
<text x="138.3" y="578.2" font-size="8.5" fill="#222" font-family='"Liberation Sans", sans-serif' font-weight="bold" textLength="27.5" lengthAdjust="spacingAndGlyphs">With Au</text>
<text x="206.8" y="439.0" font-size="18" fill="#111" font-family='"Liberation Sans", sans-serif'>(h)</text>
<line x1="222.4" y1="451.6" x2="222.4" y2="594.6" stroke="#dcebd4" stroke-width="0.7" />
<line x1="236.6" y1="451.6" x2="236.6" y2="594.6" stroke="#dcebd4" stroke-width="0.7" />
<line x1="250.8" y1="451.6" x2="250.8" y2="594.6" stroke="#dcebd4" stroke-width="0.7" />
<line x1="264.9" y1="451.6" x2="264.9" y2="594.6" stroke="#dcebd4" stroke-width="0.7" />
<line x1="279.1" y1="451.6" x2="279.1" y2="594.6" stroke="#dcebd4" stroke-width="0.7" />
<line x1="293.3" y1="451.6" x2="293.3" y2="594.6" stroke="#dcebd4" stroke-width="0.7" />
<line x1="307.4" y1="451.6" x2="307.4" y2="594.6" stroke="#dcebd4" stroke-width="0.7" />
<line x1="321.6" y1="451.6" x2="321.6" y2="594.6" stroke="#dcebd4" stroke-width="0.7" />
<line x1="335.8" y1="451.6" x2="335.8" y2="594.6" stroke="#dcebd4" stroke-width="0.7" />
<line x1="350.0" y1="451.6" x2="350.0" y2="594.6" stroke="#dcebd4" stroke-width="0.7" />
<line x1="364.1" y1="451.6" x2="364.1" y2="594.6" stroke="#dcebd4" stroke-width="0.7" />
<line x1="378.3" y1="451.6" x2="378.3" y2="594.6" stroke="#dcebd4" stroke-width="0.7" />
<line x1="392.5" y1="451.6" x2="392.5" y2="594.6" stroke="#dcebd4" stroke-width="0.7" />
<line x1="210.2" y1="471.8" x2="405.3" y2="471.8" stroke="#dcebd4" stroke-width="0.7" />
<line x1="210.2" y1="500.8" x2="405.3" y2="500.8" stroke="#dcebd4" stroke-width="0.7" />
<line x1="210.2" y1="529.8" x2="405.3" y2="529.8" stroke="#dcebd4" stroke-width="0.7" />
<line x1="210.2" y1="559.6" x2="405.3" y2="559.6" stroke="#dcebd4" stroke-width="0.7" />
<line x1="210.2" y1="588.7" x2="405.3" y2="588.7" stroke="#dcebd4" stroke-width="0.7" />
<polyline points="222.4,456.9 223.1,458.1 223.8,457.6 224.5,458.5 225.2,458.6 225.9,456.8 226.7,456.7 227.4,459.6 228.1,457.8 228.8,457.8 229.5,460.5 230.2,458.8 230.9,460.1 231.6,459.0 232.3,459.7 233.0,458.1 233.7,459.9 234.4,460.8 235.2,459.7 235.9,460.5 236.6,460.4 237.3,458.4 238.0,460.9 238.7,460.4 239.4,459.5 240.1,458.7 240.8,461.6 241.5,460.4 242.2,461.3 243.0,462.0 243.7,461.5 244.4,462.3 245.1,460.6 245.8,462.1 246.5,461.0 247.2,462.8 247.9,462.7 248.6,460.1 249.3,460.4 250.0,460.7 250.8,463.4 251.5,461.7 252.2,462.4 252.9,461.4 253.6,462.2 254.3,461.9 255.0,461.9 255.7,462.8 256.4,462.9 257.1,464.1 257.8,463.4 258.5,464.4 259.3,464.2 260.0,464.8 260.7,463.8 261.4,462.2 262.1,464.6 262.8,466.3 263.5,466.2 264.2,465.1 264.9,465.7 265.6,464.1 266.3,466.3 267.1,465.6 267.8,464.7 268.5,464.0 269.2,466.8 269.9,467.4 270.6,464.4 271.3,466.9 272.0,465.7 272.7,464.9 273.4,465.5 274.1,467.2 274.8,467.7 275.6,465.0 276.3,467.0 277.0,465.2 277.7,467.5 278.4,466.3 279.1,468.3 279.8,468.7 280.5,467.2 281.2,469.0 281.9,466.8 282.6,466.1 283.4,467.9 284.1,466.1 284.8,466.8 285.5,467.6 286.2,468.4 286.9,466.9 287.6,466.6 288.3,469.6 289.0,467.8 289.7,470.1 290.4,469.9 291.1,468.3 291.9,468.7 292.6,469.0 293.3,469.5 294.0,469.4 294.7,469.4 295.4,469.7 296.1,470.9 296.8,469.5 297.5,469.4 298.2,470.4 298.9,468.9 299.7,469.2 300.4,471.6 301.1,470.2 301.8,470.4 302.5,468.6 303.2,470.1 303.9,470.8 304.6,469.0 305.3,471.1 306.0,471.2 306.7,469.4 307.4,471.4 308.2,471.0 308.9,471.8 309.6,470.8 310.3,472.1 311.0,472.3 311.7,470.0 312.4,470.2 313.1,472.4 313.8,473.5 314.5,471.2 315.2,472.0 316.0,472.5 316.7,471.7 317.4,471.9 318.1,471.9 318.8,472.2 319.5,473.0 320.2,472.1 320.9,472.5 321.6,473.9 322.3,471.5 323.0,473.4 323.8,474.1 324.5,472.8 325.2,472.6 325.9,474.6 326.6,472.8 327.3,472.7 328.0,473.7 328.7,474.7 329.4,472.7 330.1,473.6 330.8,473.7 331.5,475.5 332.3,474.3 333.0,475.8 333.7,473.6 334.4,474.2 335.1,475.4 335.8,476.3 336.5,474.9 337.2,474.3 337.9,474.0 338.6,475.5 339.3,474.4 340.1,476.6 340.8,476.9 341.5,474.7 342.2,475.1 342.9,477.0 343.6,476.6 344.3,477.2 345.0,475.8 345.7,475.1 346.4,475.8 347.1,477.6 347.8,475.9 348.6,476.3 349.3,476.6 350.0,476.7 350.7,476.8 351.4,478.6 352.1,476.1 352.8,475.7 353.5,479.0 354.2,478.9 354.9,479.4 355.6,477.6 356.4,479.4 357.1,479.5 357.8,477.2 358.5,479.0 359.2,479.4 359.9,479.0 360.6,478.6 361.3,477.9 362.0,478.2 362.7,477.9 363.4,477.4 364.1,479.3 364.9,478.4 365.6,480.3 366.3,477.8 367.0,480.8 367.7,480.2 368.4,481.0 369.1,481.0 369.8,481.2 370.5,480.2 371.2,478.3 371.9,480.9 372.7,479.1 373.4,479.6 374.1,481.0 374.8,480.6 375.5,480.3 376.2,482.2 376.9,481.2 377.6,480.4 378.3,480.2 379.0,482.3 379.7,481.1 380.5,482.3 381.2,480.9 381.9,480.5 382.6,481.7 383.3,482.8 384.0,480.7 384.7,482.9 385.4,483.4 386.1,483.1 386.8,483.3 387.5,480.6 388.2,482.8 390.5,483.5 392.5,486.0" fill="none" stroke="#f03020" stroke-width="2.4" stroke-linejoin="round" />
<polyline points="222.4,589.6 222.4,457.5" fill="none" stroke="#f03020" stroke-width="1.3" stroke-linejoin="round" />
<polyline points="392.5,485.0 392.5,589.6 395.5,589.6" fill="none" stroke="#f03020" stroke-width="1.3" stroke-linejoin="round" />
<line x1="210.2" y1="451.6" x2="405.3" y2="451.6" stroke="#222" stroke-width="1.5" />
<line x1="210.2" y1="594.6" x2="405.3" y2="594.6" stroke="#222" stroke-width="1.5" />
<line x1="210.2" y1="451.6" x2="210.2" y2="594.6" stroke="#f03828" stroke-width="1.5" />
<line x1="405.3" y1="451.6" x2="405.3" y2="594.6" stroke="#2a44a8" stroke-width="1.5" />
<line x1="210.2" y1="471.8" x2="213.7" y2="471.8" stroke="#f03828" stroke-width="1" />
<line x1="210.2" y1="500.8" x2="213.7" y2="500.8" stroke="#f03828" stroke-width="1" />
<line x1="210.2" y1="529.8" x2="213.7" y2="529.8" stroke="#f03828" stroke-width="1" />
<line x1="210.2" y1="559.6" x2="213.7" y2="559.6" stroke="#f03828" stroke-width="1" />
<line x1="210.2" y1="588.7" x2="213.7" y2="588.7" stroke="#f03828" stroke-width="1" />
<line x1="405.3" y1="588.6" x2="403.3" y2="588.6" stroke="#2a44a8" stroke-width="1" />
<line x1="405.3" y1="574.3" x2="401.8" y2="574.3" stroke="#2a44a8" stroke-width="1" />
<line x1="405.3" y1="560.0" x2="403.3" y2="560.0" stroke="#2a44a8" stroke-width="1" />
<line x1="405.3" y1="545.6" x2="401.8" y2="545.6" stroke="#2a44a8" stroke-width="1" />
<line x1="405.3" y1="531.2" x2="403.3" y2="531.2" stroke="#2a44a8" stroke-width="1" />
<line x1="405.3" y1="516.9" x2="401.8" y2="516.9" stroke="#2a44a8" stroke-width="1" />
<line x1="405.3" y1="502.6" x2="403.3" y2="502.6" stroke="#2a44a8" stroke-width="1" />
<line x1="405.3" y1="488.2" x2="401.8" y2="488.2" stroke="#2a44a8" stroke-width="1" />
<line x1="405.3" y1="473.9" x2="403.3" y2="473.9" stroke="#2a44a8" stroke-width="1" />
<line x1="405.3" y1="459.5" x2="401.8" y2="459.5" stroke="#2a44a8" stroke-width="1" />
<line x1="222.4" y1="594.6" x2="222.4" y2="591.1" stroke="#222" stroke-width="1" />
<line x1="236.6" y1="594.6" x2="236.6" y2="592.6" stroke="#222" stroke-width="1" />
<line x1="250.8" y1="594.6" x2="250.8" y2="591.1" stroke="#222" stroke-width="1" />
<line x1="264.9" y1="594.6" x2="264.9" y2="592.6" stroke="#222" stroke-width="1" />
<line x1="279.1" y1="594.6" x2="279.1" y2="591.1" stroke="#222" stroke-width="1" />
<line x1="293.3" y1="594.6" x2="293.3" y2="592.6" stroke="#222" stroke-width="1" />
<line x1="307.4" y1="594.6" x2="307.4" y2="591.1" stroke="#222" stroke-width="1" />
<line x1="321.6" y1="594.6" x2="321.6" y2="592.6" stroke="#222" stroke-width="1" />
<line x1="335.8" y1="594.6" x2="335.8" y2="591.1" stroke="#222" stroke-width="1" />
<line x1="350.0" y1="594.6" x2="350.0" y2="592.6" stroke="#222" stroke-width="1" />
<line x1="364.1" y1="594.6" x2="364.1" y2="591.1" stroke="#222" stroke-width="1" />
<line x1="378.3" y1="594.6" x2="378.3" y2="592.6" stroke="#222" stroke-width="1" />
<line x1="392.5" y1="594.6" x2="392.5" y2="591.1" stroke="#222" stroke-width="1" />
<text x="222.4" y="603.6" font-size="9" fill="#333" font-family='"Liberation Sans", sans-serif' font-weight="bold" text-anchor="middle">0</text>
<text x="250.8" y="603.6" font-size="9" fill="#333" font-family='"Liberation Sans", sans-serif' font-weight="bold" text-anchor="middle">10</text>
<text x="279.1" y="603.6" font-size="9" fill="#333" font-family='"Liberation Sans", sans-serif' font-weight="bold" text-anchor="middle">20</text>
<text x="307.4" y="603.6" font-size="9" fill="#333" font-family='"Liberation Sans", sans-serif' font-weight="bold" text-anchor="middle">30</text>
<text x="335.8" y="603.6" font-size="9" fill="#333" font-family='"Liberation Sans", sans-serif' font-weight="bold" text-anchor="middle">40</text>
<text x="364.1" y="603.6" font-size="9" fill="#333" font-family='"Liberation Sans", sans-serif' font-weight="bold" text-anchor="middle">50</text>
<text x="392.5" y="603.6" font-size="9" fill="#333" font-family='"Liberation Sans", sans-serif' font-weight="bold" text-anchor="middle">60</text>
<text x="407.3" y="577.5" font-size="9" fill="#2a44a8" font-family='"Liberation Sans", sans-serif' font-weight="bold" textLength="12.0" lengthAdjust="spacingAndGlyphs">180</text>
<text x="407.3" y="548.8" font-size="9" fill="#2a44a8" font-family='"Liberation Sans", sans-serif' font-weight="bold" textLength="12.0" lengthAdjust="spacingAndGlyphs">200</text>
<text x="407.3" y="520.1" font-size="9" fill="#2a44a8" font-family='"Liberation Sans", sans-serif' font-weight="bold" textLength="12.0" lengthAdjust="spacingAndGlyphs">220</text>
<text x="407.3" y="491.4" font-size="9" fill="#2a44a8" font-family='"Liberation Sans", sans-serif' font-weight="bold" textLength="12.0" lengthAdjust="spacingAndGlyphs">240</text>
<text x="407.3" y="462.7" font-size="9" fill="#2a44a8" font-family='"Liberation Sans", sans-serif' font-weight="bold" textLength="12.0" lengthAdjust="spacingAndGlyphs">260</text>
<text x="269.0" y="615.4" font-size="11" fill="#333" font-family='"Liberation Sans", sans-serif' font-weight="bold" textLength="86.0" lengthAdjust="spacingAndGlyphs">Operating Time (h)</text>
<text x="0" y="0" font-size="10.5" font-weight="bold" font-family='"Liberation Sans", sans-serif' fill="#f03828" transform="translate(206,575.5) rotate(-90)" textLength="103.7" lengthAdjust="spacingAndGlyphs">Emission Intensity (a.u.)</text>
<text x="0" y="0" font-size="10.5" font-weight="bold" font-family='"Liberation Sans", sans-serif' fill="#2a44a8" transform="translate(430.3,577.4) rotate(-90)" textLength="111" lengthAdjust="spacingAndGlyphs">Current Density (mA/cm<tspan font-size="7" dy="-4">2</tspan><tspan dy="4">)</tspan></text>
<polyline points="222.4,589.8 236.6,582.3 250.8,549.2 264.9,530.2 279.1,516.0 293.3,507.1 307.4,504.4 321.6,501.4 335.8,491.4 350.0,495.7 364.1,490.1 378.3,486.9 392.5,484.2" fill="none" stroke="#2a50c0" stroke-width="1.3" stroke-linejoin="round" />
<rect x="218.4" y="585.8" width="8.0" height="8.0" fill="#ffffff" stroke="#1a3c9c" stroke-width="1"/>
<rect x="222.4" y="585.8" width="4.0" height="8.0" fill="#1a3c9c" />
<rect x="232.6" y="578.3" width="8.0" height="8.0" fill="#ffffff" stroke="#1a3c9c" stroke-width="1"/>
<rect x="236.6" y="578.3" width="4.0" height="8.0" fill="#1a3c9c" />
<rect x="246.8" y="545.2" width="8.0" height="8.0" fill="#ffffff" stroke="#1a3c9c" stroke-width="1"/>
<rect x="250.8" y="545.2" width="4.0" height="8.0" fill="#1a3c9c" />
<rect x="260.9" y="526.2" width="8.0" height="8.0" fill="#ffffff" stroke="#1a3c9c" stroke-width="1"/>
<rect x="264.9" y="526.2" width="4.0" height="8.0" fill="#1a3c9c" />
<rect x="275.1" y="512.0" width="8.0" height="8.0" fill="#ffffff" stroke="#1a3c9c" stroke-width="1"/>
<rect x="279.1" y="512.0" width="4.0" height="8.0" fill="#1a3c9c" />
<rect x="289.3" y="503.1" width="8.0" height="8.0" fill="#ffffff" stroke="#1a3c9c" stroke-width="1"/>
<rect x="293.3" y="503.1" width="4.0" height="8.0" fill="#1a3c9c" />
<rect x="303.4" y="500.4" width="8.0" height="8.0" fill="#ffffff" stroke="#1a3c9c" stroke-width="1"/>
<rect x="307.4" y="500.4" width="4.0" height="8.0" fill="#1a3c9c" />
<rect x="317.6" y="497.4" width="8.0" height="8.0" fill="#ffffff" stroke="#1a3c9c" stroke-width="1"/>
<rect x="321.6" y="497.4" width="4.0" height="8.0" fill="#1a3c9c" />
<rect x="331.8" y="487.4" width="8.0" height="8.0" fill="#ffffff" stroke="#1a3c9c" stroke-width="1"/>
<rect x="335.8" y="487.4" width="4.0" height="8.0" fill="#1a3c9c" />
<rect x="346.0" y="491.7" width="8.0" height="8.0" fill="#ffffff" stroke="#1a3c9c" stroke-width="1"/>
<rect x="350.0" y="491.7" width="4.0" height="8.0" fill="#1a3c9c" />
<rect x="360.1" y="486.1" width="8.0" height="8.0" fill="#ffffff" stroke="#1a3c9c" stroke-width="1"/>
<rect x="364.1" y="486.1" width="4.0" height="8.0" fill="#1a3c9c" />
<rect x="374.3" y="482.9" width="8.0" height="8.0" fill="#ffffff" stroke="#1a3c9c" stroke-width="1"/>
<rect x="378.3" y="482.9" width="4.0" height="8.0" fill="#1a3c9c" />
<rect x="388.5" y="480.2" width="8.0" height="8.0" fill="#ffffff" stroke="#1a3c9c" stroke-width="1"/>
<rect x="392.5" y="480.2" width="4.0" height="8.0" fill="#1a3c9c" />
<text x="309.6" y="547.2" font-size="8" fill="#222" font-family='"Liberation Sans", sans-serif' font-weight="bold" textLength="24.5" lengthAdjust="spacingAndGlyphs">@8.0 V</text>
<text x="266.4" y="561.6" font-size="7.5" font-weight="bold" font-family='"Liberation Sans", sans-serif' fill="#222" textLength="109.7" lengthAdjust="spacingAndGlyphs">25<tspan font-size="5" dy="-3">o</tspan><tspan dy="3">C, humidity 20%-30%, in air</tspan></text>
<text x="451.8" y="442.7" font-size="18" fill="#111" font-family='"Liberation Sans", sans-serif'>(i)</text>
<line x1="458.5" y1="460.6" x2="653.3" y2="460.6" stroke="#999" stroke-width="1" />
<line x1="566.4" y1="468.0" x2="602.4" y2="468.0" stroke="#888" stroke-width="1" />
<line x1="621.4" y1="474.7" x2="653.3" y2="474.7" stroke="#888" stroke-width="1" />
<line x1="573.4" y1="452.3" x2="573.4" y2="457.2" stroke="#111" stroke-width="0.9" />
<polygon points="573.4,460.0 571.4,456.0 575.4,456.0" fill="#111" />
<line x1="573.4" y1="476.0" x2="573.4" y2="471.3" stroke="#111" stroke-width="0.9" />
<polygon points="573.4,468.5 575.4,472.5 571.4,472.5" fill="#111" />
<line x1="630.9" y1="452.3" x2="630.9" y2="457.2" stroke="#111" stroke-width="0.9" />
<polygon points="630.9,460.0 628.9,456.0 632.9,456.0" fill="#111" />
<line x1="630.9" y1="482.6" x2="630.9" y2="477.8" stroke="#111" stroke-width="0.9" />
<polygon points="630.9,475.0 632.9,479.0 628.9,479.0" fill="#111" />
<rect x="458.5" y="451.2" width="194.8" height="143.2" fill="none" stroke="#222" stroke-width="1.5"/>
<line x1="458.5" y1="574.0" x2="460.5" y2="574.0" stroke="#222" stroke-width="0.9" />
<line x1="458.5" y1="562.2" x2="460.5" y2="562.2" stroke="#222" stroke-width="0.9" />
<line x1="458.5" y1="553.9" x2="460.5" y2="553.9" stroke="#222" stroke-width="0.9" />
<line x1="458.5" y1="547.4" x2="460.5" y2="547.4" stroke="#222" stroke-width="0.9" />
<line x1="458.5" y1="542.2" x2="460.5" y2="542.2" stroke="#222" stroke-width="0.9" />
<line x1="458.5" y1="537.7" x2="460.5" y2="537.7" stroke="#222" stroke-width="0.9" />
<line x1="458.5" y1="533.9" x2="460.5" y2="533.9" stroke="#222" stroke-width="0.9" />
<line x1="458.5" y1="530.4" x2="460.5" y2="530.4" stroke="#222" stroke-width="0.9" />
<line x1="458.5" y1="507.4" x2="460.5" y2="507.4" stroke="#222" stroke-width="0.9" />
<line x1="458.5" y1="495.6" x2="460.5" y2="495.6" stroke="#222" stroke-width="0.9" />
<line x1="458.5" y1="487.3" x2="460.5" y2="487.3" stroke="#222" stroke-width="0.9" />
<line x1="458.5" y1="480.8" x2="460.5" y2="480.8" stroke="#222" stroke-width="0.9" />
<line x1="458.5" y1="475.6" x2="460.5" y2="475.6" stroke="#222" stroke-width="0.9" />
<line x1="458.5" y1="471.1" x2="460.5" y2="471.1" stroke="#222" stroke-width="0.9" />
<line x1="458.5" y1="467.3" x2="460.5" y2="467.3" stroke="#222" stroke-width="0.9" />
<line x1="458.5" y1="463.8" x2="460.5" y2="463.8" stroke="#222" stroke-width="0.9" />
<line x1="458.5" y1="460.8" x2="462.5" y2="460.8" stroke="#222" stroke-width="1" />
<line x1="458.5" y1="527.4" x2="462.5" y2="527.4" stroke="#222" stroke-width="1" />
<line x1="458.5" y1="594.0" x2="462.5" y2="594.0" stroke="#222" stroke-width="1" />
<line x1="469.5" y1="594.4" x2="469.5" y2="590.9" stroke="#222" stroke-width="1" />
<text x="469.5" y="603.6" font-size="9" fill="#333" font-family='"Liberation Sans", sans-serif' font-weight="bold" text-anchor="middle">0</text>
<line x1="498.4" y1="594.4" x2="498.4" y2="590.9" stroke="#222" stroke-width="1" />
<text x="498.4" y="603.6" font-size="9" fill="#333" font-family='"Liberation Sans", sans-serif' font-weight="bold" text-anchor="middle">5</text>
<line x1="527.3" y1="594.4" x2="527.3" y2="590.9" stroke="#222" stroke-width="1" />
<text x="527.3" y="603.6" font-size="9" fill="#333" font-family='"Liberation Sans", sans-serif' font-weight="bold" text-anchor="middle">10</text>
<line x1="556.2" y1="594.4" x2="556.2" y2="590.9" stroke="#222" stroke-width="1" />
<text x="556.2" y="603.6" font-size="9" fill="#333" font-family='"Liberation Sans", sans-serif' font-weight="bold" text-anchor="middle">15</text>
<line x1="585.1" y1="594.4" x2="585.1" y2="590.9" stroke="#222" stroke-width="1" />
<text x="585.1" y="603.6" font-size="9" fill="#333" font-family='"Liberation Sans", sans-serif' font-weight="bold" text-anchor="middle">20</text>
<line x1="614.0" y1="594.4" x2="614.0" y2="590.9" stroke="#222" stroke-width="1" />
<text x="614.0" y="603.6" font-size="9" fill="#333" font-family='"Liberation Sans", sans-serif' font-weight="bold" text-anchor="middle">25</text>
<line x1="642.9" y1="594.4" x2="642.9" y2="590.9" stroke="#222" stroke-width="1" />
<text x="642.9" y="603.6" font-size="9" fill="#333" font-family='"Liberation Sans", sans-serif' font-weight="bold" text-anchor="middle">30</text>
<text x="456.6" y="464.0" font-size="8.5" fill="#333" font-family='"Liberation Sans", sans-serif' font-weight="bold" text-anchor="end">1</text>
<text x="456.6" y="530.6" font-size="8.5" fill="#333" font-family='"Liberation Sans", sans-serif' font-weight="bold" text-anchor="end">0.1</text>
<text x="456.6" y="597.2" font-size="8.5" fill="#333" font-family='"Liberation Sans", sans-serif' font-weight="bold" text-anchor="end">0.01</text>
<text x="534.0" y="614.6" font-size="11" fill="#333" font-family='"Liberation Sans", sans-serif' font-weight="bold" textLength="43.4" lengthAdjust="spacingAndGlyphs">Time (day)</text>
<text x="0" y="0" font-size="10" font-weight="bold" font-family='"Liberation Sans", sans-serif' fill="#333" transform="translate(442.5,584) rotate(-90)" textLength="125" lengthAdjust="spacingAndGlyphs">Normalized EL Intensity (a.u.)</text>
<circle cx="481.1" cy="462.1" r="4.3" fill="url(#rB)"/>
<circle cx="492.6" cy="461.3" r="4.3" fill="url(#rB)"/>
<circle cx="504.2" cy="460.8" r="4.3" fill="url(#rB)"/>
<circle cx="515.7" cy="463.3" r="4.3" fill="url(#rB)"/>
<circle cx="527.3" cy="464.4" r="4.3" fill="url(#rB)"/>
<circle cx="538.9" cy="464.4" r="4.3" fill="url(#rB)"/>
<circle cx="556.2" cy="465.0" r="4.3" fill="url(#rB)"/>
<circle cx="585.1" cy="468.0" r="4.3" fill="url(#rB)"/>
<circle cx="614.0" cy="471.2" r="4.3" fill="url(#rB)"/>
<circle cx="642.9" cy="474.5" r="4.3" fill="url(#rB)"/>
<rect x="466.0" y="457.3" width="7.0" height="7.0" fill="#ffffff" stroke="#1a3c9c" stroke-width="1"/>
<rect x="466.0" y="457.3" width="7.0" height="3.5" fill="#1a3c9c" />
<rect x="468.9" y="466.0" width="7.0" height="7.0" fill="#ffffff" stroke="#1a3c9c" stroke-width="1"/>
<rect x="468.9" y="466.0" width="7.0" height="3.5" fill="#1a3c9c" />
<rect x="471.8" y="467.5" width="7.0" height="7.0" fill="#ffffff" stroke="#1a3c9c" stroke-width="1"/>
<rect x="471.8" y="467.5" width="7.0" height="3.5" fill="#1a3c9c" />
<rect x="474.7" y="477.6" width="7.0" height="7.0" fill="#ffffff" stroke="#1a3c9c" stroke-width="1"/>
<rect x="474.7" y="477.6" width="7.0" height="3.5" fill="#1a3c9c" />
<rect x="477.6" y="521.8" width="7.0" height="7.0" fill="#ffffff" stroke="#1a3c9c" stroke-width="1"/>
<rect x="477.6" y="521.8" width="7.0" height="3.5" fill="#1a3c9c" />
<rect x="483.3" y="571.5" width="7.0" height="7.0" fill="#ffffff" stroke="#1a3c9c" stroke-width="1"/>
<rect x="483.3" y="571.5" width="7.0" height="3.5" fill="#1a3c9c" />
<text x="554.0" y="488.8" font-size="9" fill="#222" font-family='"Liberation Serif", serif' font-weight="bold" textLength="38.0" lengthAdjust="spacingAndGlyphs">20% decay</text>
<text x="610.6" y="496.5" font-size="9" fill="#222" font-family='"Liberation Serif", serif' font-weight="bold" textLength="38.4" lengthAdjust="spacingAndGlyphs">35% decay</text>
<text x="557.8" y="517.2" font-size="8" fill="#222" font-family='"Liberation Sans", sans-serif' font-weight="bold" textLength="25.3" lengthAdjust="spacingAndGlyphs">@8.0 V</text>
<text x="523" y="530" font-size="7.5" font-weight="bold" font-family='"Liberation Sans", sans-serif' fill="#222" textLength="100.3" lengthAdjust="spacingAndGlyphs">25<tspan font-size="5" dy="-3">o</tspan><tspan dy="3">C, humidity 20%-30%, in air</tspan></text>
<rect x="524.0" y="551.0" width="101.0" height="20.5" fill="#111" />
<rect x="522.0" y="549.4" width="101.3" height="20.3" fill="#ffffff" stroke="#aaa" stroke-width="0.6"/>
<circle cx="534" cy="555.1" r="3.6" fill="url(#rB)"/>
<rect x="531.0" y="561.6" width="6.0" height="6.0" fill="#ffffff" stroke="#1a3c9c" stroke-width="1"/>
<rect x="531.0" y="561.6" width="6.0" height="3.0" fill="#1a3c9c" />
<text x="543.9" y="558.3" font-size="8.5" fill="#222" font-family='"Liberation Sans", sans-serif' font-weight="bold" textLength="69.0" lengthAdjust="spacingAndGlyphs">The studied PeLED</text>
<text x="543.9" y="568.2" font-size="8.5" fill="#222" font-family='"Liberation Sans", sans-serif' font-weight="bold" textLength="76.0" lengthAdjust="spacingAndGlyphs">The reference PeLED</text>
</svg>
</body></html>
